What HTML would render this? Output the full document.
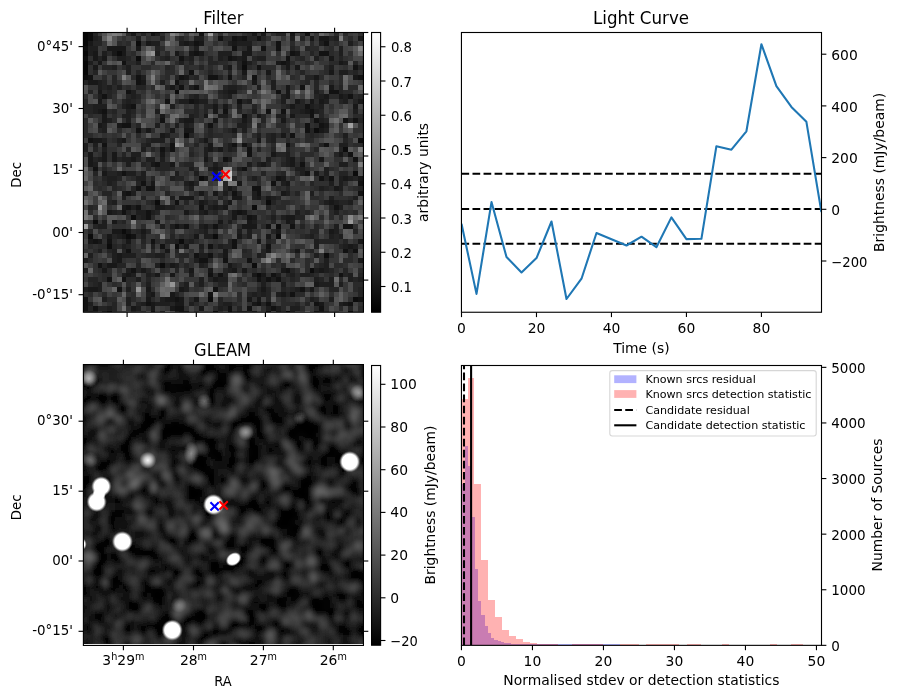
<!DOCTYPE html>
<html lang="en"><head><meta charset="utf-8"><title>Candidate plot</title>
<style>html,body{margin:0;padding:0;background:#fff}svg{display:block}</style></head>
<body>
<svg width="898" height="699" viewBox="0 0 898 699" font-family='"DejaVu Sans", "Liberation Sans", sans-serif' fill="#000">
<defs>
<linearGradient id="cb" x1="0" y1="1" x2="0" y2="0"><stop offset="0" stop-color="#000"/><stop offset="1" stop-color="#fff"/></linearGradient>
<radialGradient id="blob"><stop offset="0" stop-color="#fff" stop-opacity="1"/><stop offset="0.7" stop-color="#fff" stop-opacity="1"/><stop offset="0.81" stop-color="#fff" stop-opacity="0.62"/><stop offset="0.91" stop-color="#fff" stop-opacity="0.2"/><stop offset="1" stop-color="#fff" stop-opacity="0"/></radialGradient>
<radialGradient id="soft"><stop offset="0" stop-color="#fff" stop-opacity="1"/><stop offset="0.4" stop-color="#fff" stop-opacity="0.7"/><stop offset="1" stop-color="#fff" stop-opacity="0"/></radialGradient>
<filter id="bl" x="-5%" y="-5%" width="110%" height="110%"><feGaussianBlur stdDeviation="1.9"/></filter>
<clipPath id="c1"><rect x="83.4" y="32.5" width="280.05" height="279.7"/></clipPath>
<clipPath id="c2"><rect x="83.4" y="364.55" width="280.05" height="279.4"/></clipPath>
<clipPath id="c3"><rect x="461.45" y="32.5" width="360.05" height="279.75"/></clipPath>
<clipPath id="c4"><rect x="461.45" y="365.5" width="360.05" height="279.85"/></clipPath>
</defs>
<rect width="898" height="699" fill="#fff"/>
<g clip-path="url(#c1)" shape-rendering="crispEdges">
<rect x="83.40" y="32.50" width="280.05" height="279.70" fill="#343434" stroke="none" stroke-width="1.111"/>
<path fill="#060606" d="M83 32h5v4h-5zM83 36h5v5h-5zM83 41h5v5h-5zM83 51h5v5h-5zM83 61h5v4h-5zM83 65h5v5h-5zM83 70h5v5h-5z"/>
<path fill="#0c0c0c" d="M88 32h5v4h-5zM88 36h5v5h-5zM136 41h5v5h-5zM83 46h5v5h-5zM117 51h5v5h-5zM83 56h5v5h-5zM136 56h5v5h-5zM242 65h5v5h-5zM83 75h5v5h-5zM175 90h4v4h-4zM363 118h4v5h-4zM314 128h5v5h-5zM184 133h5v5h-5zM358 138h5v5h-5zM343 147h5v5h-5zM353 171h5v5h-5zM199 176h5v5h-5zM155 200h5v5h-5zM266 200h5v5h-5zM252 205h5v5h-5zM131 215h5v5h-5zM93 220h5v4h-5zM276 224h5v5h-5zM122 229h4v5h-4zM88 234h5v5h-5zM126 234h5v5h-5zM213 234h5v5h-5zM276 234h5v5h-5zM179 239h5v5h-5zM107 244h5v5h-5zM175 244h4v5h-4zM324 253h5v5h-5zM160 263h5v5h-5zM252 263h5v5h-5zM310 268h4v5h-4zM257 273h4v4h-4zM208 297h5v5h-5zM353 297h5v5h-5zM286 311h4v5h-4z"/>
<path fill="#121212" d="M151 32h4v4h-4zM199 32h5v4h-5zM305 32h5v4h-5zM218 36h5v5h-5zM232 36h5v5h-5zM242 36h5v5h-5zM257 36h4v5h-4zM194 41h5v5h-5zM276 41h5v5h-5zM324 41h5v5h-5zM232 46h5v5h-5zM261 46h5v5h-5zM276 46h5v5h-5zM194 51h5v5h-5zM290 51h5v5h-5zM319 51h10v5h-10zM179 56h5v5h-5zM228 56h4v5h-4zM286 56h4v5h-4zM122 61h4v4h-4zM242 61h5v4h-5zM281 61h5v4h-5zM257 65h4v5h-4zM353 65h5v5h-5zM189 70h5v5h-5zM88 75h5v5h-5zM136 75h5v5h-5zM179 75h5v5h-5zM208 75h10v5h-10zM228 75h4v5h-4zM252 75h5v5h-5zM358 75h5v5h-5zM136 80h5v5h-5zM175 80h4v5h-4zM179 85h5v5h-5zM194 85h5v5h-5zM300 85h5v5h-5zM126 90h5v4h-5zM276 90h5v4h-5zM329 90h10v4h-10zM102 94h5v5h-5zM348 94h5v5h-5zM363 94h4v5h-4zM165 99h5v5h-5zM189 99h5v5h-5zM237 99h5v5h-5zM131 104h5v5h-5zM305 104h5v5h-5zM102 109h5v5h-5zM223 109h5v5h-5zM266 109h5v5h-5zM281 109h5v5h-5zM310 109h4v5h-4zM242 114h5v4h-5zM310 114h4v4h-4zM160 118h5v5h-5zM314 118h5v5h-5zM343 118h5v5h-5zM353 118h5v5h-5zM122 123h9v5h-9zM208 123h5v5h-5zM305 123h5v5h-5zM319 123h5v5h-5zM136 128h5v5h-5zM305 128h5v5h-5zM290 133h5v5h-5zM88 138h5v5h-5zM102 143h5v4h-5zM170 143h5v4h-5zM232 143h5v4h-5zM242 143h5v4h-5zM286 143h4v4h-4zM324 143h5v4h-5zM160 147h5v5h-5zM170 147h5v5h-5zM247 147h5v5h-5zM247 152h5v5h-5zM348 152h5v5h-5zM223 157h5v5h-5zM353 157h5v5h-5zM155 162h5v5h-5zM300 162h5v5h-5zM93 167h5v4h-5zM242 167h5v4h-5zM122 171h4v5h-4zM305 171h5v5h-5zM276 176h5v5h-5zM319 176h5v5h-5zM329 176h5v5h-5zM141 181h5v5h-5zM271 181h5v5h-5zM358 181h5v5h-5zM136 186h5v5h-5zM146 186h9v5h-9zM252 186h9v5h-9zM126 191h5v5h-5zM232 191h5v5h-5zM257 191h4v5h-4zM358 191h5v5h-5zM175 200h4v5h-4zM126 205h5v5h-5zM136 205h5v5h-5zM199 205h5v5h-5zM334 205h5v5h-5zM122 210h4v5h-4zM146 210h5v5h-5zM237 210h5v5h-5zM146 215h5v5h-5zM247 215h5v5h-5zM175 224h4v5h-4zM184 224h5v5h-5zM213 224h5v5h-5zM266 224h5v5h-5zM290 224h5v5h-5zM343 224h10v5h-10zM131 234h5v5h-5zM93 239h5v5h-5zM107 239h5v5h-5zM151 239h4v5h-4zM232 239h5v5h-5zM160 244h5v5h-5zM208 244h5v5h-5zM232 244h5v5h-5zM266 244h5v5h-5zM126 249h5v4h-5zM343 249h5v4h-5zM353 249h5v4h-5zM194 253h5v5h-5zM208 253h5v5h-5zM199 258h9v5h-9zM223 258h5v5h-5zM247 258h5v5h-5zM98 263h4v5h-4zM131 268h5v5h-5zM286 268h4v5h-4zM208 273h5v4h-5zM218 273h5v4h-5zM271 273h5v4h-5zM339 273h4v4h-4zM107 277h5v5h-5zM122 277h4v5h-4zM257 277h4v5h-4zM266 277h5v5h-5zM276 277h5v5h-5zM117 287h5v5h-5zM213 287h5v5h-5zM300 287h5v5h-5zM208 292h5v5h-5zM290 292h5v5h-5zM83 297h5v5h-5zM175 297h4v5h-4zM358 297h5v5h-5zM83 302h5v4h-5zM146 302h5v4h-5zM257 302h4v4h-4zM266 302h5v4h-5zM314 302h5v4h-5zM348 302h5v4h-5zM83 306h5v5h-5zM93 306h5v5h-5zM175 306h9v5h-9zM228 306h4v5h-4zM247 306h5v5h-5zM271 306h5v5h-5zM319 306h5v5h-5zM107 311h5v5h-5zM213 311h5v5h-5zM348 311h5v5h-5z"/>
<path fill="#181818" d="M131 32h5v4h-5zM252 32h5v4h-5zM261 32h5v4h-5zM290 32h5v4h-5zM237 36h5v5h-5zM310 36h4v5h-4zM319 36h10v5h-10zM358 36h9v5h-9zM88 41h5v5h-5zM146 41h5v5h-5zM184 41h5v5h-5zM199 41h5v5h-5zM232 41h5v5h-5zM363 41h4v5h-4zM107 46h19v5h-19zM136 46h5v5h-5zM247 46h5v5h-5zM93 51h5v5h-5zM112 51h5v5h-5zM122 51h4v5h-4zM175 51h4v5h-4zM189 51h5v5h-5zM199 51h5v5h-5zM242 51h10v5h-10zM295 51h5v5h-5zM93 56h5v5h-5zM102 56h5v5h-5zM232 56h5v5h-5zM242 56h5v5h-5zM329 56h5v5h-5zM98 61h4v4h-4zM276 61h5v4h-5zM286 61h4v4h-4zM339 61h4v4h-4zM93 65h5v5h-5zM228 65h4v5h-4zM286 65h4v5h-4zM295 65h5v5h-5zM242 70h5v5h-5zM266 70h5v5h-5zM329 70h5v5h-5zM184 75h5v5h-5zM314 75h5v5h-5zM353 75h5v5h-5zM88 80h10v5h-10zM141 80h5v5h-5zM252 80h5v5h-5zM170 85h5v5h-5zM286 85h4v5h-4zM329 85h5v5h-5zM98 90h4v4h-4zM228 90h9v4h-9zM286 90h4v4h-4zM286 94h4v5h-4zM324 94h5v5h-5zM339 94h4v5h-4zM98 99h4v5h-4zM194 99h5v5h-5zM295 99h5v5h-5zM310 99h4v5h-4zM319 99h5v5h-5zM358 99h5v5h-5zM126 104h5v5h-5zM213 104h5v5h-5zM223 104h5v5h-5zM290 104h5v5h-5zM353 104h5v5h-5zM98 109h4v5h-4zM213 109h5v5h-5zM305 109h5v5h-5zM102 114h5v4h-5zM160 114h5v4h-5zM204 114h4v4h-4zM257 114h4v4h-4zM290 114h5v4h-5zM102 118h5v5h-5zM184 118h10v5h-10zM213 118h5v5h-5zM242 118h5v5h-5zM281 118h5v5h-5zM98 123h4v5h-4zM117 123h5v5h-5zM324 123h5v5h-5zM146 128h5v5h-5zM170 128h5v5h-5zM184 128h10v5h-10zM232 128h5v5h-5zM319 128h5v5h-5zM160 133h5v5h-5zM281 133h5v5h-5zM93 138h9v5h-9zM122 138h4v5h-4zM204 138h4v5h-4zM257 138h4v5h-4zM208 143h5v4h-5zM208 147h5v5h-5zM218 147h5v5h-5zM88 152h5v5h-5zM102 152h5v5h-5zM112 152h5v5h-5zM160 152h5v5h-5zM271 152h5v5h-5zM339 152h4v5h-4zM88 157h5v5h-5zM102 157h5v5h-5zM112 157h5v5h-5zM131 157h5v5h-5zM204 157h4v5h-4zM290 157h5v5h-5zM319 157h5v5h-5zM88 162h5v5h-5zM151 162h4v5h-4zM170 162h5v5h-5zM261 162h5v5h-5zM290 162h5v5h-5zM213 167h5v4h-5zM102 171h5v5h-5zM314 171h5v5h-5zM204 176h4v5h-4zM281 176h5v5h-5zM343 176h5v5h-5zM358 176h5v5h-5zM151 181h4v5h-4zM189 181h5v5h-5zM237 181h5v5h-5zM286 181h4v5h-4zM228 186h4v5h-4zM334 186h5v5h-5zM122 191h4v5h-4zM199 191h5v5h-5zM213 191h5v5h-5zM281 191h5v5h-5zM179 196h15v4h-15zM232 196h10v4h-10zM257 196h4v4h-4zM266 196h5v4h-5zM199 200h5v5h-5zM228 200h4v5h-4zM329 200h5v5h-5zM122 205h4v5h-4zM155 205h10v5h-10zM213 205h5v5h-5zM223 205h5v5h-5zM107 210h5v5h-5zM184 210h5v5h-5zM204 210h4v5h-4zM232 210h5v5h-5zM242 210h5v5h-5zM232 215h5v5h-5zM252 215h5v5h-5zM286 215h9v5h-9zM112 220h5v4h-5zM155 220h5v4h-5zM218 220h5v4h-5zM247 220h5v4h-5zM286 220h4v4h-4zM204 224h4v5h-4zM242 224h15v5h-15zM112 229h10v5h-10zM126 229h5v5h-5zM141 229h5v5h-5zM276 229h5v5h-5zM329 229h5v5h-5zM107 234h5v5h-5zM122 234h4v5h-4zM194 234h5v5h-5zM237 234h5v5h-5zM266 234h5v5h-5zM88 239h5v5h-5zM98 239h4v5h-4zM126 239h5v5h-5zM257 239h4v5h-4zM358 239h5v5h-5zM184 244h5v5h-5zM348 244h5v5h-5zM165 249h5v4h-5zM223 249h5v4h-5zM266 249h5v4h-5zM295 249h5v4h-5zM117 253h5v5h-5zM223 253h5v5h-5zM117 258h5v5h-5zM358 258h5v5h-5zM107 263h10v5h-10zM170 263h5v5h-5zM228 263h4v5h-4zM102 268h5v5h-5zM141 268h5v5h-5zM189 268h5v5h-5zM208 268h5v5h-5zM232 268h5v5h-5zM242 268h5v5h-5zM281 268h5v5h-5zM319 268h5v5h-5zM126 273h5v4h-5zM155 273h5v4h-5zM170 273h5v4h-5zM252 273h5v4h-5zM261 273h5v4h-5zM213 277h5v5h-5zM314 282h5v5h-5zM88 287h10v5h-10zM146 287h5v5h-5zM179 287h5v5h-5zM261 287h5v5h-5zM310 287h4v5h-4zM151 292h4v5h-4zM170 292h5v5h-5zM281 292h5v5h-5zM146 297h5v5h-5zM165 297h10v5h-10zM179 297h5v5h-5zM194 297h5v5h-5zM247 297h5v5h-5zM257 297h4v5h-4zM151 302h4v4h-4zM175 302h9v4h-9zM252 302h5v4h-5zM319 302h5v4h-5zM343 302h5v4h-5zM131 306h5v5h-5zM151 306h4v5h-4zM170 306h5v5h-5zM199 306h5v5h-5zM151 311h4v5h-4zM228 311h4v5h-4zM266 311h5v5h-5z"/>
<path fill="#1e1e1e" d="M155 32h5v4h-5zM93 36h5v5h-5zM136 36h5v5h-5zM194 36h10v5h-10zM290 36h5v5h-5zM334 36h5v5h-5zM151 41h9v5h-9zM179 41h5v5h-5zM189 41h5v5h-5zM228 41h4v5h-4zM237 41h15v5h-15zM319 41h5v5h-5zM348 41h5v5h-5zM88 46h10v5h-10zM194 46h5v5h-5zM339 46h4v5h-4zM88 51h5v5h-5zM102 51h5v5h-5zM155 51h5v5h-5zM218 51h14v5h-14zM339 51h4v5h-4zM117 56h9v5h-9zM165 56h5v5h-5zM189 56h5v5h-5zM218 56h5v5h-5zM237 56h5v5h-5zM257 56h9v5h-9zM314 56h5v5h-5zM88 61h5v4h-5zM136 61h5v4h-5zM179 61h5v4h-5zM247 61h5v4h-5zM343 61h5v4h-5zM112 65h5v5h-5zM126 65h5v5h-5zM329 65h5v5h-5zM363 65h4v5h-4zM126 70h5v5h-5zM339 70h9v5h-9zM141 75h5v5h-5zM363 75h4v5h-4zM98 80h4v5h-4zM160 80h5v5h-5zM271 80h5v5h-5zM98 85h4v5h-4zM107 85h5v5h-5zM117 85h5v5h-5zM189 85h5v5h-5zM228 85h9v5h-9zM257 85h4v5h-4zM271 85h5v5h-5zM131 90h5v4h-5zM223 90h5v4h-5zM314 90h5v4h-5zM98 94h4v5h-4zM131 94h5v5h-5zM194 94h5v5h-5zM228 94h4v5h-4zM281 94h5v5h-5zM319 94h5v5h-5zM343 94h5v5h-5zM126 99h5v5h-5zM179 99h10v5h-10zM199 99h9v5h-9zM247 99h5v5h-5zM281 99h5v5h-5zM324 99h5v5h-5zM343 99h5v5h-5zM93 104h14v5h-14zM122 104h4v5h-4zM170 104h5v5h-5zM237 104h5v5h-5zM310 104h4v5h-4zM319 104h5v5h-5zM93 109h5v5h-5zM126 109h5v5h-5zM155 109h5v5h-5zM252 109h5v5h-5zM300 109h5v5h-5zM314 109h5v5h-5zM353 109h5v5h-5zM122 114h9v4h-9zM189 114h5v4h-5zM218 114h10v4h-10zM276 114h10v4h-10zM363 114h4v4h-4zM107 118h5v5h-5zM126 118h5v5h-5zM179 118h5v5h-5zM319 118h5v5h-5zM102 123h5v5h-5zM155 123h5v5h-5zM175 123h4v5h-4zM184 123h5v5h-5zM237 123h10v5h-10zM102 128h5v5h-5zM242 128h5v5h-5zM324 128h5v5h-5zM165 133h5v5h-5zM257 133h4v5h-4zM271 133h5v5h-5zM343 133h5v5h-5zM102 138h5v5h-5zM117 138h5v5h-5zM151 138h14v5h-14zM271 138h5v5h-5zM83 143h5v4h-5zM93 143h5v4h-5zM146 143h5v4h-5zM228 143h4v4h-4zM339 143h9v4h-9zM83 147h5v5h-5zM102 147h5v5h-5zM141 147h5v5h-5zM204 147h4v5h-4zM228 147h4v5h-4zM131 152h10v5h-10zM204 152h4v5h-4zM286 152h4v5h-4zM98 157h4v5h-4zM122 157h9v5h-9zM146 157h9v5h-9zM160 157h5v5h-5zM228 157h4v5h-4zM266 157h5v5h-5zM286 157h4v5h-4zM93 162h5v5h-5zM126 162h5v5h-5zM213 162h5v5h-5zM247 162h5v5h-5zM257 162h4v5h-4zM286 162h4v5h-4zM339 162h9v5h-9zM189 167h5v4h-5zM208 167h5v4h-5zM218 167h5v4h-5zM237 167h5v4h-5zM295 167h10v4h-10zM324 167h5v4h-5zM117 171h5v5h-5zM126 171h10v5h-10zM141 171h5v5h-5zM175 171h4v5h-4zM194 171h5v5h-5zM213 171h5v5h-5zM300 171h5v5h-5zM324 171h5v5h-5zM107 176h10v5h-10zM136 176h10v5h-10zM170 176h5v5h-5zM213 176h5v5h-5zM252 176h5v5h-5zM339 176h4v5h-4zM348 176h5v5h-5zM107 181h5v5h-5zM184 181h5v5h-5zM281 181h5v5h-5zM329 181h5v5h-5zM339 181h4v5h-4zM189 186h5v5h-5zM319 186h5v5h-5zM339 186h4v5h-4zM131 191h5v5h-5zM223 191h5v5h-5zM252 191h5v5h-5zM286 191h4v5h-4zM310 191h4v5h-4zM122 196h4v4h-4zM170 196h5v4h-5zM252 196h5v4h-5zM271 196h5v4h-5zM329 196h5v4h-5zM353 196h5v4h-5zM112 200h5v5h-5zM204 200h4v5h-4zM324 200h5v5h-5zM334 200h5v5h-5zM348 200h5v5h-5zM131 205h5v5h-5zM165 205h10v5h-10zM208 205h5v5h-5zM218 205h5v5h-5zM339 205h4v5h-4zM112 210h5v5h-5zM136 210h10v5h-10zM151 210h4v5h-4zM199 210h5v5h-5zM295 210h5v5h-5zM334 210h5v5h-5zM141 215h5v5h-5zM271 215h5v5h-5zM281 215h5v5h-5zM102 220h5v4h-5zM228 220h4v4h-4zM252 220h5v4h-5zM290 220h5v4h-5zM98 224h9v5h-9zM160 224h5v5h-5zM170 224h5v5h-5zM179 224h5v5h-5zM199 224h5v5h-5zM334 224h5v5h-5zM204 229h4v5h-4zM237 229h5v5h-5zM247 229h5v5h-5zM334 229h5v5h-5zM363 229h4v5h-4zM117 234h5v5h-5zM141 234h5v5h-5zM204 234h9v5h-9zM247 234h5v5h-5zM310 234h4v5h-4zM329 234h5v5h-5zM339 234h4v5h-4zM175 239h4v5h-4zM189 239h5v5h-5zM314 239h5v5h-5zM122 244h4v5h-4zM151 244h4v5h-4zM199 244h5v5h-5zM218 244h5v5h-5zM314 244h5v5h-5zM343 244h5v5h-5zM353 244h5v5h-5zM363 244h4v5h-4zM98 249h4v4h-4zM112 249h5v4h-5zM88 253h5v5h-5zM112 253h5v5h-5zM122 253h14v5h-14zM155 253h10v5h-10zM199 253h9v5h-9zM257 253h4v5h-4zM314 253h5v5h-5zM83 258h5v5h-5zM112 258h5v5h-5zM194 258h5v5h-5zM324 258h5v5h-5zM155 263h5v5h-5zM175 263h4v5h-4zM199 263h5v5h-5zM324 263h5v5h-5zM83 268h5v5h-5zM126 268h5v5h-5zM228 268h4v5h-4zM314 268h5v5h-5zM324 268h5v5h-5zM122 273h4v4h-4zM131 273h5v4h-5zM146 273h5v4h-5zM189 273h5v4h-5zM276 273h5v4h-5zM290 273h5v4h-5zM300 273h10v4h-10zM348 273h5v4h-5zM136 277h5v5h-5zM199 277h5v5h-5zM218 277h10v5h-10zM261 277h5v5h-5zM271 277h5v5h-5zM314 277h5v5h-5zM329 277h5v5h-5zM348 277h5v5h-5zM358 277h5v5h-5zM98 282h4v5h-4zM146 282h5v5h-5zM184 282h5v5h-5zM199 282h5v5h-5zM261 282h5v5h-5zM281 282h5v5h-5zM319 282h15v5h-15zM339 282h4v5h-4zM83 287h5v5h-5zM98 287h4v5h-4zM126 287h5v5h-5zM184 287h5v5h-5zM295 287h5v5h-5zM146 292h5v5h-5zM252 292h5v5h-5zM261 292h5v5h-5zM276 292h5v5h-5zM102 297h5v5h-5zM126 297h5v5h-5zM160 297h5v5h-5zM310 297h4v5h-4zM329 297h5v5h-5zM88 302h5v4h-5zM126 302h5v4h-5zM141 302h5v4h-5zM155 302h15v4h-15zM189 302h5v4h-5zM223 302h9v4h-9zM339 302h4v4h-4zM107 306h5v5h-5zM136 306h5v5h-5zM218 306h5v5h-5zM266 306h5v5h-5zM276 306h5v5h-5zM290 306h10v5h-10zM179 311h5v5h-5zM314 311h5v5h-5z"/>
<path fill="#242424" d="M93 32h5v4h-5zM141 32h5v4h-5zM276 32h10v4h-10zM98 36h4v5h-4zM160 36h5v5h-5zM179 36h5v5h-5zM247 36h10v5h-10zM261 36h5v5h-5zM300 36h5v5h-5zM329 36h5v5h-5zM93 41h9v5h-9zM155 46h5v5h-5zM290 46h5v5h-5zM305 46h5v5h-5zM310 51h4v5h-4zM98 56h4v5h-4zM126 56h5v5h-5zM160 56h5v5h-5zM184 56h5v5h-5zM208 56h5v5h-5zM223 56h5v5h-5zM252 56h5v5h-5zM300 56h5v5h-5zM339 56h4v5h-4zM189 61h5v4h-5zM208 61h10v4h-10zM237 61h5v4h-5zM353 61h5v4h-5zM102 65h10v5h-10zM165 65h5v5h-5zM199 65h5v5h-5zM223 65h5v5h-5zM237 65h5v5h-5zM358 65h5v5h-5zM93 70h5v5h-5zM136 70h5v5h-5zM208 70h5v5h-5zM228 70h4v5h-4zM300 70h5v5h-5zM353 70h5v5h-5zM112 75h5v5h-5zM175 75h4v5h-4zM194 75h5v5h-5zM218 75h5v5h-5zM242 75h5v5h-5zM305 75h9v5h-9zM83 80h5v5h-5zM102 80h5v5h-5zM112 80h5v5h-5zM305 80h5v5h-5zM314 80h5v5h-5zM102 85h5v5h-5zM136 85h10v5h-10zM165 85h5v5h-5zM223 85h5v5h-5zM237 85h5v5h-5zM314 85h5v5h-5zM339 85h4v5h-4zM88 90h5v4h-5zM107 90h5v4h-5zM218 90h5v4h-5zM339 90h4v4h-4zM107 94h5v5h-5zM126 94h5v5h-5zM136 94h5v5h-5zM189 94h5v5h-5zM223 94h5v5h-5zM314 94h5v5h-5zM358 94h5v5h-5zM83 99h5v5h-5zM122 99h4v5h-4zM131 99h5v5h-5zM242 99h5v5h-5zM300 99h5v5h-5zM339 99h4v5h-4zM353 99h5v5h-5zM363 99h4v5h-4zM83 104h10v5h-10zM194 104h5v5h-5zM204 104h9v5h-9zM252 104h5v5h-5zM286 104h4v5h-4zM295 104h10v5h-10zM314 104h5v5h-5zM83 109h10v5h-10zM112 109h5v5h-5zM131 109h5v5h-5zM194 109h5v5h-5zM204 109h4v5h-4zM237 109h5v5h-5zM290 109h10v5h-10zM319 109h5v5h-5zM363 109h4v5h-4zM194 114h5v4h-5zM247 114h5v4h-5zM261 114h5v4h-5zM319 114h5v4h-5zM247 118h5v5h-5zM261 118h5v5h-5zM324 118h5v5h-5zM348 118h5v5h-5zM358 118h5v5h-5zM136 123h5v5h-5zM189 123h5v5h-5zM257 123h4v5h-4zM98 128h4v5h-4zM208 128h5v5h-5zM228 128h4v5h-4zM310 128h4v5h-4zM189 133h5v5h-5zM208 133h5v5h-5zM266 133h5v5h-5zM310 133h4v5h-4zM146 138h5v5h-5zM170 138h5v5h-5zM199 138h5v5h-5zM266 138h5v5h-5zM343 138h5v5h-5zM117 143h5v4h-5zM141 143h5v4h-5zM194 143h5v4h-5zM247 143h5v4h-5zM319 143h5v4h-5zM93 147h5v5h-5zM126 147h5v5h-5zM151 147h4v5h-4zM165 147h5v5h-5zM213 147h5v5h-5zM232 147h5v5h-5zM257 147h4v5h-4zM271 147h5v5h-5zM286 147h4v5h-4zM314 147h5v5h-5zM339 147h4v5h-4zM122 152h4v5h-4zM189 152h5v5h-5zM276 152h10v5h-10zM334 152h5v5h-5zM93 157h5v5h-5zM117 157h5v5h-5zM136 157h5v5h-5zM300 157h5v5h-5zM141 162h5v5h-5zM160 162h10v5h-10zM184 162h10v5h-10zM266 162h5v5h-5zM281 162h5v5h-5zM102 167h5v4h-5zM155 167h15v4h-15zM93 171h5v5h-5zM107 171h10v5h-10zM261 171h5v5h-5zM281 171h5v5h-5zM339 171h9v5h-9zM102 176h5v5h-5zM117 176h5v5h-5zM151 176h4v5h-4zM175 176h9v5h-9zM232 176h5v5h-5zM324 176h5v5h-5zM353 176h5v5h-5zM112 181h5v5h-5zM136 181h5v5h-5zM194 181h5v5h-5zM223 181h5v5h-5zM310 181h4v5h-4zM112 186h5v5h-5zM131 186h5v5h-5zM223 186h5v5h-5zM232 186h5v5h-5zM286 186h4v5h-4zM324 186h5v5h-5zM358 186h5v5h-5zM102 191h10v5h-10zM165 191h5v5h-5zM237 191h5v5h-5zM295 191h5v5h-5zM363 191h4v5h-4zM141 196h5v4h-5zM218 196h5v4h-5zM276 196h5v4h-5zM107 200h5v5h-5zM151 200h4v5h-4zM184 200h5v5h-5zM213 200h5v5h-5zM223 200h5v5h-5zM271 200h5v5h-5zM339 200h9v5h-9zM88 205h5v5h-5zM266 205h5v5h-5zM329 205h5v5h-5zM117 210h5v5h-5zM126 210h5v5h-5zM155 210h5v5h-5zM213 210h5v5h-5zM305 210h5v5h-5zM136 215h5v5h-5zM295 215h10v5h-10zM122 220h4v4h-4zM271 220h5v4h-5zM93 224h5v5h-5zM208 224h5v5h-5zM218 224h5v5h-5zM300 224h5v5h-5zM314 224h5v5h-5zM88 229h5v5h-5zM136 229h5v5h-5zM146 229h5v5h-5zM199 229h5v5h-5zM271 229h5v5h-5zM310 229h9v5h-9zM353 229h5v5h-5zM112 234h5v5h-5zM170 234h5v5h-5zM305 234h5v5h-5zM334 234h5v5h-5zM141 239h5v5h-5zM165 239h10v5h-10zM184 239h5v5h-5zM228 239h4v5h-4zM266 239h5v5h-5zM319 239h20v5h-20zM343 239h5v5h-5zM112 244h5v5h-5zM126 244h5v5h-5zM223 244h9v5h-9zM339 244h4v5h-4zM107 249h5v4h-5zM122 249h4v4h-4zM175 249h4v4h-4zM199 249h5v4h-5zM242 249h5v4h-5zM261 249h5v4h-5zM310 249h4v4h-4zM348 249h5v4h-5zM146 253h9v5h-9zM179 253h10v5h-10zM218 253h5v5h-5zM261 253h5v5h-5zM102 263h5v5h-5zM117 263h9v5h-9zM136 263h5v5h-5zM165 263h5v5h-5zM184 263h5v5h-5zM204 263h4v5h-4zM232 263h5v5h-5zM281 263h5v5h-5zM319 263h5v5h-5zM136 268h5v5h-5zM146 268h5v5h-5zM175 268h4v5h-4zM223 268h5v5h-5zM290 268h5v5h-5zM329 268h5v5h-5zM343 268h5v5h-5zM151 273h4v4h-4zM223 273h5v4h-5zM286 273h4v4h-4zM310 273h4v4h-4zM343 273h5v4h-5zM358 273h5v4h-5zM88 277h10v5h-10zM146 277h5v5h-5zM208 277h5v5h-5zM290 277h5v5h-5zM319 277h5v5h-5zM353 277h5v5h-5zM93 282h5v5h-5zM218 282h10v5h-10zM257 287h4v5h-4zM266 287h5v5h-5zM281 287h5v5h-5zM290 287h5v5h-5zM329 287h10v5h-10zM358 287h5v5h-5zM175 292h4v5h-4zM247 292h5v5h-5zM257 292h4v5h-4zM266 292h5v5h-5zM286 292h4v5h-4zM358 292h5v5h-5zM218 297h5v5h-5zM266 297h5v5h-5zM314 297h5v5h-5zM112 302h5v4h-5zM136 302h5v4h-5zM170 302h5v4h-5zM218 302h5v4h-5zM261 302h5v4h-5zM295 302h5v4h-5zM305 302h5v4h-5zM88 306h5v5h-5zM98 306h9v5h-9zM112 306h5v5h-5zM223 306h5v5h-5zM237 306h5v5h-5zM348 306h5v5h-5zM102 311h5v5h-5zM184 311h5v5h-5zM252 311h5v5h-5zM276 311h5v5h-5zM319 311h5v5h-5z"/>
<path fill="#2a2a2a" d="M126 32h5v4h-5zM247 32h5v4h-5zM334 32h5v4h-5zM343 32h5v4h-5zM223 36h9v5h-9zM348 36h5v5h-5zM117 41h5v5h-5zM126 41h5v5h-5zM290 41h5v5h-5zM310 41h4v5h-4zM334 41h5v5h-5zM160 46h5v5h-5zM242 46h5v5h-5zM310 46h9v5h-9zM329 46h5v5h-5zM363 46h4v5h-4zM107 51h5v5h-5zM131 51h5v5h-5zM165 51h5v5h-5zM179 51h5v5h-5zM329 51h5v5h-5zM199 56h5v5h-5zM295 56h5v5h-5zM126 61h10v4h-10zM151 61h4v4h-4zM175 61h4v4h-4zM218 61h10v4h-10zM252 61h5v4h-5zM290 61h5v4h-5zM305 61h5v4h-5zM329 61h10v4h-10zM122 65h4v5h-4zM141 65h10v5h-10zM170 65h5v5h-5zM184 65h5v5h-5zM208 65h5v5h-5zM247 65h5v5h-5zM261 65h15v5h-15zM281 65h5v5h-5zM324 65h5v5h-5zM165 70h10v5h-10zM286 70h4v5h-4zM324 70h5v5h-5zM348 70h5v5h-5zM363 70h4v5h-4zM102 75h5v5h-5zM131 75h5v5h-5zM165 75h5v5h-5zM189 75h5v5h-5zM266 75h5v5h-5zM290 75h5v5h-5zM319 75h5v5h-5zM339 75h4v5h-4zM179 80h5v5h-5zM300 80h5v5h-5zM329 80h5v5h-5zM339 80h4v5h-4zM112 85h5v5h-5zM126 85h5v5h-5zM151 85h4v5h-4zM175 85h4v5h-4zM242 85h5v5h-5zM348 85h10v5h-10zM102 90h5v4h-5zM112 90h5v4h-5zM319 90h5v4h-5zM343 90h10v4h-10zM165 94h5v5h-5zM204 94h4v5h-4zM218 94h5v5h-5zM329 94h10v5h-10zM353 94h5v5h-5zM136 99h5v5h-5zM175 99h4v5h-4zM213 99h5v5h-5zM314 99h5v5h-5zM228 104h4v5h-4zM281 104h5v5h-5zM107 109h5v5h-5zM184 109h10v5h-10zM88 114h5v4h-5zM112 114h5v4h-5zM131 114h5v4h-5zM295 114h15v4h-15zM353 114h10v4h-10zM83 118h5v5h-5zM112 118h5v5h-5zM237 118h5v5h-5zM310 118h4v5h-4zM83 123h5v5h-5zM165 123h5v5h-5zM204 123h4v5h-4zM247 123h5v5h-5zM276 123h10v5h-10zM314 123h5v5h-5zM83 128h5v5h-5zM117 128h5v5h-5zM141 128h5v5h-5zM151 128h4v5h-4zM223 128h5v5h-5zM281 128h9v5h-9zM83 133h10v5h-10zM136 133h5v5h-5zM204 133h4v5h-4zM213 133h10v5h-10zM232 133h5v5h-5zM252 133h5v5h-5zM276 133h5v5h-5zM305 133h5v5h-5zM314 133h5v5h-5zM112 138h5v5h-5zM286 138h4v5h-4zM305 138h9v5h-9zM223 143h5v4h-5zM271 143h5v4h-5zM290 143h5v4h-5zM353 143h10v4h-10zM189 147h5v5h-5zM223 147h5v5h-5zM300 152h14v5h-14zM343 152h5v5h-5zM208 157h5v5h-5zM281 157h5v5h-5zM146 162h5v5h-5zM179 162h5v5h-5zM204 162h4v5h-4zM218 162h5v5h-5zM295 162h5v5h-5zM146 167h5v4h-5zM170 167h5v4h-5zM194 167h5v4h-5zM305 167h5v4h-5zM329 167h5v4h-5zM276 171h5v5h-5zM295 171h5v5h-5zM131 176h5v5h-5zM247 176h5v5h-5zM257 176h4v5h-4zM271 176h5v5h-5zM290 176h5v5h-5zM93 181h5v5h-5zM102 181h5v5h-5zM257 181h4v5h-4zM343 181h5v5h-5zM98 186h4v5h-4zM117 186h5v5h-5zM184 186h5v5h-5zM276 186h5v5h-5zM314 186h5v5h-5zM329 186h5v5h-5zM353 186h5v5h-5zM83 191h5v5h-5zM194 191h5v5h-5zM204 191h4v5h-4zM339 191h4v5h-4zM107 196h5v4h-5zM204 196h4v4h-4zM261 196h5v4h-5zM310 196h9v4h-9zM348 196h5v4h-5zM146 200h5v5h-5zM194 200h5v5h-5zM208 200h5v5h-5zM281 200h9v5h-9zM319 200h5v5h-5zM93 205h5v5h-5zM175 205h9v5h-9zM276 205h10v5h-10zM300 205h5v5h-5zM88 210h5v5h-5zM189 210h5v5h-5zM208 210h5v5h-5zM228 210h4v5h-4zM271 210h5v5h-5zM300 210h5v5h-5zM329 210h5v5h-5zM343 210h5v5h-5zM353 210h5v5h-5zM93 215h5v5h-5zM151 215h4v5h-4zM165 215h5v5h-5zM218 215h5v5h-5zM228 215h4v5h-4zM242 215h5v5h-5zM266 215h5v5h-5zM319 215h5v5h-5zM329 215h5v5h-5zM339 215h4v5h-4zM117 220h5v4h-5zM141 224h5v5h-5zM223 224h5v5h-5zM237 224h5v5h-5zM261 224h5v5h-5zM363 224h4v5h-4zM131 229h5v5h-5zM170 229h5v5h-5zM194 229h5v5h-5zM213 229h5v5h-5zM102 234h5v5h-5zM136 234h5v5h-5zM179 234h5v5h-5zM189 234h5v5h-5zM242 234h5v5h-5zM300 234h5v5h-5zM314 234h5v5h-5zM112 239h5v5h-5zM122 239h4v5h-4zM155 239h5v5h-5zM194 239h5v5h-5zM271 239h5v5h-5zM88 244h5v5h-5zM98 244h9v5h-9zM117 244h5v5h-5zM141 244h5v5h-5zM179 244h5v5h-5zM213 244h5v5h-5zM93 249h5v4h-5zM151 249h4v4h-4zM247 249h5v4h-5zM290 249h5v4h-5zM305 249h5v4h-5zM141 253h5v5h-5zM175 253h4v5h-4zM242 253h10v5h-10zM329 253h5v5h-5zM348 253h5v5h-5zM88 258h5v5h-5zM136 258h5v5h-5zM160 258h5v5h-5zM179 258h5v5h-5zM208 258h5v5h-5zM276 258h5v5h-5zM290 258h5v5h-5zM305 258h5v5h-5zM343 258h10v5h-10zM237 263h5v5h-5zM271 263h5v5h-5zM305 263h5v5h-5zM314 263h5v5h-5zM334 263h9v5h-9zM98 268h4v5h-4zM107 268h5v5h-5zM160 268h5v5h-5zM184 268h5v5h-5zM252 268h5v5h-5zM261 268h5v5h-5zM305 268h5v5h-5zM358 268h5v5h-5zM102 273h10v4h-10zM213 273h5v4h-5zM295 273h5v4h-5zM314 273h5v4h-5zM329 273h5v4h-5zM102 277h5v5h-5zM126 277h10v5h-10zM237 277h5v5h-5zM252 277h5v5h-5zM281 277h5v5h-5zM295 277h5v5h-5zM339 277h4v5h-4zM88 282h5v5h-5zM112 282h5v5h-5zM126 282h5v5h-5zM179 282h5v5h-5zM194 282h5v5h-5zM242 282h5v5h-5zM353 282h10v5h-10zM286 287h4v5h-4zM305 287h5v5h-5zM353 287h5v5h-5zM88 292h5v5h-5zM102 292h5v5h-5zM131 292h5v5h-5zM237 292h5v5h-5zM295 292h10v5h-10zM107 297h10v5h-10zM131 297h5v5h-5zM151 297h4v5h-4zM189 297h5v5h-5zM237 297h5v5h-5zM281 297h5v5h-5zM194 302h5v4h-5zM204 302h4v4h-4zM232 302h5v4h-5zM281 302h14v4h-14zM363 302h4v4h-4zM213 306h5v5h-5zM281 306h5v5h-5zM300 306h5v5h-5zM314 306h5v5h-5zM339 306h4v5h-4zM358 306h5v5h-5zM83 311h10v5h-10zM237 311h10v5h-10zM290 311h5v5h-5z"/>
<path fill="#303030" d="M160 32h5v4h-5zM218 32h5v4h-5zM242 32h5v4h-5zM271 32h5v4h-5zM300 32h5v4h-5zM358 32h5v4h-5zM122 36h4v5h-4zM146 36h5v5h-5zM175 36h4v5h-4zM184 36h5v5h-5zM266 36h5v5h-5zM122 41h4v5h-4zM141 41h5v5h-5zM213 41h5v5h-5zM223 41h5v5h-5zM252 41h5v5h-5zM261 41h5v5h-5zM329 41h5v5h-5zM353 41h5v5h-5zM189 46h5v5h-5zM237 46h5v5h-5zM295 46h5v5h-5zM324 46h5v5h-5zM126 51h5v5h-5zM204 51h4v5h-4zM257 51h9v5h-9zM276 51h5v5h-5zM286 51h4v5h-4zM314 51h5v5h-5zM334 51h5v5h-5zM348 51h5v5h-5zM88 56h5v5h-5zM112 56h5v5h-5zM131 56h5v5h-5zM155 56h5v5h-5zM170 56h5v5h-5zM319 56h5v5h-5zM334 56h5v5h-5zM343 56h5v5h-5zM93 61h5v4h-5zM184 61h5v4h-5zM310 61h4v4h-4zM88 65h5v5h-5zM189 65h10v5h-10zM252 65h5v5h-5zM343 65h5v5h-5zM88 70h5v5h-5zM184 70h5v5h-5zM204 70h4v5h-4zM213 70h5v5h-5zM257 70h4v5h-4zM295 70h5v5h-5zM319 70h5v5h-5zM358 70h5v5h-5zM160 75h5v5h-5zM237 75h5v5h-5zM295 75h5v5h-5zM117 80h5v5h-5zM184 80h5v5h-5zM232 80h5v5h-5zM122 85h4v5h-4zM290 85h5v5h-5zM334 85h5v5h-5zM141 90h5v4h-5zM237 90h5v4h-5zM252 90h5v4h-5zM83 94h5v5h-5zM93 94h5v5h-5zM112 94h5v5h-5zM155 94h5v5h-5zM199 94h5v5h-5zM102 99h5v5h-5zM112 99h5v5h-5zM276 99h5v5h-5zM117 104h5v5h-5zM218 104h5v5h-5zM329 104h5v5h-5zM141 109h5v5h-5zM199 109h5v5h-5zM247 109h5v5h-5zM93 114h9v4h-9zM199 114h5v4h-5zM228 114h4v4h-4zM98 118h4v5h-4zM122 118h4v5h-4zM199 118h5v5h-5zM223 118h5v5h-5zM232 118h5v5h-5zM286 118h4v5h-4zM295 118h5v5h-5zM131 123h5v5h-5zM213 123h5v5h-5zM261 123h5v5h-5zM295 123h5v5h-5zM310 123h4v5h-4zM339 123h4v5h-4zM358 123h5v5h-5zM165 128h5v5h-5zM204 128h4v5h-4zM213 128h5v5h-5zM257 128h4v5h-4zM353 128h10v5h-10zM102 133h5v5h-5zM112 133h5v5h-5zM126 133h5v5h-5zM170 133h9v5h-9zM223 133h9v5h-9zM286 133h4v5h-4zM319 133h5v5h-5zM339 133h4v5h-4zM107 138h5v5h-5zM141 138h5v5h-5zM194 138h5v5h-5zM208 138h5v5h-5zM223 138h5v5h-5zM295 138h5v5h-5zM348 138h5v5h-5zM165 143h5v4h-5zM184 143h5v4h-5zM204 143h4v4h-4zM348 143h5v4h-5zM107 147h10v5h-10zM155 147h5v5h-5zM290 147h5v5h-5zM310 147h4v5h-4zM83 152h5v5h-5zM98 152h4v5h-4zM107 152h5v5h-5zM165 152h5v5h-5zM194 152h5v5h-5zM223 152h9v5h-9zM290 152h5v5h-5zM107 157h5v5h-5zM252 157h9v5h-9zM271 157h5v5h-5zM295 157h5v5h-5zM334 157h9v5h-9zM102 162h5v5h-5zM208 162h5v5h-5zM223 162h5v5h-5zM252 162h5v5h-5zM353 162h5v5h-5zM107 167h5v4h-5zM290 167h5v4h-5zM334 167h5v4h-5zM353 167h5v4h-5zM136 171h5v5h-5zM160 171h5v5h-5zM184 171h5v5h-5zM237 171h5v5h-5zM319 171h5v5h-5zM363 171h4v5h-4zM93 176h5v5h-5zM126 176h5v5h-5zM194 176h5v5h-5zM218 176h5v5h-5zM314 176h5v5h-5zM363 176h4v5h-4zM98 181h4v5h-4zM146 181h5v5h-5zM300 181h5v5h-5zM314 181h15v5h-15zM93 186h5v5h-5zM102 186h5v5h-5zM122 186h4v5h-4zM141 186h5v5h-5zM160 186h5v5h-5zM281 186h5v5h-5zM310 186h4v5h-4zM348 186h5v5h-5zM218 191h5v5h-5zM228 191h4v5h-4zM290 191h5v5h-5zM319 191h5v5h-5zM155 196h5v4h-5zM223 196h5v4h-5zM319 196h5v4h-5zM334 196h14v4h-14zM136 200h5v5h-5zM170 200h5v5h-5zM237 200h5v5h-5zM261 200h5v5h-5zM276 200h5v5h-5zM290 200h5v5h-5zM107 205h5v5h-5zM141 205h5v5h-5zM151 205h4v5h-4zM204 205h4v5h-4zM237 205h5v5h-5zM271 205h5v5h-5zM131 210h5v5h-5zM194 210h5v5h-5zM247 210h5v5h-5zM257 210h9v5h-9zM310 210h4v5h-4zM339 210h4v5h-4zM348 210h5v5h-5zM126 215h5v5h-5zM170 215h5v5h-5zM223 215h5v5h-5zM261 215h5v5h-5zM276 215h5v5h-5zM88 220h5v4h-5zM199 220h5v4h-5zM223 220h5v4h-5zM232 220h5v4h-5zM257 220h9v4h-9zM281 220h5v4h-5zM300 220h5v4h-5zM112 224h14v5h-14zM189 224h5v5h-5zM319 224h5v5h-5zM353 224h5v5h-5zM98 229h4v5h-4zM189 229h5v5h-5zM252 229h9v5h-9zM286 229h4v5h-4zM295 229h10v5h-10zM324 229h5v5h-5zM155 234h5v5h-5zM184 234h5v5h-5zM218 234h5v5h-5zM257 234h4v5h-4zM363 234h4v5h-4zM102 239h5v5h-5zM131 239h5v5h-5zM213 239h5v5h-5zM237 239h5v5h-5zM339 239h4v5h-4zM353 239h5v5h-5zM93 244h5v5h-5zM131 244h5v5h-5zM165 244h5v5h-5zM261 244h5v5h-5zM295 244h10v5h-10zM83 249h5v4h-5zM131 249h10v4h-10zM160 249h5v4h-5zM189 249h5v4h-5zM208 249h5v4h-5zM107 253h5v5h-5zM136 253h5v5h-5zM165 253h5v5h-5zM213 253h5v5h-5zM295 253h5v5h-5zM319 253h5v5h-5zM122 258h4v5h-4zM189 258h5v5h-5zM310 258h4v5h-4zM319 258h5v5h-5zM93 263h5v5h-5zM179 263h5v5h-5zM189 263h5v5h-5zM261 263h5v5h-5zM276 263h5v5h-5zM343 263h5v5h-5zM93 268h5v5h-5zM117 268h5v5h-5zM165 268h5v5h-5zM237 268h5v5h-5zM247 268h5v5h-5zM295 268h5v5h-5zM334 268h5v5h-5zM98 273h4v4h-4zM242 273h5v4h-5zM266 273h5v4h-5zM324 273h5v4h-5zM98 277h4v5h-4zM247 277h5v5h-5zM286 277h4v5h-4zM117 282h5v5h-5zM141 282h5v5h-5zM213 282h5v5h-5zM237 282h5v5h-5zM257 282h4v5h-4zM266 282h5v5h-5zM290 282h5v5h-5zM151 287h4v5h-4zM194 287h5v5h-5zM218 287h5v5h-5zM83 292h5v5h-5zM126 292h5v5h-5zM179 292h5v5h-5zM329 292h5v5h-5zM252 297h5v5h-5zM286 297h4v5h-4zM305 297h5v5h-5zM348 297h5v5h-5zM363 297h4v5h-4zM107 302h5v4h-5zM237 302h5v4h-5zM247 302h5v4h-5zM271 302h5v4h-5zM324 302h5v4h-5zM358 302h5v4h-5zM126 306h5v5h-5zM146 306h5v5h-5zM184 306h5v5h-5zM261 306h5v5h-5zM324 306h5v5h-5zM93 311h5v5h-5zM160 311h5v5h-5zM175 311h4v5h-4z"/>
<path fill="#363636" d="M136 32h5v4h-5zM146 32h5v4h-5zM257 32h4v4h-4zM314 32h5v4h-5zM131 36h5v5h-5zM151 36h9v5h-9zM281 36h5v5h-5zM314 36h5v5h-5zM343 36h5v5h-5zM102 41h5v5h-5zM257 41h4v5h-4zM271 41h5v5h-5zM102 46h5v5h-5zM126 46h5v5h-5zM208 46h5v5h-5zM160 51h5v5h-5zM208 51h5v5h-5zM252 51h5v5h-5zM305 51h5v5h-5zM175 56h4v5h-4zM204 56h4v5h-4zM213 56h5v5h-5zM276 56h5v5h-5zM290 56h5v5h-5zM305 56h5v5h-5zM348 56h5v5h-5zM363 56h4v5h-4zM102 61h5v4h-5zM199 61h5v4h-5zM228 61h4v4h-4zM261 61h5v4h-5zM300 61h5v4h-5zM319 61h10v4h-10zM363 61h4v4h-4zM117 65h5v5h-5zM131 65h10v5h-10zM151 65h9v5h-9zM204 65h4v5h-4zM213 65h5v5h-5zM290 65h5v5h-5zM339 65h4v5h-4zM107 70h10v5h-10zM131 70h5v5h-5zM141 70h5v5h-5zM199 70h5v5h-5zM218 70h5v5h-5zM237 70h5v5h-5zM271 70h5v5h-5zM305 70h5v5h-5zM334 70h5v5h-5zM204 75h4v5h-4zM223 75h5v5h-5zM271 75h5v5h-5zM165 80h5v5h-5zM266 80h5v5h-5zM295 80h5v5h-5zM334 80h5v5h-5zM88 85h10v5h-10zM131 85h5v5h-5zM146 85h5v5h-5zM184 85h5v5h-5zM199 85h5v5h-5zM281 85h5v5h-5zM136 90h5v4h-5zM151 90h9v4h-9zM242 90h5v4h-5zM141 94h5v5h-5zM184 94h5v5h-5zM252 94h5v5h-5zM223 99h5v5h-5zM305 99h5v5h-5zM348 99h5v5h-5zM141 104h5v5h-5zM155 104h5v5h-5zM184 104h5v5h-5zM199 104h5v5h-5zM257 104h4v5h-4zM266 104h15v5h-15zM117 109h9v5h-9zM242 109h5v5h-5zM329 109h5v5h-5zM107 114h5v4h-5zM117 114h5v4h-5zM141 114h5v4h-5zM165 114h5v4h-5zM324 114h5v4h-5zM155 118h5v5h-5zM194 118h5v5h-5zM276 118h5v5h-5zM223 123h5v5h-5zM300 123h5v5h-5zM363 123h4v5h-4zM131 128h5v5h-5zM218 128h5v5h-5zM237 128h5v5h-5zM339 128h4v5h-4zM93 133h5v5h-5zM107 133h5v5h-5zM117 133h5v5h-5zM194 133h5v5h-5zM242 133h5v5h-5zM261 133h5v5h-5zM334 133h5v5h-5zM353 133h5v5h-5zM126 138h5v5h-5zM136 138h5v5h-5zM184 138h5v5h-5zM228 138h4v5h-4zM247 138h10v5h-10zM290 138h5v5h-5zM107 143h10v4h-10zM160 143h5v4h-5zM189 143h5v4h-5zM98 147h4v5h-4zM146 147h5v5h-5zM194 147h5v5h-5zM266 147h5v5h-5zM295 147h10v5h-10zM93 152h5v5h-5zM117 152h5v5h-5zM155 152h5v5h-5zM232 152h5v5h-5zM314 152h5v5h-5zM141 157h5v5h-5zM165 157h5v5h-5zM189 157h5v5h-5zM218 157h5v5h-5zM276 157h5v5h-5zM314 157h5v5h-5zM348 157h5v5h-5zM112 162h5v5h-5zM122 162h4v5h-4zM276 162h5v5h-5zM305 162h5v5h-5zM334 162h5v5h-5zM348 162h5v5h-5zM88 167h5v4h-5zM98 167h4v4h-4zM175 167h14v4h-14zM232 167h5v4h-5zM247 167h5v4h-5zM310 167h4v4h-4zM179 171h5v5h-5zM208 171h5v5h-5zM247 171h5v5h-5zM334 171h5v5h-5zM348 171h5v5h-5zM98 176h4v5h-4zM146 176h5v5h-5zM184 176h5v5h-5zM237 176h5v5h-5zM266 176h5v5h-5zM286 176h4v5h-4zM122 181h4v5h-4zM175 181h4v5h-4zM208 181h5v5h-5zM295 181h5v5h-5zM165 186h5v5h-5zM271 186h5v5h-5zM290 186h20v5h-20zM363 186h4v5h-4zM112 191h5v5h-5zM141 191h14v5h-14zM170 191h5v5h-5zM189 191h5v5h-5zM266 191h5v5h-5zM334 191h5v5h-5zM194 196h5v4h-5zM208 196h5v4h-5zM242 196h5v4h-5zM290 196h10v4h-10zM363 196h4v4h-4zM122 200h14v5h-14zM242 200h5v5h-5zM295 200h5v5h-5zM146 205h5v5h-5zM184 205h10v5h-10zM295 205h5v5h-5zM310 205h9v5h-9zM348 205h5v5h-5zM218 210h5v5h-5zM252 210h5v5h-5zM286 210h4v5h-4zM102 215h5v5h-5zM175 215h4v5h-4zM199 215h5v5h-5zM237 215h5v5h-5zM83 220h5v4h-5zM98 220h4v4h-4zM165 220h5v4h-5zM175 220h4v4h-4zM213 220h5v4h-5zM266 220h5v4h-5zM363 220h4v4h-4zM126 224h5v5h-5zM165 224h5v5h-5zM228 224h4v5h-4zM295 224h5v5h-5zM305 224h5v5h-5zM329 224h5v5h-5zM83 229h5v5h-5zM102 229h10v5h-10zM184 229h5v5h-5zM208 229h5v5h-5zM223 229h5v5h-5zM290 229h5v5h-5zM305 229h5v5h-5zM339 229h4v5h-4zM146 234h9v5h-9zM175 234h4v5h-4zM271 234h5v5h-5zM295 234h5v5h-5zM324 234h5v5h-5zM117 239h5v5h-5zM146 239h5v5h-5zM160 239h5v5h-5zM199 239h5v5h-5zM208 239h5v5h-5zM218 239h5v5h-5zM242 244h5v5h-5zM290 244h5v5h-5zM334 244h5v5h-5zM88 249h5v4h-5zM102 249h5v4h-5zM213 249h5v4h-5zM228 249h4v4h-4zM334 249h9v4h-9zM93 253h5v5h-5zM189 253h5v5h-5zM310 253h4v5h-4zM334 253h5v5h-5zM353 253h5v5h-5zM93 258h5v5h-5zM102 258h5v5h-5zM126 258h10v5h-10zM165 258h5v5h-5zM237 258h10v5h-10zM252 258h9v5h-9zM329 258h10v5h-10zM353 258h5v5h-5zM151 268h4v5h-4zM257 268h4v5h-4zM276 268h5v5h-5zM93 273h5v4h-5zM117 273h5v4h-5zM141 273h5v4h-5zM281 273h5v4h-5zM334 273h5v4h-5zM83 277h5v5h-5zM141 277h5v5h-5zM151 277h4v5h-4zM184 277h15v5h-15zM324 277h5v5h-5zM107 282h5v5h-5zM131 282h5v5h-5zM204 282h4v5h-4zM286 282h4v5h-4zM343 282h5v5h-5zM131 287h5v5h-5zM189 287h5v5h-5zM199 287h5v5h-5zM223 287h5v5h-5zM247 287h10v5h-10zM314 287h5v5h-5zM343 287h5v5h-5zM98 292h4v5h-4zM112 292h5v5h-5zM310 292h4v5h-4zM353 292h5v5h-5zM88 297h5v5h-5zM136 297h5v5h-5zM155 297h5v5h-5zM223 297h9v5h-9zM276 297h5v5h-5zM290 297h5v5h-5zM199 302h5v4h-5zM300 302h5v4h-5zM329 302h5v4h-5zM165 306h5v5h-5zM194 306h5v5h-5zM232 306h5v5h-5zM112 311h5v5h-5zM131 311h5v5h-5zM232 311h5v5h-5zM247 311h5v5h-5zM281 311h5v5h-5zM324 311h5v5h-5zM358 311h5v5h-5z"/>
<path fill="#3c3c3c" d="M98 32h4v4h-4zM184 32h5v4h-5zM228 32h9v4h-9zM348 32h5v4h-5zM117 36h5v5h-5zM126 36h5v5h-5zM204 36h4v5h-4zM213 36h5v5h-5zM353 36h5v5h-5zM160 41h5v5h-5zM218 41h5v5h-5zM300 41h5v5h-5zM314 41h5v5h-5zM339 41h4v5h-4zM98 46h4v5h-4zM266 46h10v5h-10zM98 51h4v5h-4zM184 51h5v5h-5zM213 51h5v5h-5zM232 51h5v5h-5zM266 51h5v5h-5zM300 51h5v5h-5zM363 51h4v5h-4zM194 56h5v5h-5zM266 56h10v5h-10zM324 56h5v5h-5zM170 61h5v4h-5zM295 61h5v4h-5zM358 61h5v4h-5zM98 65h4v5h-4zM160 65h5v5h-5zM305 65h5v5h-5zM334 65h5v5h-5zM160 70h5v5h-5zM175 70h4v5h-4zM290 70h5v5h-5zM310 70h9v5h-9zM93 75h9v5h-9zM232 75h5v5h-5zM257 75h4v5h-4zM329 75h10v5h-10zM107 80h5v5h-5zM155 80h5v5h-5zM199 80h5v5h-5zM228 80h4v5h-4zM247 80h5v5h-5zM257 80h4v5h-4zM290 80h5v5h-5zM319 80h10v5h-10zM358 80h5v5h-5zM247 85h5v5h-5zM276 85h5v5h-5zM93 90h5v4h-5zM165 90h5v4h-5zM213 90h5v4h-5zM271 90h5v4h-5zM281 90h5v4h-5zM353 90h5v4h-5zM160 94h5v5h-5zM232 94h5v5h-5zM247 94h5v5h-5zM257 94h4v5h-4zM276 94h5v5h-5zM290 94h5v5h-5zM300 94h5v5h-5zM117 99h5v5h-5zM208 99h5v5h-5zM232 99h5v5h-5zM290 99h5v5h-5zM175 104h4v5h-4zM189 104h5v5h-5zM339 104h4v5h-4zM136 109h5v5h-5zM228 109h4v5h-4zM257 109h4v5h-4zM348 109h5v5h-5zM358 109h5v5h-5zM155 114h5v4h-5zM252 114h5v4h-5zM266 114h5v4h-5zM348 114h5v4h-5zM131 118h5v5h-5zM175 118h4v5h-4zM228 118h4v5h-4zM290 118h5v5h-5zM179 123h5v5h-5zM232 123h5v5h-5zM286 123h4v5h-4zM122 128h4v5h-4zM175 128h4v5h-4zM247 128h5v5h-5zM261 128h15v5h-15zM295 128h5v5h-5zM98 133h4v5h-4zM141 133h5v5h-5zM151 133h9v5h-9zM348 133h5v5h-5zM358 133h5v5h-5zM83 138h5v5h-5zM242 138h5v5h-5zM276 138h10v5h-10zM300 138h5v5h-5zM314 138h5v5h-5zM88 143h5v4h-5zM199 143h5v4h-5zM237 143h5v4h-5zM266 143h5v4h-5zM310 143h9v4h-9zM117 147h5v5h-5zM175 147h4v5h-4zM199 147h5v5h-5zM242 147h5v5h-5zM261 147h5v5h-5zM126 152h5v5h-5zM199 152h5v5h-5zM208 152h5v5h-5zM252 152h5v5h-5zM266 152h5v5h-5zM155 157h5v5h-5zM194 157h5v5h-5zM131 162h5v5h-5zM228 162h4v5h-4zM237 162h5v5h-5zM314 162h10v5h-10zM329 162h5v5h-5zM112 167h5v4h-5zM122 167h4v4h-4zM151 167h4v4h-4zM314 167h5v4h-5zM343 167h5v4h-5zM165 171h5v5h-5zM189 171h5v5h-5zM199 171h5v5h-5zM242 171h5v5h-5zM252 171h9v5h-9zM266 171h10v5h-10zM295 176h5v5h-5zM334 176h5v5h-5zM117 181h5v5h-5zM213 181h5v5h-5zM247 181h10v5h-10zM334 181h5v5h-5zM343 186h5v5h-5zM98 191h4v5h-4zM175 191h9v5h-9zM261 191h5v5h-5zM276 191h5v5h-5zM329 191h5v5h-5zM353 191h5v5h-5zM93 196h5v4h-5zM112 196h5v4h-5zM126 196h5v4h-5zM213 196h5v4h-5zM324 196h5v4h-5zM93 200h5v5h-5zM141 200h5v5h-5zM160 200h5v5h-5zM179 200h5v5h-5zM189 200h5v5h-5zM300 200h5v5h-5zM310 200h9v5h-9zM353 200h5v5h-5zM112 205h5v5h-5zM194 205h5v5h-5zM242 205h5v5h-5zM343 205h5v5h-5zM170 210h14v5h-14zM266 210h5v5h-5zM363 210h4v5h-4zM184 215h5v5h-5zM257 215h4v5h-4zM126 220h5v4h-5zM136 220h5v4h-5zM179 220h10v4h-10zM204 220h9v4h-9zM314 220h10v4h-10zM107 224h5v5h-5zM136 224h5v5h-5zM194 224h5v5h-5zM257 224h4v5h-4zM281 224h9v5h-9zM165 229h5v5h-5zM242 229h5v5h-5zM83 234h5v5h-5zM93 234h5v5h-5zM223 234h9v5h-9zM290 234h5v5h-5zM281 239h5v5h-5zM348 239h5v5h-5zM363 239h4v5h-4zM83 244h5v5h-5zM136 244h5v5h-5zM155 244h5v5h-5zM204 244h4v5h-4zM271 244h10v5h-10zM358 244h5v5h-5zM218 249h5v4h-5zM252 253h5v5h-5zM98 258h4v5h-4zM151 258h9v5h-9zM170 258h5v5h-5zM232 258h5v5h-5zM295 258h5v5h-5zM223 263h5v5h-5zM247 263h5v5h-5zM358 263h5v5h-5zM204 268h4v5h-4zM266 268h5v5h-5zM339 268h4v5h-4zM348 268h5v5h-5zM83 273h5v4h-5zM160 273h5v4h-5zM175 273h4v4h-4zM247 273h5v4h-5zM319 273h5v4h-5zM155 277h5v5h-5zM175 277h4v5h-4zM310 277h4v5h-4zM151 282h4v5h-4zM232 282h5v5h-5zM175 287h4v5h-4zM271 287h5v5h-5zM324 287h5v5h-5zM117 292h5v5h-5zM155 292h5v5h-5zM348 292h5v5h-5zM184 297h5v5h-5zM232 297h5v5h-5zM295 297h5v5h-5zM324 297h5v5h-5zM93 302h5v4h-5zM102 302h5v4h-5zM131 302h5v4h-5zM184 302h5v4h-5zM208 302h5v4h-5zM276 302h5v4h-5zM141 306h5v5h-5zM160 306h5v5h-5zM310 306h4v5h-4zM363 306h4v5h-4zM141 311h5v5h-5zM194 311h5v5h-5z"/>
<path fill="#424242" d="M237 32h5v4h-5zM295 32h5v4h-5zM353 32h5v4h-5zM189 36h5v5h-5zM305 36h5v5h-5zM204 41h9v5h-9zM281 41h5v5h-5zM358 41h5v5h-5zM175 46h9v5h-9zM223 46h9v5h-9zM319 46h5v5h-5zM334 46h5v5h-5zM343 46h5v5h-5zM136 51h5v5h-5zM343 51h5v5h-5zM107 56h5v5h-5zM141 56h5v5h-5zM281 56h5v5h-5zM146 61h5v4h-5zM204 61h4v4h-4zM232 61h5v4h-5zM257 61h4v4h-4zM175 65h4v5h-4zM348 65h5v5h-5zM102 70h5v5h-5zM117 70h5v5h-5zM223 70h5v5h-5zM261 70h5v5h-5zM281 70h5v5h-5zM107 75h5v5h-5zM117 75h5v5h-5zM131 80h5v5h-5zM194 80h5v5h-5zM310 80h4v5h-4zM353 80h5v5h-5zM295 85h5v5h-5zM310 85h4v5h-4zM122 94h4v5h-4zM151 94h4v5h-4zM175 94h4v5h-4zM141 99h5v5h-5zM160 99h5v5h-5zM218 99h5v5h-5zM271 99h5v5h-5zM329 99h10v5h-10zM136 104h5v5h-5zM232 104h5v5h-5zM242 104h10v5h-10zM324 104h5v5h-5zM334 104h5v5h-5zM348 104h5v5h-5zM208 109h5v5h-5zM218 109h5v5h-5zM276 109h5v5h-5zM324 109h5v5h-5zM83 114h5v4h-5zM286 114h4v4h-4zM93 118h5v5h-5zM208 118h5v5h-5zM300 118h5v5h-5zM88 123h5v5h-5zM160 123h5v5h-5zM170 123h5v5h-5zM329 123h5v5h-5zM126 128h5v5h-5zM160 128h5v5h-5zM276 128h5v5h-5zM199 133h5v5h-5zM295 133h5v5h-5zM324 133h5v5h-5zM165 138h5v5h-5zM218 138h5v5h-5zM339 138h4v5h-4zM98 143h4v4h-4zM329 143h5v4h-5zM252 147h5v5h-5zM151 152h4v5h-4zM175 152h4v5h-4zM218 152h5v5h-5zM295 152h5v5h-5zM175 157h4v5h-4zM184 157h5v5h-5zM242 157h10v5h-10zM324 157h10v5h-10zM242 162h5v5h-5zM126 167h10v4h-10zM141 167h5v4h-5zM257 167h4v4h-4zM276 167h5v4h-5zM348 167h5v4h-5zM155 171h5v5h-5zM204 171h4v5h-4zM122 176h4v5h-4zM165 176h5v5h-5zM208 176h5v5h-5zM83 181h5v5h-5zM165 181h5v5h-5zM179 181h5v5h-5zM261 181h5v5h-5zM276 181h5v5h-5zM290 181h5v5h-5zM305 181h5v5h-5zM348 181h5v5h-5zM107 186h5v5h-5zM126 186h5v5h-5zM155 186h5v5h-5zM155 191h5v5h-5zM300 191h5v5h-5zM314 191h5v5h-5zM324 191h5v5h-5zM146 196h9v4h-9zM286 196h4v4h-4zM117 200h5v5h-5zM252 200h9v5h-9zM363 200h4v5h-4zM232 205h5v5h-5zM247 205h5v5h-5zM286 205h4v5h-4zM305 205h5v5h-5zM324 205h5v5h-5zM358 205h5v5h-5zM93 210h5v5h-5zM281 210h5v5h-5zM290 210h5v5h-5zM319 210h5v5h-5zM155 215h5v5h-5zM213 215h5v5h-5zM334 215h5v5h-5zM141 220h5v4h-5zM170 220h5v4h-5zM189 220h5v4h-5zM276 220h5v4h-5zM305 220h5v4h-5zM334 220h9v4h-9zM358 220h5v4h-5zM88 224h5v5h-5zM155 224h5v5h-5zM310 224h4v5h-4zM266 229h5v5h-5zM165 234h5v5h-5zM199 234h5v5h-5zM286 234h4v5h-4zM319 234h5v5h-5zM353 234h10v5h-10zM204 239h4v5h-4zM252 239h5v5h-5zM290 239h5v5h-5zM237 244h5v5h-5zM247 244h10v5h-10zM329 244h5v5h-5zM141 249h5v4h-5zM184 249h5v4h-5zM252 249h5v4h-5zM271 249h5v4h-5zM286 249h4v4h-4zM314 249h5v4h-5zM324 249h5v4h-5zM98 253h4v5h-4zM218 258h5v5h-5zM228 258h4v5h-4zM300 258h5v5h-5zM88 263h5v5h-5zM131 263h5v5h-5zM141 263h5v5h-5zM194 263h5v5h-5zM208 263h5v5h-5zM242 263h5v5h-5zM266 263h5v5h-5zM300 263h5v5h-5zM353 263h5v5h-5zM122 268h4v5h-4zM199 268h5v5h-5zM218 268h5v5h-5zM271 268h5v5h-5zM88 273h5v4h-5zM204 273h4v4h-4zM170 277h5v5h-5zM204 277h4v5h-4zM242 277h5v5h-5zM305 277h5v5h-5zM155 282h5v5h-5zM208 282h5v5h-5zM247 282h10v5h-10zM271 282h10v5h-10zM300 282h5v5h-5zM122 287h4v5h-4zM232 287h10v5h-10zM276 287h5v5h-5zM93 292h5v5h-5zM107 292h5v5h-5zM363 292h4v5h-4zM141 297h5v5h-5zM199 297h9v5h-9zM261 297h5v5h-5zM319 297h5v5h-5zM213 302h5v4h-5zM310 302h4v4h-4zM353 302h5v4h-5zM155 306h5v5h-5zM208 306h5v5h-5zM252 306h5v5h-5zM286 306h4v5h-4zM305 306h5v5h-5zM334 306h5v5h-5zM136 311h5v5h-5zM218 311h5v5h-5z"/>
<path fill="#484848" d="M165 32h5v4h-5zM213 32h5v4h-5zM266 32h5v4h-5zM310 32h4v4h-4zM329 32h5v4h-5zM141 36h5v5h-5zM165 36h5v5h-5zM266 41h5v5h-5zM286 41h4v5h-4zM295 41h5v5h-5zM343 41h5v5h-5zM131 46h5v5h-5zM141 46h5v5h-5zM204 46h4v5h-4zM348 46h5v5h-5zM237 51h5v5h-5zM247 56h5v5h-5zM353 56h10v5h-10zM141 61h5v4h-5zM194 61h5v4h-5zM271 61h5v4h-5zM314 61h5v4h-5zM232 65h5v5h-5zM300 65h5v5h-5zM314 65h10v5h-10zM146 70h5v5h-5zM155 75h5v5h-5zM170 75h5v5h-5zM199 75h5v5h-5zM261 75h5v5h-5zM300 75h5v5h-5zM324 75h5v5h-5zM146 80h5v5h-5zM208 80h5v5h-5zM276 80h14v5h-14zM348 80h5v5h-5zM252 85h5v5h-5zM319 85h5v5h-5zM117 90h9v4h-9zM146 90h5v4h-5zM160 90h5v4h-5zM170 90h5v4h-5zM208 90h5v4h-5zM300 90h5v4h-5zM213 94h5v5h-5zM242 94h5v5h-5zM310 94h4v5h-4zM286 99h4v5h-4zM179 104h5v5h-5zM358 104h9v5h-9zM170 109h5v5h-5zM334 109h5v5h-5zM184 114h5v4h-5zM329 114h5v4h-5zM151 118h4v5h-4zM204 118h4v5h-4zM218 118h5v5h-5zM305 118h5v5h-5zM107 123h5v5h-5zM146 123h9v5h-9zM228 123h4v5h-4zM271 123h5v5h-5zM88 128h5v5h-5zM112 128h5v5h-5zM155 128h5v5h-5zM179 128h5v5h-5zM131 133h5v5h-5zM179 133h5v5h-5zM247 133h5v5h-5zM300 133h5v5h-5zM131 138h5v5h-5zM319 138h5v5h-5zM334 138h5v5h-5zM122 143h19v4h-19zM151 143h4v4h-4zM257 143h4v4h-4zM334 143h5v4h-5zM88 147h5v5h-5zM353 147h5v5h-5zM141 152h5v5h-5zM257 152h9v5h-9zM329 152h5v5h-5zM199 157h5v5h-5zM261 157h5v5h-5zM305 157h5v5h-5zM358 157h5v5h-5zM107 162h5v5h-5zM232 162h5v5h-5zM286 167h4v4h-4zM339 167h4v4h-4zM151 171h4v5h-4zM290 171h5v5h-5zM329 171h5v5h-5zM88 176h5v5h-5zM189 176h5v5h-5zM242 176h5v5h-5zM261 176h5v5h-5zM126 181h5v5h-5zM170 181h5v5h-5zM363 181h4v5h-4zM208 186h5v5h-5zM237 186h10v5h-10zM136 191h5v5h-5zM208 191h5v5h-5zM242 191h10v5h-10zM343 191h10v5h-10zM131 196h5v4h-5zM175 196h4v4h-4zM199 196h5v4h-5zM228 196h4v4h-4zM281 196h5v4h-5zM300 196h5v4h-5zM83 205h5v5h-5zM228 205h4v5h-4zM353 205h5v5h-5zM363 205h4v5h-4zM165 210h5v5h-5zM276 210h5v5h-5zM98 215h4v5h-4zM160 215h5v5h-5zM179 215h5v5h-5zM204 215h9v5h-9zM363 215h4v5h-4zM146 220h9v4h-9zM237 220h5v4h-5zM329 220h5v4h-5zM324 224h5v5h-5zM281 229h5v5h-5zM358 229h5v5h-5zM83 239h5v5h-5zM136 239h5v5h-5zM223 239h5v5h-5zM242 239h5v5h-5zM261 239h5v5h-5zM305 239h9v5h-9zM189 244h10v5h-10zM281 244h5v5h-5zM305 244h5v5h-5zM324 244h5v5h-5zM155 249h5v4h-5zM194 249h5v4h-5zM204 249h4v4h-4zM300 249h5v4h-5zM228 253h4v5h-4zM343 253h5v5h-5zM184 258h5v5h-5zM126 263h5v5h-5zM151 263h4v5h-4zM257 263h4v5h-4zM329 263h5v5h-5zM348 263h5v5h-5zM112 268h5v5h-5zM170 268h5v5h-5zM179 268h5v5h-5zM213 268h5v5h-5zM363 268h4v5h-4zM165 273h5v4h-5zM179 273h10v4h-10zM194 273h5v4h-5zM363 273h4v4h-4zM160 277h5v5h-5zM300 277h5v5h-5zM83 282h5v5h-5zM102 282h5v5h-5zM295 282h5v5h-5zM102 287h5v5h-5zM141 292h5v5h-5zM184 292h5v5h-5zM228 292h4v5h-4zM314 292h5v5h-5zM334 292h5v5h-5zM343 292h5v5h-5zM242 297h5v5h-5zM343 297h5v5h-5zM117 302h5v4h-5zM242 302h5v4h-5zM117 306h5v5h-5zM189 306h5v5h-5zM204 306h4v5h-4zM242 306h5v5h-5zM343 306h5v5h-5zM353 306h5v5h-5zM98 311h4v5h-4zM117 311h5v5h-5zM261 311h5v5h-5zM334 311h5v5h-5zM353 311h5v5h-5z"/>
<path fill="#4e4e4e" d="M276 36h5v5h-5zM286 36h4v5h-4zM131 41h5v5h-5zM175 41h4v5h-4zM165 46h10v5h-10zM199 46h5v5h-5zM213 46h5v5h-5zM281 46h5v5h-5zM170 51h5v5h-5zM151 56h4v5h-4zM310 56h4v5h-4zM112 61h5v4h-5zM160 61h5v4h-5zM266 61h5v4h-5zM218 65h5v5h-5zM276 65h5v5h-5zM122 70h4v5h-4zM194 70h5v5h-5zM252 70h5v5h-5zM281 75h5v5h-5zM348 75h5v5h-5zM126 80h5v5h-5zM218 80h10v5h-10zM237 80h5v5h-5zM363 80h4v5h-4zM218 85h5v5h-5zM266 85h5v5h-5zM83 90h5v4h-5zM290 90h5v4h-5zM310 90h4v4h-4zM324 90h5v4h-5zM358 90h5v4h-5zM88 94h5v5h-5zM146 94h5v5h-5zM179 94h5v5h-5zM237 94h5v5h-5zM295 94h5v5h-5zM88 99h5v5h-5zM107 99h5v5h-5zM155 99h5v5h-5zM257 99h4v5h-4zM112 104h5v5h-5zM151 104h4v5h-4zM343 104h5v5h-5zM136 114h5v4h-5zM213 114h5v4h-5zM314 114h5v4h-5zM334 114h5v4h-5zM141 118h10v5h-10zM165 118h5v5h-5zM266 118h5v5h-5zM112 123h5v5h-5zM194 123h5v5h-5zM218 123h5v5h-5zM93 128h5v5h-5zM194 128h5v5h-5zM290 128h5v5h-5zM343 128h5v5h-5zM329 133h5v5h-5zM261 138h5v5h-5zM353 138h5v5h-5zM155 143h5v4h-5zM122 147h4v5h-4zM136 147h5v5h-5zM179 147h5v5h-5zM305 147h5v5h-5zM329 147h5v5h-5zM170 152h5v5h-5zM184 152h5v5h-5zM213 152h5v5h-5zM319 152h5v5h-5zM83 157h5v5h-5zM179 157h5v5h-5zM310 157h4v5h-4zM83 162h5v5h-5zM117 162h5v5h-5zM136 162h5v5h-5zM175 162h4v5h-4zM271 162h5v5h-5zM261 167h5v4h-5zM271 167h5v4h-5zM319 167h5v4h-5zM363 167h4v4h-4zM88 171h5v5h-5zM98 171h4v5h-4zM146 171h5v5h-5zM218 171h5v5h-5zM232 171h5v5h-5zM310 171h4v5h-4zM155 176h5v5h-5zM242 181h5v5h-5zM353 181h5v5h-5zM199 186h9v5h-9zM247 186h5v5h-5zM88 191h5v5h-5zM160 191h5v5h-5zM271 191h5v5h-5zM117 196h5v4h-5zM358 196h5v4h-5zM218 200h5v5h-5zM232 200h5v5h-5zM247 200h5v5h-5zM257 205h4v5h-4zM160 210h5v5h-5zM223 210h5v5h-5zM358 210h5v5h-5zM117 215h5v5h-5zM324 215h5v5h-5zM343 215h5v5h-5zM160 220h5v4h-5zM194 220h5v4h-5zM242 220h5v4h-5zM271 224h5v5h-5zM339 224h4v5h-4zM93 229h5v5h-5zM175 229h4v5h-4zM232 229h5v5h-5zM261 229h5v5h-5zM319 229h5v5h-5zM98 234h4v5h-4zM261 234h5v5h-5zM276 249h5v4h-5zM329 249h5v4h-5zM102 253h5v5h-5zM305 253h5v5h-5zM107 258h5v5h-5zM146 258h5v5h-5zM175 258h4v5h-4zM146 263h5v5h-5zM218 263h5v5h-5zM286 263h9v5h-9zM310 263h4v5h-4zM363 263h4v5h-4zM155 268h5v5h-5zM194 268h5v5h-5zM300 268h5v5h-5zM353 268h5v5h-5zM112 273h5v4h-5zM136 273h5v4h-5zM237 273h5v4h-5zM112 277h5v5h-5zM179 277h5v5h-5zM232 277h5v5h-5zM343 277h5v5h-5zM175 282h4v5h-4zM348 282h5v5h-5zM107 287h5v5h-5zM141 287h5v5h-5zM155 287h5v5h-5zM242 287h5v5h-5zM319 287h5v5h-5zM339 287h4v5h-4zM348 287h5v5h-5zM189 292h10v5h-10zM242 292h5v5h-5zM271 292h5v5h-5zM305 292h5v5h-5zM324 292h5v5h-5zM122 297h4v5h-4zM300 297h5v5h-5zM98 302h4v4h-4zM334 302h5v4h-5zM257 306h4v5h-4zM329 306h5v5h-5zM122 311h9v5h-9zM199 311h9v5h-9zM300 311h5v5h-5z"/>
<path fill="#545454" d="M102 32h5v4h-5zM194 32h5v4h-5zM223 32h5v4h-5zM363 32h4v4h-4zM112 36h5v5h-5zM271 36h5v5h-5zM112 41h5v5h-5zM305 41h5v5h-5zM151 46h4v5h-4zM218 46h5v5h-5zM257 46h4v5h-4zM286 46h4v5h-4zM300 46h5v5h-5zM353 51h5v5h-5zM155 61h5v4h-5zM155 70h5v5h-5zM232 70h5v5h-5zM146 75h5v5h-5zM122 80h4v5h-4zM83 85h5v5h-5zM184 90h5v4h-5zM199 90h5v4h-5zM257 90h4v4h-4zM363 90h4v4h-4zM117 94h5v5h-5zM261 94h10v5h-10zM93 99h5v5h-5zM228 99h4v5h-4zM146 104h5v5h-5zM165 109h5v5h-5zM175 109h4v5h-4zM286 109h4v5h-4zM179 114h5v4h-5zM237 114h5v4h-5zM257 118h4v5h-4zM339 118h4v5h-4zM93 123h5v5h-5zM353 123h5v5h-5zM199 128h5v5h-5zM300 128h5v5h-5zM329 128h5v5h-5zM363 128h4v5h-4zM122 133h4v5h-4zM189 138h5v5h-5zM232 138h5v5h-5zM324 138h10v5h-10zM213 143h5v4h-5zM184 147h5v5h-5zM324 147h5v5h-5zM353 152h5v5h-5zM232 157h5v5h-5zM98 162h4v5h-4zM136 167h5v4h-5zM204 167h4v4h-4zM266 167h5v4h-5zM281 167h5v4h-5zM358 167h5v4h-5zM170 171h5v5h-5zM358 171h5v5h-5zM131 181h5v5h-5zM160 181h5v5h-5zM266 181h5v5h-5zM170 186h14v5h-14zM194 186h5v5h-5zM261 186h5v5h-5zM184 191h5v5h-5zM88 196h5v4h-5zM102 196h5v4h-5zM136 196h5v4h-5zM261 205h5v5h-5zM290 205h5v5h-5zM319 205h5v5h-5zM314 210h5v5h-5zM122 215h4v5h-4zM189 215h5v5h-5zM107 220h5v4h-5zM295 220h5v4h-5zM310 220h4v4h-4zM343 220h5v4h-5zM146 224h5v5h-5zM232 224h5v5h-5zM151 229h4v5h-4zM160 229h5v5h-5zM179 229h5v5h-5zM218 229h5v5h-5zM232 234h5v5h-5zM247 239h5v5h-5zM295 239h5v5h-5zM146 244h5v5h-5zM117 249h5v4h-5zM170 249h5v4h-5zM257 249h4v4h-4zM281 249h5v4h-5zM363 249h4v4h-4zM170 253h5v5h-5zM339 253h4v5h-4zM358 253h5v5h-5zM141 258h5v5h-5zM213 258h5v5h-5zM281 258h5v5h-5zM363 258h4v5h-4zM83 263h5v5h-5zM199 273h5v4h-5zM353 273h5v4h-5zM228 277h4v5h-4zM122 282h4v5h-4zM363 282h4v5h-4zM204 287h4v5h-4zM204 292h4v5h-4zM218 292h10v5h-10zM93 297h5v5h-5zM334 297h5v5h-5zM155 311h5v5h-5zM208 311h5v5h-5zM257 311h4v5h-4zM295 311h5v5h-5zM310 311h4v5h-4zM329 311h5v5h-5z"/>
<path fill="#5a5a5a" d="M122 32h4v4h-4zM179 32h5v4h-5zM204 32h4v4h-4zM324 32h5v4h-5zM339 32h4v4h-4zM208 36h5v5h-5zM170 41h5v5h-5zM184 46h5v5h-5zM252 46h5v5h-5zM353 46h5v5h-5zM141 51h5v5h-5zM107 61h5v4h-5zM117 61h5v4h-5zM348 61h5v4h-5zM179 65h5v5h-5zM310 65h4v5h-4zM98 70h4v5h-4zM247 70h5v5h-5zM126 75h5v5h-5zM213 80h5v5h-5zM242 80h5v5h-5zM160 85h5v5h-5zM261 85h5v5h-5zM179 90h5v4h-5zM189 90h10v4h-10zM208 94h5v5h-5zM107 104h5v5h-5zM146 109h9v5h-9zM179 109h5v5h-5zM261 109h5v5h-5zM339 109h9v5h-9zM151 114h4v4h-4zM271 114h5v4h-5zM88 118h5v5h-5zM117 118h5v5h-5zM266 123h5v5h-5zM334 123h5v5h-5zM343 123h5v5h-5zM107 128h5v5h-5zM252 128h5v5h-5zM348 128h5v5h-5zM146 133h5v5h-5zM179 138h5v5h-5zM218 143h5v4h-5zM252 143h5v4h-5zM295 143h5v4h-5zM131 147h5v5h-5zM237 147h5v5h-5zM319 147h5v5h-5zM348 147h5v5h-5zM179 152h5v5h-5zM237 152h5v5h-5zM324 152h5v5h-5zM213 157h5v5h-5zM237 157h5v5h-5zM343 157h5v5h-5zM194 162h5v5h-5zM252 167h5v4h-5zM286 171h4v5h-4zM160 176h5v5h-5zM305 176h5v5h-5zM88 181h5v5h-5zM83 186h5v5h-5zM213 186h5v5h-5zM93 191h5v5h-5zM247 196h5v4h-5zM88 200h5v5h-5zM305 200h5v5h-5zM102 205h5v5h-5zM102 210h5v5h-5zM324 210h5v5h-5zM107 215h10v5h-10zM353 220h5v4h-5zM151 224h4v5h-4zM358 224h5v5h-5zM348 229h5v5h-5zM343 234h5v5h-5zM276 239h5v5h-5zM286 239h4v5h-4zM300 239h5v5h-5zM257 244h4v5h-4zM310 244h4v5h-4zM319 244h5v5h-5zM146 249h5v4h-5zM232 249h10v4h-10zM358 249h5v4h-5zM237 253h5v5h-5zM281 253h5v5h-5zM290 253h5v5h-5zM271 258h5v5h-5zM314 258h5v5h-5zM339 258h4v5h-4zM295 263h5v5h-5zM136 282h5v5h-5zM189 282h5v5h-5zM334 282h5v5h-5zM232 292h5v5h-5zM98 297h4v5h-4zM117 297h5v5h-5zM213 297h5v5h-5zM122 302h4v4h-4zM189 311h5v5h-5zM223 311h5v5h-5zM339 311h4v5h-4zM363 311h4v5h-4z"/>
<path fill="#606060" d="M189 32h5v4h-5zM286 32h4v4h-4zM102 36h5v5h-5zM170 36h5v5h-5zM271 51h5v5h-5zM281 51h5v5h-5zM146 56h5v5h-5zM286 75h4v5h-4zM170 80h5v5h-5zM305 85h5v5h-5zM324 85h5v5h-5zM343 85h5v5h-5zM204 90h4v4h-4zM266 90h5v4h-5zM271 94h5v5h-5zM170 99h5v5h-5zM252 99h5v5h-5zM266 99h5v5h-5zM146 114h5v4h-5zM141 123h5v5h-5zM199 123h5v5h-5zM290 123h5v5h-5zM334 128h5v5h-5zM363 133h4v5h-4zM213 138h5v5h-5zM261 143h5v4h-5zM334 147h5v5h-5zM358 152h5v5h-5zM199 162h5v5h-5zM310 162h4v5h-4zM324 162h5v5h-5zM83 171h5v5h-5zM300 176h5v5h-5zM155 181h5v5h-5zM117 191h5v5h-5zM83 196h5v4h-5zM98 200h4v5h-4zM358 200h5v5h-5zM305 215h5v5h-5zM314 215h5v5h-5zM324 220h5v4h-5zM131 224h5v5h-5zM155 229h5v5h-5zM228 229h4v5h-4zM343 229h5v5h-5zM252 234h5v5h-5zM348 234h5v5h-5zM170 244h5v5h-5zM286 244h4v5h-4zM286 258h4v5h-4zM117 277h5v5h-5zM160 282h5v5h-5zM305 282h9v5h-9zM208 287h5v5h-5zM228 287h4v5h-4zM319 292h5v5h-5zM339 292h4v5h-4zM271 297h5v5h-5zM339 297h4v5h-4zM271 311h5v5h-5z"/>
<path fill="#666666" d="M146 46h5v5h-5zM165 61h5v4h-5zM151 70h4v5h-4zM179 70h5v5h-5zM247 75h5v5h-5zM276 75h5v5h-5zM189 80h5v5h-5zM261 80h5v5h-5zM343 80h5v5h-5zM358 85h5v5h-5zM170 94h5v5h-5zM305 94h5v5h-5zM146 99h5v5h-5zM165 104h5v5h-5zM339 114h4v4h-4zM136 118h5v5h-5zM329 118h5v5h-5zM363 138h4v5h-4zM305 143h5v4h-5zM276 147h5v5h-5zM242 152h5v5h-5zM170 157h5v5h-5zM363 162h4v5h-4zM117 167h5v4h-5zM83 176h5v5h-5zM88 186h5v5h-5zM266 186h5v5h-5zM305 191h5v5h-5zM165 196h5v4h-5zM305 196h5v4h-5zM165 200h5v5h-5zM117 205h5v5h-5zM88 215h5v5h-5zM194 215h5v5h-5zM353 215h5v5h-5zM83 253h5v5h-5zM232 253h5v5h-5zM266 253h5v5h-5zM276 253h5v5h-5zM300 253h5v5h-5zM88 268h5v5h-5zM228 273h4v4h-4zM228 282h4v5h-4zM112 287h5v5h-5zM165 287h10v5h-10zM363 287h4v5h-4zM122 292h4v5h-4zM136 292h5v5h-5zM160 292h5v5h-5zM146 311h5v5h-5z"/>
<path fill="#6c6c6c" d="M319 32h5v4h-5zM107 41h5v5h-5zM358 51h5v5h-5zM276 70h5v5h-5zM343 75h5v5h-5zM155 85h5v5h-5zM213 85h5v5h-5zM261 99h5v5h-5zM261 104h5v5h-5zM160 109h5v5h-5zM232 109h5v5h-5zM271 109h5v5h-5zM170 114h5v4h-5zM208 114h5v4h-5zM232 114h5v4h-5zM343 114h5v4h-5zM170 118h5v5h-5zM252 118h5v5h-5zM281 143h5v4h-5zM83 167h5v4h-5zM199 167h5v4h-5zM199 181h5v5h-5zM102 200h5v5h-5zM281 234h5v5h-5zM261 258h5v5h-5zM213 263h5v5h-5zM334 277h5v5h-5zM363 277h4v5h-4zM160 287h5v5h-5zM165 292h5v5h-5zM199 292h5v5h-5zM170 311h5v5h-5zM343 311h5v5h-5z"/>
<path fill="#727272" d="M107 32h5v4h-5zM175 32h4v4h-4zM151 80h4v5h-4zM208 85h5v5h-5zM247 90h5v4h-5zM305 90h5v4h-5zM151 99h4v5h-4zM175 114h4v4h-4zM271 118h5v5h-5zM334 118h5v5h-5zM175 138h4v5h-4zM300 143h5v4h-5zM281 147h5v5h-5zM146 152h5v5h-5zM310 176h4v5h-4zM204 181h4v5h-4zM98 196h4v4h-4zM83 200h5v5h-5zM83 210h5v5h-5zM179 249h5v4h-5zM286 253h4v5h-4zM232 273h5v4h-5zM165 277h5v5h-5zM122 306h4v5h-4z"/>
<path fill="#787878" d="M117 32h5v4h-5zM295 36h5v5h-5zM165 41h5v5h-5zM204 80h4v5h-4zM363 85h4v5h-4zM261 90h5v4h-5zM252 123h5v5h-5zM237 133h5v5h-5zM276 143h5v4h-5zM363 157h4v5h-4zM232 181h5v5h-5zM160 196h5v4h-5zM98 210h4v5h-4zM83 215h5v5h-5zM310 215h4v5h-4zM358 215h5v5h-5zM363 253h4v5h-4zM165 282h5v5h-5z"/>
<path fill="#7e7e7e" d="M112 32h5v4h-5zM339 36h4v5h-4zM122 75h4v5h-4zM151 75h4v5h-4zM204 85h4v5h-4zM295 90h5v4h-5zM179 143h5v4h-5zM358 147h5v5h-5zM358 162h5v5h-5zM228 181h4v5h-4zM218 186h5v5h-5zM160 234h5v5h-5zM319 249h5v4h-5z"/>
<path fill="#848484" d="M170 32h5v4h-5zM107 36h5v5h-5zM358 46h5v5h-5zM146 51h5v5h-5zM131 220h5v4h-5zM271 253h5v5h-5zM213 292h5v5h-5zM165 311h5v5h-5z"/>
<path fill="#8a8a8a" d="M160 104h5v5h-5zM348 215h5v5h-5zM266 258h5v5h-5zM305 311h5v5h-5z"/>
<path fill="#909090" d="M237 138h5v5h-5z"/>
<path fill="#969696" d="M151 51h4v5h-4zM175 143h4v4h-4zM223 167h9v4h-9zM98 205h4v5h-4zM170 282h5v5h-5zM136 287h5v5h-5z"/>
<path fill="#9c9c9c" d="M363 152h4v5h-4zM348 220h5v4h-5z"/>
<path fill="#a2a2a2" d="M208 32h5v4h-5zM348 123h5v5h-5zM363 143h4v4h-4zM363 147h4v5h-4zM218 181h5v5h-5zM83 224h5v5h-5z"/>
<path fill="#aeaeae" d="M223 171h5v5h-5zM223 176h5v5h-5z"/>
<path fill="#c6c6c6" d="M228 176h4v5h-4z"/>
<path fill="#cccccc" d="M228 171h4v5h-4z"/>
</g>
<rect x="83.40" y="32.50" width="280.05" height="279.70" fill="none" stroke="#000" stroke-width="1.111"/>
<line x1="127.10" y1="32.50" x2="127.10" y2="27.64" stroke="#000" stroke-width="1.111"/>
<line x1="127.10" y1="312.20" x2="127.10" y2="317.06" stroke="#000" stroke-width="1.111"/>
<line x1="196.30" y1="32.50" x2="196.30" y2="27.64" stroke="#000" stroke-width="1.111"/>
<line x1="196.30" y1="312.20" x2="196.30" y2="317.06" stroke="#000" stroke-width="1.111"/>
<line x1="265.40" y1="32.50" x2="265.40" y2="27.64" stroke="#000" stroke-width="1.111"/>
<line x1="265.40" y1="312.20" x2="265.40" y2="317.06" stroke="#000" stroke-width="1.111"/>
<line x1="334.60" y1="32.50" x2="334.60" y2="27.64" stroke="#000" stroke-width="1.111"/>
<line x1="334.60" y1="312.20" x2="334.60" y2="317.06" stroke="#000" stroke-width="1.111"/>
<line x1="83.40" y1="46.60" x2="78.54" y2="46.60" stroke="#000" stroke-width="1.111"/>
<text transform="translate(72.90 50.60) scale(0.965 1.000)" font-size="13.889" text-anchor="end">0°45'</text>
<line x1="83.40" y1="108.50" x2="78.54" y2="108.50" stroke="#000" stroke-width="1.111"/>
<text transform="translate(72.90 112.50) scale(0.965 1.000)" font-size="13.889" text-anchor="end">30'</text>
<line x1="83.40" y1="170.40" x2="78.54" y2="170.40" stroke="#000" stroke-width="1.111"/>
<text transform="translate(72.90 174.40) scale(0.965 1.000)" font-size="13.889" text-anchor="end">15'</text>
<line x1="83.40" y1="232.50" x2="78.54" y2="232.50" stroke="#000" stroke-width="1.111"/>
<text transform="translate(72.90 236.50) scale(0.965 1.000)" font-size="13.889" text-anchor="end">00'</text>
<line x1="83.40" y1="294.70" x2="78.54" y2="294.70" stroke="#000" stroke-width="1.111"/>
<text transform="translate(72.90 298.70) scale(0.965 1.000)" font-size="13.889" text-anchor="end">-0°15'</text>
<line x1="363.45" y1="32.50" x2="368.31" y2="32.50" stroke="#000" stroke-width="1.111"/>
<line x1="363.45" y1="94.10" x2="368.31" y2="94.10" stroke="#000" stroke-width="1.111"/>
<line x1="363.45" y1="156.00" x2="368.31" y2="156.00" stroke="#000" stroke-width="1.111"/>
<line x1="363.45" y1="218.00" x2="368.31" y2="218.00" stroke="#000" stroke-width="1.111"/>
<line x1="363.45" y1="280.10" x2="368.31" y2="280.10" stroke="#000" stroke-width="1.111"/>
<text transform="translate(223.40 24.00) scale(0.975 1.070)" font-size="16.667" text-anchor="middle">Filter</text>
<text transform="translate(21.00 174.80) rotate(-90) scale(0.960 1.000)" font-size="13.889" text-anchor="middle">Dec</text>
<path d="M212.24 172.34L220.56 180.66M212.24 180.66L220.56 172.34" stroke="#0000ff" stroke-width="2.08" fill="none"/>
<path d="M221.44 170.24L229.76 178.56M221.44 178.56L229.76 170.24" stroke="#ff0000" stroke-width="2.08" fill="none"/>
<rect x="371.55" y="32.50" width="9.05" height="279.70" fill="url(#cb)" stroke="#000" stroke-width="1.111"/>
<line x1="380.60" y1="286.50" x2="385.46" y2="286.50" stroke="#000" stroke-width="1.111"/>
<text transform="translate(390.92 292.10) scale(0.955 1.000)" font-size="13.889" text-anchor="start">0.1</text>
<line x1="380.60" y1="252.25" x2="385.46" y2="252.25" stroke="#000" stroke-width="1.111"/>
<text transform="translate(390.92 257.85) scale(0.955 1.000)" font-size="13.889" text-anchor="start">0.2</text>
<line x1="380.60" y1="218.00" x2="385.46" y2="218.00" stroke="#000" stroke-width="1.111"/>
<text transform="translate(390.92 223.60) scale(0.955 1.000)" font-size="13.889" text-anchor="start">0.3</text>
<line x1="380.60" y1="183.75" x2="385.46" y2="183.75" stroke="#000" stroke-width="1.111"/>
<text transform="translate(390.92 189.35) scale(0.955 1.000)" font-size="13.889" text-anchor="start">0.4</text>
<line x1="380.60" y1="149.50" x2="385.46" y2="149.50" stroke="#000" stroke-width="1.111"/>
<text transform="translate(390.92 155.10) scale(0.955 1.000)" font-size="13.889" text-anchor="start">0.5</text>
<line x1="380.60" y1="115.25" x2="385.46" y2="115.25" stroke="#000" stroke-width="1.111"/>
<text transform="translate(390.92 120.85) scale(0.955 1.000)" font-size="13.889" text-anchor="start">0.6</text>
<line x1="380.60" y1="81.00" x2="385.46" y2="81.00" stroke="#000" stroke-width="1.111"/>
<text transform="translate(390.92 86.60) scale(0.955 1.000)" font-size="13.889" text-anchor="start">0.7</text>
<line x1="380.60" y1="46.75" x2="385.46" y2="46.75" stroke="#000" stroke-width="1.111"/>
<text transform="translate(390.92 52.35) scale(0.955 1.000)" font-size="13.889" text-anchor="start">0.8</text>
<text transform="translate(427.50 172.40) rotate(-90)" font-size="13.889" text-anchor="middle">arbitrary units</text>
<g clip-path="url(#c2)">
<rect x="83.40" y="364.55" width="280.05" height="280.90" fill="#262626" stroke="none" stroke-width="1.111"/>
<g filter="url(#bl)">
<path fill="#000000" d="M67.4 348.6h4v4h-4zM103.4 348.6h4v4h-4zM147.4 348.6h12v4h-12zM175.4 348.6h12v4h-12zM251.4 348.6h4v4h-4zM271.4 348.6h4v4h-4zM299.4 348.6h16v4h-16zM339.4 348.6h4v4h-4zM355.4 348.6h12v4h-12zM67.4 352.6h4v4h-4zM95.4 352.6h8v4h-8zM179.4 352.6h4v4h-4zM211.4 352.6h8v4h-8zM299.4 352.6h16v4h-16zM363.4 352.6h8v4h-8zM91.4 356.6h16v4h-16zM135.4 356.6h4v4h-4zM199.4 356.6h20v4h-20zM299.4 356.6h24v4h-24zM363.4 356.6h8v4h-8zM95.4 360.6h12v4h-12zM167.4 360.6h4v4h-4zM203.4 360.6h8v4h-8zM227.4 360.6h8v4h-8zM247.4 360.6h4v4h-4zM303.4 360.6h20v4h-20zM363.4 360.6h8v4h-8zM163.4 364.6h8v4h-8zM203.4 364.6h12v4h-12zM227.4 364.6h8v4h-8zM243.4 364.6h8v4h-8zM307.4 364.6h8v4h-8zM363.4 364.6h8v4h-8zM163.4 368.6h8v4h-8zM179.4 368.6h4v4h-4zM203.4 368.6h16v4h-16zM227.4 368.6h8v4h-8zM243.4 368.6h4v4h-4zM307.4 368.6h8v4h-8zM363.4 368.6h12v4h-12zM71.4 372.6h8v4h-8zM199.4 372.6h4v4h-4zM243.4 372.6h4v4h-4zM363.4 372.6h16v4h-16zM71.4 376.6h8v4h-8zM183.4 376.6h4v4h-4zM215.4 376.6h8v4h-8zM247.4 376.6h4v4h-4zM311.4 376.6h8v4h-8zM351.4 376.6h4v4h-4zM363.4 376.6h8v4h-8zM75.4 380.6h12v4h-12zM91.4 380.6h8v4h-8zM163.4 380.6h4v4h-4zM215.4 380.6h12v4h-12zM283.4 380.6h4v4h-4zM311.4 380.6h8v4h-8zM327.4 380.6h4v4h-4zM367.4 380.6h4v4h-4zM79.4 384.6h12v4h-12zM163.4 384.6h8v4h-8zM175.4 384.6h16v4h-16zM199.4 384.6h4v4h-4zM211.4 384.6h16v4h-16zM283.4 384.6h8v4h-8zM311.4 384.6h8v4h-8zM363.4 384.6h24v4h-24zM163.4 388.6h4v4h-4zM171.4 388.6h4v4h-4zM183.4 388.6h8v4h-8zM211.4 388.6h4v4h-4zM363.4 388.6h24v4h-24zM71.4 392.6h4v4h-4zM87.4 392.6h4v4h-4zM99.4 392.6h8v4h-8zM111.4 392.6h8v4h-8zM323.4 392.6h4v4h-4zM363.4 392.6h4v4h-4zM371.4 392.6h16v4h-16zM67.4 396.6h12v4h-12zM83.4 396.6h8v4h-8zM95.4 396.6h12v4h-12zM111.4 396.6h8v4h-8zM207.4 396.6h8v4h-8zM259.4 396.6h4v4h-4zM295.4 396.6h4v4h-4zM323.4 396.6h8v4h-8zM375.4 396.6h12v4h-12zM67.4 400.6h8v4h-8zM83.4 400.6h4v4h-4zM99.4 400.6h4v4h-4zM115.4 400.6h4v4h-4zM207.4 400.6h8v4h-8zM223.4 400.6h4v4h-4zM275.4 400.6h4v4h-4zM295.4 400.6h4v4h-4zM375.4 400.6h4v4h-4zM123.4 404.6h4v4h-4zM175.4 404.6h4v4h-4zM267.4 404.6h4v4h-4zM279.4 404.6h4v4h-4zM319.4 404.6h8v4h-8zM331.4 404.6h8v4h-8zM375.4 404.6h4v4h-4zM119.4 408.6h8v4h-8zM147.4 408.6h4v4h-4zM159.4 408.6h4v4h-4zM247.4 408.6h4v4h-4zM267.4 408.6h4v4h-4zM319.4 408.6h8v4h-8zM331.4 408.6h8v4h-8zM371.4 408.6h8v4h-8zM75.4 412.6h8v4h-8zM143.4 412.6h8v4h-8zM159.4 412.6h4v4h-4zM247.4 412.6h8v4h-8zM271.4 412.6h4v4h-4zM299.4 412.6h4v4h-4zM331.4 412.6h8v4h-8zM367.4 412.6h12v4h-12zM75.4 416.6h12v4h-12zM143.4 416.6h20v4h-20zM239.4 416.6h20v4h-20zM271.4 416.6h8v4h-8zM295.4 416.6h12v4h-12zM75.4 420.6h8v4h-8zM107.4 420.6h4v4h-4zM143.4 420.6h12v4h-12zM163.4 420.6h4v4h-4zM171.4 420.6h8v4h-8zM231.4 420.6h32v4h-32zM275.4 420.6h8v4h-8zM295.4 420.6h16v4h-16zM383.4 420.6h4v4h-4zM67.4 424.6h4v4h-4zM75.4 424.6h8v4h-8zM139.4 424.6h12v4h-12zM163.4 424.6h28v4h-28zM215.4 424.6h4v4h-4zM231.4 424.6h8v4h-8zM255.4 424.6h8v4h-8zM295.4 424.6h24v4h-24zM67.4 428.6h4v4h-4zM91.4 428.6h4v4h-4zM139.4 428.6h8v4h-8zM159.4 428.6h36v4h-36zM255.4 428.6h8v4h-8zM287.4 428.6h32v4h-32zM371.4 428.6h8v4h-8zM131.4 432.6h4v4h-4zM159.4 432.6h24v4h-24zM191.4 432.6h8v4h-8zM255.4 432.6h8v4h-8zM287.4 432.6h12v4h-12zM303.4 432.6h12v4h-12zM371.4 432.6h16v4h-16zM71.4 436.6h16v4h-16zM127.4 436.6h4v4h-4zM143.4 436.6h4v4h-4zM159.4 436.6h8v4h-8zM191.4 436.6h12v4h-12zM207.4 436.6h8v4h-8zM247.4 436.6h4v4h-4zM259.4 436.6h4v4h-4zM291.4 436.6h4v4h-4zM307.4 436.6h8v4h-8zM383.4 436.6h4v4h-4zM71.4 440.6h16v4h-16zM123.4 440.6h8v4h-8zM159.4 440.6h4v4h-4zM195.4 440.6h4v4h-4zM203.4 440.6h12v4h-12zM227.4 440.6h4v4h-4zM247.4 440.6h8v4h-8zM275.4 440.6h4v4h-4zM295.4 440.6h8v4h-8zM315.4 440.6h4v4h-4zM355.4 440.6h4v4h-4zM71.4 444.6h12v4h-12zM119.4 444.6h12v4h-12zM207.4 444.6h8v4h-8zM227.4 444.6h8v4h-8zM247.4 444.6h12v4h-12zM275.4 444.6h4v4h-4zM295.4 444.6h8v4h-8zM311.4 444.6h8v4h-8zM331.4 444.6h4v4h-4zM107.4 448.6h4v4h-4zM119.4 448.6h12v4h-12zM211.4 448.6h8v4h-8zM231.4 448.6h4v4h-4zM251.4 448.6h8v4h-8zM267.4 448.6h4v4h-4zM299.4 448.6h4v4h-4zM327.4 448.6h8v4h-8zM123.4 452.6h8v4h-8zM199.4 452.6h4v4h-4zM207.4 452.6h16v4h-16zM231.4 452.6h4v4h-4zM251.4 452.6h8v4h-8zM323.4 452.6h20v4h-20zM127.4 456.6h4v4h-4zM195.4 456.6h12v4h-12zM215.4 456.6h8v4h-8zM227.4 456.6h8v4h-8zM247.4 456.6h12v4h-12zM307.4 456.6h4v4h-4zM319.4 456.6h8v4h-8zM335.4 456.6h8v4h-8zM363.4 456.6h4v4h-4zM99.4 460.6h12v4h-12zM171.4 460.6h8v4h-8zM191.4 460.6h16v4h-16zM215.4 460.6h4v4h-4zM227.4 460.6h8v4h-8zM247.4 460.6h8v4h-8zM307.4 460.6h4v4h-4zM319.4 460.6h8v4h-8zM335.4 460.6h8v4h-8zM359.4 460.6h16v4h-16zM79.4 464.6h4v4h-4zM99.4 464.6h8v4h-8zM191.4 464.6h16v4h-16zM227.4 464.6h8v4h-8zM323.4 464.6h4v4h-4zM79.4 468.6h4v4h-4zM99.4 468.6h4v4h-4zM199.4 468.6h12v4h-12zM339.4 468.6h8v4h-8zM207.4 472.6h8v4h-8zM379.4 472.6h8v4h-8zM75.4 476.6h16v4h-16zM175.4 476.6h4v4h-4zM207.4 476.6h8v4h-8zM223.4 476.6h4v4h-4zM303.4 476.6h8v4h-8zM379.4 476.6h8v4h-8zM71.4 480.6h20v4h-20zM99.4 480.6h12v4h-12zM175.4 480.6h4v4h-4zM207.4 480.6h8v4h-8zM223.4 480.6h4v4h-4zM243.4 480.6h4v4h-4zM299.4 480.6h12v4h-12zM351.4 480.6h4v4h-4zM79.4 484.6h8v4h-8zM103.4 484.6h4v4h-4zM187.4 484.6h8v4h-8zM283.4 484.6h4v4h-4zM299.4 484.6h12v4h-12zM347.4 484.6h4v4h-4zM355.4 484.6h4v4h-4zM79.4 488.6h8v4h-8zM99.4 488.6h8v4h-8zM139.4 488.6h8v4h-8zM187.4 488.6h16v4h-16zM283.4 488.6h24v4h-24zM355.4 488.6h4v4h-4zM79.4 492.6h4v4h-4zM99.4 492.6h8v4h-8zM143.4 492.6h4v4h-4zM187.4 492.6h16v4h-16zM291.4 492.6h20v4h-20zM355.4 492.6h4v4h-4zM99.4 496.6h8v4h-8zM115.4 496.6h4v4h-4zM127.4 496.6h4v4h-4zM155.4 496.6h4v4h-4zM187.4 496.6h12v4h-12zM211.4 496.6h4v4h-4zM251.4 496.6h4v4h-4zM299.4 496.6h8v4h-8zM99.4 500.6h8v4h-8zM115.4 500.6h4v4h-4zM155.4 500.6h4v4h-4zM167.4 500.6h4v4h-4zM207.4 500.6h28v4h-28zM247.4 500.6h12v4h-12zM267.4 500.6h4v4h-4zM67.4 504.6h12v4h-12zM167.4 504.6h4v4h-4zM207.4 504.6h4v4h-4zM239.4 504.6h4v4h-4zM247.4 504.6h12v4h-12zM307.4 504.6h4v4h-4zM67.4 508.6h12v4h-12zM123.4 508.6h8v4h-8zM147.4 508.6h4v4h-4zM167.4 508.6h4v4h-4zM239.4 508.6h8v4h-8zM251.4 508.6h12v4h-12zM279.4 508.6h16v4h-16zM327.4 508.6h4v4h-4zM75.4 512.5h4v4h-4zM95.4 512.5h4v4h-4zM111.4 512.5h12v4h-12zM147.4 512.5h4v4h-4zM239.4 512.5h4v4h-4zM279.4 512.5h20v4h-20zM327.4 512.5h4v4h-4zM343.4 512.5h8v4h-8zM107.4 516.5h8v4h-8zM279.4 516.5h16v4h-16zM327.4 516.5h4v4h-4zM339.4 516.5h8v4h-8zM75.4 520.5h4v4h-4zM111.4 520.5h4v4h-4zM123.4 520.5h4v4h-4zM275.4 520.5h16v4h-16zM339.4 520.5h4v4h-4zM67.4 524.5h12v4h-12zM111.4 524.5h4v4h-4zM159.4 524.5h4v4h-4zM275.4 524.5h24v4h-24zM67.4 528.5h8v4h-8zM111.4 528.5h4v4h-4zM159.4 528.5h4v4h-4zM191.4 528.5h4v4h-4zM291.4 528.5h8v4h-8zM67.4 532.5h4v4h-4zM135.4 532.5h8v4h-8zM187.4 532.5h8v4h-8zM215.4 532.5h4v4h-4zM291.4 532.5h4v4h-4zM103.4 536.5h8v4h-8zM167.4 536.5h8v4h-8zM187.4 536.5h12v4h-12zM231.4 536.5h4v4h-4zM259.4 536.5h12v4h-12zM379.4 536.5h8v4h-8zM103.4 540.5h8v4h-8zM167.4 540.5h8v4h-8zM187.4 540.5h4v4h-4zM227.4 540.5h4v4h-4zM259.4 540.5h16v4h-16zM383.4 540.5h4v4h-4zM95.4 544.5h12v4h-12zM127.4 544.5h8v4h-8zM223.4 544.5h12v4h-12zM263.4 544.5h4v4h-4zM271.4 544.5h4v4h-4zM383.4 544.5h4v4h-4zM95.4 548.5h8v4h-8zM127.4 548.5h28v4h-28zM211.4 548.5h4v4h-4zM239.4 548.5h8v4h-8zM271.4 548.5h4v4h-4zM315.4 548.5h8v4h-8zM99.4 552.5h8v4h-8zM111.4 552.5h4v4h-4zM139.4 552.5h16v4h-16zM239.4 552.5h4v4h-4zM315.4 552.5h8v4h-8zM335.4 552.5h4v4h-4zM371.4 552.5h8v4h-8zM99.4 556.5h8v4h-8zM111.4 556.5h8v4h-8zM155.4 556.5h4v4h-4zM199.4 556.5h8v4h-8zM239.4 556.5h4v4h-4zM95.4 560.5h8v4h-8zM115.4 560.5h4v4h-4zM211.4 560.5h8v4h-8zM235.4 560.5h8v4h-8zM259.4 560.5h8v4h-8zM283.4 560.5h8v4h-8zM323.4 560.5h4v4h-4zM343.4 560.5h8v4h-8zM67.4 564.5h4v4h-4zM95.4 564.5h8v4h-8zM163.4 564.5h4v4h-4zM211.4 564.5h8v4h-8zM223.4 564.5h16v4h-16zM283.4 564.5h8v4h-8zM319.4 564.5h12v4h-12zM375.4 564.5h8v4h-8zM67.4 568.5h4v4h-4zM91.4 568.5h12v4h-12zM147.4 568.5h8v4h-8zM171.4 568.5h8v4h-8zM195.4 568.5h4v4h-4zM211.4 568.5h8v4h-8zM227.4 568.5h8v4h-8zM283.4 568.5h4v4h-4zM327.4 568.5h4v4h-4zM351.4 568.5h8v4h-8zM67.4 572.5h8v4h-8zM95.4 572.5h8v4h-8zM115.4 572.5h4v4h-4zM147.4 572.5h4v4h-4zM171.4 572.5h8v4h-8zM267.4 572.5h8v4h-8zM283.4 572.5h4v4h-4zM351.4 572.5h12v4h-12zM67.4 576.5h12v4h-12zM111.4 576.5h8v4h-8zM199.4 576.5h4v4h-4zM267.4 576.5h4v4h-4zM351.4 576.5h16v4h-16zM67.4 580.5h8v4h-8zM111.4 580.5h12v4h-12zM167.4 580.5h4v4h-4zM199.4 580.5h4v4h-4zM255.4 580.5h8v4h-8zM363.4 580.5h8v4h-8zM79.4 584.5h4v4h-4zM95.4 584.5h4v4h-4zM111.4 584.5h4v4h-4zM123.4 584.5h4v4h-4zM147.4 584.5h4v4h-4zM191.4 584.5h8v4h-8zM247.4 584.5h12v4h-12zM291.4 584.5h4v4h-4zM367.4 584.5h4v4h-4zM79.4 588.5h8v4h-8zM111.4 588.5h4v4h-4zM127.4 588.5h4v4h-4zM143.4 588.5h20v4h-20zM287.4 588.5h8v4h-8zM363.4 588.5h8v4h-8zM67.4 592.5h16v4h-16zM143.4 592.5h4v4h-4zM151.4 592.5h12v4h-12zM287.4 592.5h12v4h-12zM335.4 592.5h12v4h-12zM363.4 592.5h8v4h-8zM67.4 596.5h12v4h-12zM151.4 596.5h12v4h-12zM275.4 596.5h8v4h-8zM291.4 596.5h4v4h-4zM311.4 596.5h8v4h-8zM339.4 596.5h4v4h-4zM355.4 596.5h4v4h-4zM75.4 600.5h4v4h-4zM127.4 600.5h8v4h-8zM155.4 600.5h8v4h-8zM275.4 600.5h8v4h-8zM311.4 600.5h20v4h-20zM355.4 600.5h4v4h-4zM75.4 604.5h8v4h-8zM127.4 604.5h12v4h-12zM259.4 604.5h8v4h-8zM279.4 604.5h8v4h-8zM311.4 604.5h12v4h-12zM71.4 608.5h12v4h-12zM131.4 608.5h8v4h-8zM199.4 608.5h4v4h-4zM243.4 608.5h8v4h-8zM259.4 608.5h8v4h-8zM311.4 608.5h24v4h-24zM71.4 612.5h12v4h-12zM99.4 612.5h4v4h-4zM163.4 612.5h4v4h-4zM195.4 612.5h12v4h-12zM247.4 612.5h8v4h-8zM327.4 612.5h8v4h-8zM343.4 612.5h4v4h-4zM71.4 616.5h8v4h-8zM95.4 616.5h8v4h-8zM163.4 616.5h8v4h-8zM183.4 616.5h24v4h-24zM247.4 616.5h8v4h-8zM67.4 620.5h8v4h-8zM155.4 620.5h4v4h-4zM163.4 620.5h12v4h-12zM183.4 620.5h8v4h-8zM231.4 620.5h8v4h-8zM251.4 620.5h4v4h-4zM271.4 620.5h8v4h-8zM127.4 624.5h4v4h-4zM143.4 624.5h32v4h-32zM183.4 624.5h4v4h-4zM231.4 624.5h20v4h-20zM259.4 624.5h4v4h-4zM275.4 624.5h4v4h-4zM343.4 624.5h4v4h-4zM359.4 624.5h8v4h-8zM379.4 624.5h8v4h-8zM87.4 628.5h4v4h-4zM127.4 628.5h4v4h-4zM139.4 628.5h8v4h-8zM155.4 628.5h16v4h-16zM183.4 628.5h4v4h-4zM215.4 628.5h4v4h-4zM227.4 628.5h4v4h-4zM255.4 628.5h8v4h-8zM279.4 628.5h12v4h-12zM339.4 628.5h12v4h-12zM359.4 628.5h8v4h-8zM379.4 628.5h8v4h-8zM159.4 632.5h4v4h-4zM183.4 632.5h4v4h-4zM203.4 632.5h16v4h-16zM343.4 632.5h4v4h-4zM359.4 632.5h12v4h-12zM383.4 632.5h4v4h-4zM103.4 636.5h4v4h-4zM199.4 636.5h8v4h-8zM367.4 636.5h8v4h-8zM383.4 636.5h4v4h-4zM103.4 640.5h8v4h-8zM179.4 640.5h4v4h-4zM199.4 640.5h4v4h-4zM239.4 640.5h12v4h-12zM123.4 644.5h4v4h-4zM179.4 644.5h8v4h-8zM219.4 644.5h4v4h-4zM247.4 644.5h8v4h-8zM339.4 644.5h8v4h-8zM67.4 648.5h8v4h-8zM119.4 648.5h12v4h-12zM135.4 648.5h8v4h-8zM179.4 648.5h4v4h-4zM247.4 648.5h8v4h-8zM271.4 648.5h8v4h-8zM343.4 648.5h8v4h-8zM355.4 648.5h4v4h-4zM67.4 652.5h4v4h-4zM119.4 652.5h8v4h-8zM135.4 652.5h8v4h-8zM179.4 652.5h4v4h-4zM271.4 652.5h12v4h-12zM327.4 652.5h4v4h-4zM343.4 652.5h8v4h-8zM355.4 652.5h4v4h-4zM67.4 656.5h4v4h-4zM127.4 656.5h8v4h-8zM175.4 656.5h8v4h-8zM231.4 656.5h8v4h-8zM271.4 656.5h16v4h-16zM311.4 656.5h4v4h-4zM327.4 656.5h4v4h-4zM127.4 660.5h4v4h-4zM155.4 660.5h4v4h-4zM171.4 660.5h12v4h-12zM219.4 660.5h32v4h-32zM275.4 660.5h16v4h-16zM311.4 660.5h4v4h-4zM363.4 660.5h8v4h-8zM155.4 664.5h8v4h-8zM175.4 664.5h8v4h-8zM203.4 664.5h4v4h-4zM219.4 664.5h28v4h-28zM307.4 664.5h4v4h-4zM363.4 664.5h8v4h-8z"/>
<path fill="#060606" d="M71.4 348.6h4v4h-4zM107.4 348.6h4v4h-4zM171.4 348.6h4v4h-4zM211.4 348.6h4v4h-4zM227.4 348.6h4v4h-4zM247.4 348.6h4v4h-4zM123.4 352.6h4v4h-4zM175.4 352.6h4v4h-4zM203.4 352.6h4v4h-4zM271.4 352.6h4v4h-4zM339.4 352.6h4v4h-4zM359.4 352.6h4v4h-4zM371.4 356.6h4v4h-4zM91.4 360.6h4v4h-4zM135.4 360.6h4v4h-4zM243.4 360.6h4v4h-4zM79.4 364.6h4v4h-4zM179.4 364.6h4v4h-4zM235.4 364.6h8v4h-8zM315.4 364.6h4v4h-4zM199.4 368.6h4v4h-4zM375.4 368.6h4v4h-4zM67.4 372.6h4v4h-4zM179.4 372.6h4v4h-4zM203.4 372.6h4v4h-4zM219.4 372.6h8v4h-8zM247.4 372.6h4v4h-4zM223.4 376.6h4v4h-4zM243.4 376.6h4v4h-4zM323.4 376.6h8v4h-8zM335.4 376.6h4v4h-4zM371.4 376.6h4v4h-4zM167.4 380.6h4v4h-4zM183.4 380.6h8v4h-8zM199.4 380.6h4v4h-4zM211.4 380.6h4v4h-4zM287.4 380.6h4v4h-4zM323.4 380.6h4v4h-4zM171.4 384.6h4v4h-4zM191.4 384.6h8v4h-8zM279.4 384.6h4v4h-4zM147.4 388.6h4v4h-4zM167.4 388.6h4v4h-4zM175.4 388.6h8v4h-8zM207.4 388.6h4v4h-4zM267.4 388.6h4v4h-4zM359.4 388.6h4v4h-4zM171.4 392.6h4v4h-4zM207.4 392.6h8v4h-8zM295.4 392.6h4v4h-4zM327.4 392.6h4v4h-4zM91.4 396.6h4v4h-4zM223.4 396.6h4v4h-4zM275.4 396.6h4v4h-4zM363.4 396.6h4v4h-4zM371.4 396.6h4v4h-4zM75.4 400.6h8v4h-8zM103.4 400.6h4v4h-4zM111.4 400.6h4v4h-4zM175.4 400.6h4v4h-4zM255.4 400.6h4v4h-4zM323.4 400.6h4v4h-4zM331.4 400.6h4v4h-4zM359.4 400.6h4v4h-4zM71.4 404.6h8v4h-8zM119.4 404.6h4v4h-4zM147.4 404.6h4v4h-4zM223.4 404.6h4v4h-4zM371.4 404.6h4v4h-4zM163.4 408.6h4v4h-4zM271.4 408.6h4v4h-4zM71.4 412.6h4v4h-4zM163.4 412.6h4v4h-4zM275.4 412.6h4v4h-4zM295.4 412.6h4v4h-4zM323.4 412.6h4v4h-4zM379.4 412.6h4v4h-4zM279.4 416.6h4v4h-4zM383.4 416.6h4v4h-4zM127.4 420.6h4v4h-4zM207.4 420.6h4v4h-4zM271.4 420.6h4v4h-4zM311.4 420.6h4v4h-4zM71.4 424.6h4v4h-4zM191.4 424.6h4v4h-4zM347.4 424.6h4v4h-4zM71.4 428.6h12v4h-12zM131.4 428.6h8v4h-8zM231.4 428.6h4v4h-4zM71.4 432.6h8v4h-8zM91.4 432.6h4v4h-4zM127.4 432.6h4v4h-4zM135.4 432.6h4v4h-4zM227.4 432.6h4v4h-4zM299.4 432.6h4v4h-4zM203.4 436.6h4v4h-4zM251.4 436.6h4v4h-4zM263.4 436.6h4v4h-4zM287.4 436.6h4v4h-4zM295.4 436.6h4v4h-4zM303.4 436.6h4v4h-4zM315.4 436.6h4v4h-4zM215.4 440.6h4v4h-4zM311.4 440.6h4v4h-4zM359.4 440.6h4v4h-4zM159.4 444.6h4v4h-4zM327.4 444.6h4v4h-4zM111.4 448.6h4v4h-4zM171.4 448.6h8v4h-8zM187.4 448.6h4v4h-4zM207.4 448.6h4v4h-4zM227.4 448.6h4v4h-4zM247.4 448.6h4v4h-4zM271.4 448.6h4v4h-4zM335.4 448.6h4v4h-4zM111.4 452.6h4v4h-4zM247.4 452.6h4v4h-4zM267.4 452.6h4v4h-4zM279.4 452.6h4v4h-4zM383.4 452.6h4v4h-4zM123.4 456.6h4v4h-4zM211.4 456.6h4v4h-4zM359.4 456.6h4v4h-4zM111.4 460.6h4v4h-4zM127.4 460.6h4v4h-4zM303.4 460.6h4v4h-4zM95.4 464.6h4v4h-4zM171.4 464.6h4v4h-4zM207.4 464.6h4v4h-4zM307.4 464.6h4v4h-4zM339.4 464.6h4v4h-4zM371.4 464.6h4v4h-4zM83.4 468.6h4v4h-4zM95.4 468.6h4v4h-4zM195.4 468.6h4v4h-4zM211.4 468.6h4v4h-4zM231.4 468.6h4v4h-4zM175.4 472.6h4v4h-4zM203.4 472.6h4v4h-4zM307.4 472.6h4v4h-4zM339.4 472.6h4v4h-4zM71.4 476.6h4v4h-4zM107.4 476.6h4v4h-4zM219.4 476.6h4v4h-4zM243.4 476.6h4v4h-4zM299.4 476.6h4v4h-4zM159.4 480.6h4v4h-4zM219.4 480.6h4v4h-4zM259.4 480.6h8v4h-8zM311.4 480.6h4v4h-4zM327.4 480.6h4v4h-4zM355.4 480.6h4v4h-4zM71.4 484.6h4v4h-4zM107.4 484.6h4v4h-4zM143.4 484.6h4v4h-4zM259.4 484.6h8v4h-8zM287.4 484.6h4v4h-4zM351.4 484.6h4v4h-4zM351.4 488.6h4v4h-4zM83.4 492.6h4v4h-4zM95.4 492.6h4v4h-4zM151.4 496.6h4v4h-4zM215.4 496.6h4v4h-4zM267.4 496.6h4v4h-4zM307.4 496.6h4v4h-4zM119.4 500.6h4v4h-4zM199.4 500.6h8v4h-8zM263.4 500.6h4v4h-4zM291.4 500.6h4v4h-4zM303.4 500.6h8v4h-8zM331.4 500.6h4v4h-4zM79.4 504.6h4v4h-4zM203.4 504.6h4v4h-4zM243.4 504.6h4v4h-4zM267.4 504.6h4v4h-4zM291.4 504.6h4v4h-4zM327.4 504.6h4v4h-4zM79.4 508.6h4v4h-4zM115.4 508.6h8v4h-8zM131.4 508.6h4v4h-4zM203.4 508.6h8v4h-8zM303.4 508.6h4v4h-4zM343.4 508.6h4v4h-4zM71.4 512.5h4v4h-4zM167.4 512.5h8v4h-8zM203.4 512.5h8v4h-8zM323.4 512.5h4v4h-4zM75.4 516.5h4v4h-4zM95.4 516.5h4v4h-4zM207.4 516.5h4v4h-4zM295.4 516.5h4v4h-4zM107.4 520.5h4v4h-4zM291.4 520.5h4v4h-4zM335.4 520.5h4v4h-4zM355.4 520.5h4v4h-4zM95.4 524.5h4v4h-4zM123.4 524.5h4v4h-4zM95.4 528.5h4v4h-4zM115.4 528.5h4v4h-4zM279.4 528.5h4v4h-4zM287.4 528.5h4v4h-4zM319.4 528.5h4v4h-4zM211.4 532.5h4v4h-4zM231.4 532.5h4v4h-4zM287.4 532.5h4v4h-4zM295.4 532.5h4v4h-4zM319.4 532.5h4v4h-4zM163.4 536.5h4v4h-4zM227.4 536.5h4v4h-4zM247.4 536.5h4v4h-4zM271.4 536.5h4v4h-4zM291.4 536.5h4v4h-4zM99.4 540.5h4v4h-4zM131.4 540.5h4v4h-4zM223.4 540.5h4v4h-4zM231.4 540.5h4v4h-4zM379.4 540.5h4v4h-4zM239.4 544.5h8v4h-8zM267.4 544.5h4v4h-4zM339.4 544.5h4v4h-4zM207.4 548.5h4v4h-4zM275.4 548.5h4v4h-4zM335.4 548.5h4v4h-4zM375.4 548.5h4v4h-4zM383.4 548.5h4v4h-4zM107.4 552.5h4v4h-4zM115.4 552.5h4v4h-4zM135.4 552.5h4v4h-4zM155.4 552.5h4v4h-4zM271.4 552.5h4v4h-4zM331.4 552.5h4v4h-4zM379.4 552.5h4v4h-4zM151.4 556.5h4v4h-4zM243.4 556.5h4v4h-4zM259.4 556.5h8v4h-8zM375.4 556.5h4v4h-4zM103.4 560.5h4v4h-4zM227.4 560.5h4v4h-4zM383.4 560.5h4v4h-4zM167.4 564.5h4v4h-4zM343.4 564.5h8v4h-8zM371.4 564.5h4v4h-4zM155.4 568.5h4v4h-4zM163.4 568.5h4v4h-4zM191.4 568.5h4v4h-4zM219.4 568.5h8v4h-8zM319.4 568.5h8v4h-8zM359.4 568.5h4v4h-4zM375.4 568.5h4v4h-4zM91.4 572.5h4v4h-4zM195.4 572.5h8v4h-8zM215.4 572.5h4v4h-4zM247.4 572.5h8v4h-8zM347.4 572.5h4v4h-4zM363.4 572.5h4v4h-4zM95.4 576.5h4v4h-4zM283.4 576.5h4v4h-4zM95.4 580.5h4v4h-4zM143.4 580.5h4v4h-4zM195.4 580.5h4v4h-4zM83.4 584.5h4v4h-4zM115.4 584.5h4v4h-4zM143.4 584.5h4v4h-4zM243.4 584.5h4v4h-4zM363.4 584.5h4v4h-4zM75.4 588.5h4v4h-4zM99.4 588.5h4v4h-4zM107.4 588.5h4v4h-4zM123.4 588.5h4v4h-4zM235.4 588.5h4v4h-4zM295.4 588.5h4v4h-4zM371.4 588.5h4v4h-4zM83.4 592.5h4v4h-4zM103.4 592.5h4v4h-4zM127.4 592.5h4v4h-4zM139.4 592.5h4v4h-4zM163.4 592.5h4v4h-4zM299.4 592.5h4v4h-4zM371.4 592.5h4v4h-4zM143.4 596.5h4v4h-4zM267.4 596.5h8v4h-8zM283.4 596.5h4v4h-4zM295.4 596.5h4v4h-4zM323.4 596.5h8v4h-8zM343.4 596.5h4v4h-4zM71.4 600.5h4v4h-4zM135.4 600.5h4v4h-4zM151.4 600.5h4v4h-4zM251.4 600.5h8v4h-8zM283.4 600.5h4v4h-4zM291.4 600.5h4v4h-4zM359.4 600.5h4v4h-4zM107.4 604.5h4v4h-4zM323.4 604.5h4v4h-4zM355.4 604.5h12v4h-12zM127.4 608.5h4v4h-4zM195.4 608.5h4v4h-4zM251.4 608.5h4v4h-4zM67.4 612.5h4v4h-4zM95.4 612.5h4v4h-4zM167.4 612.5h4v4h-4zM67.4 616.5h4v4h-4zM91.4 616.5h4v4h-4zM159.4 616.5h4v4h-4zM99.4 620.5h4v4h-4zM131.4 620.5h4v4h-4zM159.4 620.5h4v4h-4zM195.4 620.5h8v4h-8zM247.4 620.5h4v4h-4zM383.4 620.5h4v4h-4zM83.4 624.5h8v4h-8zM123.4 624.5h4v4h-4zM139.4 624.5h4v4h-4zM215.4 624.5h4v4h-4zM227.4 624.5h4v4h-4zM255.4 624.5h4v4h-4zM311.4 624.5h4v4h-4zM339.4 624.5h4v4h-4zM123.4 628.5h4v4h-4zM211.4 628.5h4v4h-4zM219.4 628.5h8v4h-8zM335.4 628.5h4v4h-4zM355.4 628.5h4v4h-4zM155.4 632.5h4v4h-4zM255.4 632.5h4v4h-4zM279.4 632.5h4v4h-4zM347.4 632.5h4v4h-4zM379.4 632.5h4v4h-4zM107.4 636.5h4v4h-4zM195.4 640.5h4v4h-4zM251.4 640.5h4v4h-4zM259.4 640.5h4v4h-4zM327.4 640.5h4v4h-4zM343.4 640.5h4v4h-4zM367.4 640.5h4v4h-4zM383.4 640.5h4v4h-4zM223.4 644.5h4v4h-4zM347.4 644.5h4v4h-4zM383.4 644.5h4v4h-4zM183.4 648.5h4v4h-4zM279.4 648.5h4v4h-4zM339.4 648.5h4v4h-4zM351.4 648.5h4v4h-4zM183.4 652.5h4v4h-4zM203.4 652.5h4v4h-4zM351.4 652.5h4v4h-4zM359.4 652.5h4v4h-4zM123.4 656.5h4v4h-4zM155.4 656.5h4v4h-4zM247.4 656.5h8v4h-8zM299.4 656.5h4v4h-4zM123.4 660.5h4v4h-4zM359.4 660.5h4v4h-4zM75.4 664.5h4v4h-4zM207.4 664.5h4v4h-4zM359.4 664.5h4v4h-4z"/>
<path fill="#0c0c0c" d="M99.4 348.6h4v4h-4zM323.4 348.6h8v4h-8zM91.4 352.6h4v4h-4zM103.4 352.6h4v4h-4zM127.4 352.6h4v4h-4zM151.4 352.6h8v4h-8zM207.4 352.6h4v4h-4zM247.4 352.6h4v4h-4zM315.4 352.6h4v4h-4zM131.4 356.6h4v4h-4zM323.4 356.6h4v4h-4zM223.4 360.6h4v4h-4zM235.4 360.6h4v4h-4zM323.4 360.6h4v4h-4zM83.4 364.6h4v4h-4zM99.4 364.6h8v4h-8zM147.4 364.6h4v4h-4zM159.4 368.6h4v4h-4zM219.4 368.6h4v4h-4zM239.4 368.6h4v4h-4zM247.4 368.6h4v4h-4zM267.4 368.6h4v4h-4zM343.4 368.6h8v4h-8zM163.4 372.6h4v4h-4zM183.4 372.6h4v4h-4zM215.4 372.6h4v4h-4zM311.4 372.6h4v4h-4zM79.4 376.6h4v4h-4zM95.4 376.6h4v4h-4zM187.4 376.6h4v4h-4zM251.4 376.6h4v4h-4zM331.4 376.6h4v4h-4zM87.4 380.6h4v4h-4zM159.4 380.6h4v4h-4zM171.4 380.6h12v4h-12zM319.4 380.6h4v4h-4zM351.4 380.6h4v4h-4zM383.4 380.6h4v4h-4zM75.4 384.6h4v4h-4zM243.4 384.6h4v4h-4zM259.4 384.6h4v4h-4zM87.4 388.6h4v4h-4zM151.4 388.6h4v4h-4zM243.4 388.6h4v4h-4zM271.4 388.6h4v4h-4zM279.4 388.6h4v4h-4zM315.4 388.6h4v4h-4zM67.4 392.6h4v4h-4zM91.4 392.6h8v4h-8zM151.4 392.6h4v4h-4zM175.4 392.6h8v4h-8zM267.4 392.6h4v4h-4zM319.4 392.6h4v4h-4zM331.4 392.6h4v4h-4zM359.4 392.6h4v4h-4zM367.4 392.6h4v4h-4zM79.4 396.6h4v4h-4zM107.4 396.6h4v4h-4zM227.4 396.6h4v4h-4zM299.4 396.6h4v4h-4zM359.4 396.6h4v4h-4zM139.4 400.6h8v4h-8zM195.4 400.6h4v4h-4zM203.4 400.6h4v4h-4zM227.4 400.6h4v4h-4zM259.4 400.6h4v4h-4zM279.4 400.6h4v4h-4zM363.4 400.6h4v4h-4zM255.4 404.6h4v4h-4zM271.4 404.6h4v4h-4zM71.4 408.6h4v4h-4zM135.4 408.6h4v4h-4zM251.4 408.6h4v4h-4zM263.4 408.6h4v4h-4zM67.4 412.6h4v4h-4zM255.4 412.6h4v4h-4zM267.4 412.6h4v4h-4zM283.4 412.6h4v4h-4zM319.4 412.6h4v4h-4zM327.4 412.6h4v4h-4zM339.4 412.6h4v4h-4zM71.4 416.6h4v4h-4zM127.4 416.6h4v4h-4zM259.4 416.6h4v4h-4zM267.4 416.6h4v4h-4zM379.4 416.6h4v4h-4zM111.4 420.6h4v4h-4zM131.4 420.6h4v4h-4zM139.4 420.6h4v4h-4zM167.4 420.6h4v4h-4zM179.4 420.6h8v4h-8zM215.4 420.6h8v4h-8zM251.4 424.6h4v4h-4zM291.4 424.6h4v4h-4zM95.4 428.6h4v4h-4zM79.4 432.6h4v4h-4zM87.4 432.6h4v4h-4zM139.4 432.6h4v4h-4zM183.4 432.6h8v4h-8zM199.4 432.6h4v4h-4zM315.4 432.6h4v4h-4zM87.4 436.6h4v4h-4zM123.4 436.6h4v4h-4zM131.4 436.6h4v4h-4zM167.4 436.6h4v4h-4zM227.4 436.6h4v4h-4zM255.4 436.6h4v4h-4zM359.4 436.6h4v4h-4zM67.4 440.6h4v4h-4zM143.4 440.6h4v4h-4zM263.4 440.6h4v4h-4zM83.4 444.6h4v4h-4zM107.4 444.6h4v4h-4zM171.4 444.6h4v4h-4zM179.4 444.6h8v4h-8zM267.4 444.6h8v4h-8zM167.4 448.6h4v4h-4zM179.4 448.6h8v4h-8zM235.4 448.6h4v4h-4zM279.4 448.6h4v4h-4zM315.4 448.6h4v4h-4zM171.4 452.6h4v4h-4zM187.4 452.6h4v4h-4zM195.4 452.6h4v4h-4zM203.4 452.6h4v4h-4zM271.4 452.6h4v4h-4zM283.4 452.6h4v4h-4zM107.4 456.6h8v4h-8zM131.4 456.6h4v4h-4zM171.4 456.6h4v4h-4zM191.4 456.6h4v4h-4zM207.4 456.6h4v4h-4zM235.4 456.6h4v4h-4zM327.4 456.6h8v4h-8zM383.4 456.6h4v4h-4zM219.4 460.6h4v4h-4zM235.4 460.6h4v4h-4zM279.4 460.6h4v4h-4zM311.4 460.6h4v4h-4zM327.4 460.6h8v4h-8zM343.4 460.6h4v4h-4zM75.4 464.6h4v4h-4zM83.4 464.6h4v4h-4zM107.4 464.6h4v4h-4zM215.4 464.6h12v4h-12zM319.4 464.6h4v4h-4zM327.4 464.6h4v4h-4zM343.4 464.6h4v4h-4zM75.4 468.6h4v4h-4zM103.4 468.6h4v4h-4zM75.4 472.6h4v4h-4zM83.4 472.6h8v4h-8zM155.4 472.6h4v4h-4zM171.4 472.6h4v4h-4zM103.4 476.6h4v4h-4zM155.4 476.6h4v4h-4zM239.4 476.6h4v4h-4zM311.4 476.6h4v4h-4zM75.4 484.6h4v4h-4zM99.4 484.6h4v4h-4zM159.4 484.6h4v4h-4zM195.4 484.6h4v4h-4zM211.4 484.6h4v4h-4zM343.4 484.6h4v4h-4zM367.4 484.6h4v4h-4zM107.4 488.6h4v4h-4zM215.4 488.6h4v4h-4zM259.4 488.6h4v4h-4zM279.4 488.6h4v4h-4zM307.4 488.6h4v4h-4zM347.4 488.6h4v4h-4zM367.4 488.6h4v4h-4zM127.4 492.6h8v4h-8zM147.4 492.6h4v4h-4zM351.4 492.6h4v4h-4zM83.4 496.6h4v4h-4zM111.4 496.6h4v4h-4zM199.4 496.6h4v4h-4zM207.4 496.6h4v4h-4zM263.4 496.6h4v4h-4zM291.4 496.6h8v4h-8zM331.4 496.6h12v4h-12zM111.4 500.6h4v4h-4zM151.4 500.6h4v4h-4zM195.4 500.6h4v4h-4zM235.4 500.6h4v4h-4zM323.4 500.6h8v4h-8zM335.4 500.6h8v4h-8zM235.4 504.6h4v4h-4zM259.4 504.6h4v4h-4zM303.4 504.6h4v4h-4zM331.4 504.6h8v4h-8zM111.4 508.6h4v4h-4zM171.4 508.6h4v4h-4zM191.4 508.6h4v4h-4zM295.4 508.6h4v4h-4zM347.4 508.6h4v4h-4zM91.4 512.5h4v4h-4zM107.4 512.5h4v4h-4zM179.4 512.5h4v4h-4zM259.4 512.5h4v4h-4zM91.4 516.5h4v4h-4zM115.4 516.5h8v4h-8zM275.4 516.5h4v4h-4zM315.4 516.5h4v4h-4zM323.4 516.5h4v4h-4zM71.4 520.5h4v4h-4zM127.4 520.5h4v4h-4zM159.4 520.5h4v4h-4zM231.4 520.5h4v4h-4zM299.4 520.5h4v4h-4zM115.4 524.5h4v4h-4zM299.4 524.5h4v4h-4zM75.4 528.5h4v4h-4zM283.4 528.5h4v4h-4zM71.4 532.5h4v4h-4zM91.4 532.5h8v4h-8zM131.4 532.5h4v4h-4zM143.4 532.5h4v4h-4zM163.4 532.5h4v4h-4zM195.4 532.5h4v4h-4zM283.4 532.5h4v4h-4zM367.4 532.5h4v4h-4zM215.4 536.5h4v4h-4zM251.4 536.5h4v4h-4zM295.4 536.5h4v4h-4zM367.4 536.5h4v4h-4zM79.4 540.5h4v4h-4zM95.4 540.5h4v4h-4zM175.4 540.5h4v4h-4zM183.4 540.5h4v4h-4zM191.4 540.5h4v4h-4zM247.4 540.5h4v4h-4zM79.4 544.5h4v4h-4zM91.4 544.5h4v4h-4zM107.4 544.5h4v4h-4zM135.4 544.5h4v4h-4zM183.4 544.5h4v4h-4zM207.4 544.5h4v4h-4zM235.4 544.5h4v4h-4zM247.4 544.5h4v4h-4zM179.4 548.5h4v4h-4zM247.4 548.5h4v4h-4zM371.4 548.5h4v4h-4zM379.4 548.5h4v4h-4zM131.4 552.5h4v4h-4zM199.4 552.5h4v4h-4zM243.4 552.5h4v4h-4zM383.4 552.5h4v4h-4zM107.4 556.5h4v4h-4zM159.4 556.5h4v4h-4zM187.4 556.5h4v4h-4zM319.4 556.5h8v4h-8zM335.4 556.5h4v4h-4zM359.4 556.5h8v4h-8zM187.4 560.5h4v4h-4zM207.4 560.5h4v4h-4zM223.4 560.5h4v4h-4zM243.4 560.5h4v4h-4zM319.4 560.5h4v4h-4zM379.4 560.5h4v4h-4zM207.4 564.5h4v4h-4zM219.4 564.5h4v4h-4zM239.4 564.5h4v4h-4zM115.4 568.5h8v4h-8zM159.4 568.5h4v4h-4zM199.4 568.5h4v4h-4zM207.4 568.5h4v4h-4zM247.4 568.5h4v4h-4zM119.4 572.5h4v4h-4zM151.4 572.5h4v4h-4zM191.4 572.5h4v4h-4zM211.4 572.5h4v4h-4zM263.4 572.5h4v4h-4zM279.4 572.5h4v4h-4zM327.4 572.5h4v4h-4zM79.4 576.5h4v4h-4zM171.4 576.5h4v4h-4zM195.4 576.5h4v4h-4zM255.4 576.5h8v4h-8zM271.4 576.5h4v4h-4zM347.4 576.5h4v4h-4zM139.4 580.5h4v4h-4zM163.4 580.5h4v4h-4zM359.4 580.5h4v4h-4zM67.4 584.5h4v4h-4zM91.4 584.5h4v4h-4zM119.4 584.5h4v4h-4zM151.4 584.5h12v4h-12zM187.4 584.5h4v4h-4zM215.4 584.5h4v4h-4zM319.4 584.5h4v4h-4zM95.4 588.5h4v4h-4zM103.4 588.5h4v4h-4zM115.4 588.5h4v4h-4zM163.4 588.5h4v4h-4zM231.4 588.5h4v4h-4zM239.4 588.5h4v4h-4zM247.4 588.5h4v4h-4zM87.4 592.5h4v4h-4zM147.4 592.5h4v4h-4zM267.4 592.5h4v4h-4zM283.4 592.5h4v4h-4zM303.4 592.5h8v4h-8zM323.4 592.5h4v4h-4zM347.4 592.5h4v4h-4zM87.4 596.5h4v4h-4zM119.4 596.5h12v4h-12zM171.4 596.5h4v4h-4zM215.4 596.5h8v4h-8zM251.4 596.5h8v4h-8zM287.4 596.5h4v4h-4zM319.4 596.5h4v4h-4zM335.4 596.5h4v4h-4zM171.4 600.5h4v4h-4zM259.4 600.5h8v4h-8zM307.4 600.5h4v4h-4zM71.4 604.5h4v4h-4zM83.4 604.5h4v4h-4zM159.4 604.5h4v4h-4zM255.4 604.5h4v4h-4zM275.4 604.5h4v4h-4zM327.4 604.5h8v4h-8zM367.4 604.5h4v4h-4zM107.4 608.5h4v4h-4zM359.4 608.5h4v4h-4zM91.4 612.5h4v4h-4zM191.4 612.5h4v4h-4zM315.4 612.5h4v4h-4zM79.4 616.5h4v4h-4zM87.4 616.5h4v4h-4zM75.4 620.5h4v4h-4zM127.4 620.5h4v4h-4zM147.4 620.5h4v4h-4zM179.4 620.5h4v4h-4zM191.4 620.5h4v4h-4zM179.4 624.5h4v4h-4zM251.4 624.5h4v4h-4zM263.4 624.5h4v4h-4zM271.4 624.5h4v4h-4zM335.4 624.5h4v4h-4zM83.4 628.5h4v4h-4zM171.4 628.5h4v4h-4zM179.4 628.5h4v4h-4zM311.4 628.5h4v4h-4zM367.4 628.5h4v4h-4zM375.4 628.5h4v4h-4zM103.4 632.5h4v4h-4zM179.4 632.5h4v4h-4zM199.4 632.5h4v4h-4zM223.4 632.5h4v4h-4zM339.4 632.5h4v4h-4zM255.4 636.5h4v4h-4zM363.4 636.5h4v4h-4zM67.4 640.5h4v4h-4zM83.4 640.5h4v4h-4zM183.4 640.5h4v4h-4zM219.4 640.5h8v4h-8zM235.4 640.5h4v4h-4zM255.4 640.5h4v4h-4zM67.4 644.5h4v4h-4zM127.4 644.5h4v4h-4zM147.4 644.5h4v4h-4zM163.4 644.5h4v4h-4zM175.4 644.5h4v4h-4zM275.4 644.5h4v4h-4zM75.4 648.5h4v4h-4zM143.4 648.5h8v4h-8zM163.4 648.5h8v4h-8zM219.4 648.5h8v4h-8zM359.4 648.5h4v4h-4zM71.4 652.5h12v4h-12zM127.4 652.5h4v4h-4zM247.4 652.5h8v4h-8zM367.4 652.5h4v4h-4zM71.4 656.5h8v4h-8zM119.4 656.5h4v4h-4zM159.4 656.5h4v4h-4zM207.4 656.5h4v4h-4zM223.4 656.5h4v4h-4zM287.4 656.5h4v4h-4zM67.4 660.5h4v4h-4zM75.4 660.5h4v4h-4zM119.4 660.5h4v4h-4zM207.4 660.5h4v4h-4zM271.4 660.5h4v4h-4zM303.4 664.5h4v4h-4z"/>
<path fill="#121212" d="M207.4 348.6h4v4h-4zM215.4 348.6h4v4h-4zM223.4 348.6h4v4h-4zM291.4 348.6h4v4h-4zM315.4 348.6h4v4h-4zM343.4 348.6h4v4h-4zM275.4 352.6h4v4h-4zM291.4 352.6h8v4h-8zM343.4 352.6h4v4h-4zM355.4 352.6h4v4h-4zM67.4 356.6h4v4h-4zM179.4 356.6h4v4h-4zM131.4 360.6h4v4h-4zM211.4 360.6h4v4h-4zM171.4 364.6h8v4h-8zM215.4 364.6h4v4h-4zM223.4 364.6h4v4h-4zM267.4 364.6h4v4h-4zM291.4 364.6h4v4h-4zM359.4 364.6h4v4h-4zM371.4 364.6h4v4h-4zM71.4 368.6h8v4h-8zM175.4 368.6h4v4h-4zM223.4 368.6h4v4h-4zM235.4 368.6h4v4h-4zM263.4 368.6h4v4h-4zM275.4 368.6h4v4h-4zM139.4 372.6h4v4h-4zM159.4 372.6h4v4h-4zM195.4 372.6h4v4h-4zM227.4 372.6h4v4h-4zM263.4 372.6h4v4h-4zM307.4 372.6h4v4h-4zM315.4 372.6h4v4h-4zM67.4 376.6h4v4h-4zM139.4 376.6h4v4h-4zM171.4 376.6h12v4h-12zM255.4 376.6h4v4h-4zM319.4 376.6h4v4h-4zM375.4 376.6h4v4h-4zM115.4 380.6h4v4h-4zM195.4 380.6h4v4h-4zM279.4 380.6h4v4h-4zM331.4 380.6h4v4h-4zM371.4 380.6h8v4h-8zM91.4 384.6h4v4h-4zM159.4 384.6h4v4h-4zM203.4 384.6h8v4h-8zM267.4 384.6h4v4h-4zM291.4 384.6h4v4h-4zM319.4 384.6h12v4h-12zM83.4 388.6h4v4h-4zM159.4 388.6h4v4h-4zM191.4 388.6h4v4h-4zM215.4 388.6h12v4h-12zM319.4 388.6h8v4h-8zM331.4 388.6h4v4h-4zM343.4 388.6h4v4h-4zM75.4 392.6h4v4h-4zM147.4 392.6h4v4h-4zM167.4 392.6h4v4h-4zM187.4 392.6h4v4h-4zM223.4 392.6h4v4h-4zM263.4 392.6h4v4h-4zM271.4 392.6h4v4h-4zM255.4 396.6h4v4h-4zM271.4 396.6h4v4h-4zM291.4 396.6h4v4h-4zM347.4 396.6h8v4h-8zM119.4 400.6h4v4h-4zM147.4 400.6h4v4h-4zM191.4 400.6h4v4h-4zM271.4 400.6h4v4h-4zM291.4 400.6h4v4h-4zM299.4 400.6h4v4h-4zM327.4 400.6h4v4h-4zM371.4 400.6h4v4h-4zM379.4 400.6h4v4h-4zM67.4 404.6h4v4h-4zM79.4 404.6h4v4h-4zM207.4 404.6h4v4h-4zM219.4 404.6h4v4h-4zM247.4 404.6h4v4h-4zM275.4 404.6h4v4h-4zM339.4 404.6h4v4h-4zM143.4 408.6h4v4h-4zM255.4 408.6h4v4h-4zM279.4 408.6h8v4h-8zM315.4 408.6h4v4h-4zM339.4 408.6h4v4h-4zM139.4 412.6h4v4h-4zM155.4 412.6h4v4h-4zM239.4 412.6h8v4h-8zM279.4 412.6h4v4h-4zM287.4 412.6h8v4h-8zM363.4 412.6h4v4h-4zM163.4 416.6h4v4h-4zM171.4 416.6h4v4h-4zM203.4 416.6h8v4h-8zM235.4 416.6h4v4h-4zM283.4 416.6h4v4h-4zM307.4 416.6h4v4h-4zM83.4 420.6h4v4h-4zM155.4 420.6h8v4h-8zM211.4 420.6h4v4h-4zM315.4 420.6h4v4h-4zM135.4 424.6h4v4h-4zM151.4 424.6h4v4h-4zM211.4 424.6h4v4h-4zM227.4 424.6h4v4h-4zM275.4 424.6h4v4h-4zM383.4 424.6h4v4h-4zM87.4 428.6h4v4h-4zM127.4 428.6h4v4h-4zM147.4 428.6h4v4h-4zM195.4 428.6h4v4h-4zM143.4 432.6h4v4h-4zM231.4 432.6h4v4h-4zM263.4 432.6h4v4h-4zM283.4 432.6h4v4h-4zM135.4 436.6h8v4h-8zM215.4 436.6h4v4h-4zM299.4 436.6h4v4h-4zM319.4 436.6h4v4h-4zM379.4 436.6h4v4h-4zM87.4 440.6h4v4h-4zM95.4 440.6h4v4h-4zM119.4 440.6h4v4h-4zM147.4 440.6h4v4h-4zM163.4 440.6h4v4h-4zM191.4 440.6h4v4h-4zM199.4 440.6h4v4h-4zM223.4 440.6h4v4h-4zM267.4 440.6h8v4h-8zM319.4 440.6h4v4h-4zM383.4 440.6h4v4h-4zM175.4 444.6h4v4h-4zM223.4 444.6h4v4h-4zM263.4 444.6h4v4h-4zM335.4 444.6h4v4h-4zM219.4 448.6h4v4h-4zM275.4 448.6h4v4h-4zM295.4 448.6h4v4h-4zM311.4 448.6h4v4h-4zM107.4 452.6h4v4h-4zM167.4 452.6h4v4h-4zM191.4 452.6h4v4h-4zM227.4 452.6h4v4h-4zM307.4 452.6h4v4h-4zM319.4 452.6h4v4h-4zM363.4 452.6h4v4h-4zM379.4 452.6h4v4h-4zM95.4 456.6h4v4h-4zM103.4 456.6h4v4h-4zM175.4 456.6h4v4h-4zM223.4 456.6h4v4h-4zM279.4 456.6h4v4h-4zM123.4 460.6h4v4h-4zM223.4 460.6h4v4h-4zM315.4 460.6h4v4h-4zM375.4 460.6h4v4h-4zM187.4 464.6h4v4h-4zM211.4 464.6h4v4h-4zM331.4 464.6h8v4h-8zM363.4 464.6h8v4h-8zM171.4 468.6h4v4h-4zM215.4 468.6h8v4h-8zM227.4 468.6h4v4h-4zM243.4 468.6h4v4h-4zM307.4 468.6h4v4h-4zM383.4 468.6h4v4h-4zM67.4 472.6h8v4h-8zM79.4 472.6h4v4h-4zM199.4 472.6h4v4h-4zM215.4 472.6h4v4h-4zM311.4 472.6h4v4h-4zM343.4 472.6h4v4h-4zM67.4 476.6h4v4h-4zM99.4 476.6h4v4h-4zM171.4 476.6h4v4h-4zM259.4 476.6h4v4h-4zM315.4 476.6h4v4h-4zM327.4 476.6h4v4h-4zM335.4 476.6h4v4h-4zM351.4 476.6h4v4h-4zM215.4 480.6h4v4h-4zM239.4 480.6h4v4h-4zM247.4 480.6h4v4h-4zM367.4 480.6h4v4h-4zM87.4 484.6h4v4h-4zM203.4 484.6h8v4h-8zM215.4 484.6h4v4h-4zM327.4 484.6h4v4h-4zM71.4 488.6h8v4h-8zM263.4 488.6h4v4h-4zM107.4 492.6h4v4h-4zM139.4 492.6h4v4h-4zM255.4 492.6h4v4h-4zM267.4 492.6h4v4h-4zM119.4 496.6h8v4h-8zM167.4 496.6h4v4h-4zM183.4 496.6h4v4h-4zM203.4 496.6h4v4h-4zM247.4 496.6h4v4h-4zM255.4 496.6h4v4h-4zM319.4 496.6h4v4h-4zM67.4 500.6h4v4h-4zM83.4 500.6h4v4h-4zM163.4 500.6h4v4h-4zM239.4 500.6h4v4h-4zM319.4 500.6h4v4h-4zM99.4 504.6h4v4h-4zM199.4 504.6h4v4h-4zM227.4 504.6h4v4h-4zM275.4 504.6h4v4h-4zM107.4 508.6h4v4h-4zM235.4 508.6h4v4h-4zM247.4 508.6h4v4h-4zM275.4 508.6h4v4h-4zM123.4 512.5h12v4h-12zM123.4 516.5h4v4h-4zM203.4 516.5h4v4h-4zM331.4 516.5h4v4h-4zM383.4 516.5h4v4h-4zM119.4 520.5h4v4h-4zM203.4 520.5h4v4h-4zM271.4 520.5h4v4h-4zM295.4 520.5h4v4h-4zM315.4 520.5h4v4h-4zM343.4 520.5h4v4h-4zM359.4 520.5h4v4h-4zM107.4 524.5h4v4h-4zM271.4 524.5h4v4h-4zM139.4 528.5h4v4h-4zM187.4 528.5h4v4h-4zM211.4 528.5h4v4h-4zM159.4 532.5h4v4h-4zM315.4 532.5h4v4h-4zM175.4 536.5h4v4h-4zM251.4 540.5h4v4h-4zM295.4 540.5h4v4h-4zM139.4 544.5h4v4h-4zM171.4 544.5h4v4h-4zM259.4 544.5h4v4h-4zM275.4 544.5h4v4h-4zM315.4 544.5h4v4h-4zM335.4 544.5h4v4h-4zM103.4 548.5h4v4h-4zM111.4 548.5h4v4h-4zM183.4 548.5h4v4h-4zM231.4 548.5h4v4h-4zM291.4 548.5h4v4h-4zM331.4 548.5h4v4h-4zM339.4 548.5h4v4h-4zM203.4 552.5h4v4h-4zM275.4 552.5h4v4h-4zM367.4 552.5h4v4h-4zM119.4 556.5h4v4h-4zM139.4 556.5h4v4h-4zM183.4 556.5h4v4h-4zM207.4 556.5h4v4h-4zM215.4 556.5h4v4h-4zM331.4 556.5h4v4h-4zM347.4 556.5h4v4h-4zM371.4 556.5h4v4h-4zM111.4 560.5h4v4h-4zM119.4 560.5h4v4h-4zM155.4 560.5h4v4h-4zM183.4 560.5h4v4h-4zM339.4 560.5h4v4h-4zM371.4 560.5h8v4h-8zM91.4 564.5h4v4h-4zM151.4 564.5h4v4h-4zM159.4 564.5h4v4h-4zM171.4 564.5h4v4h-4zM303.4 568.5h4v4h-4zM347.4 568.5h4v4h-4zM75.4 572.5h4v4h-4zM275.4 572.5h4v4h-4zM287.4 572.5h4v4h-4zM119.4 576.5h4v4h-4zM251.4 576.5h4v4h-4zM263.4 576.5h4v4h-4zM79.4 580.5h4v4h-4zM123.4 580.5h4v4h-4zM171.4 580.5h4v4h-4zM219.4 580.5h4v4h-4zM251.4 580.5h4v4h-4zM263.4 580.5h4v4h-4zM319.4 580.5h4v4h-4zM87.4 584.5h4v4h-4zM99.4 584.5h4v4h-4zM107.4 584.5h4v4h-4zM127.4 584.5h4v4h-4zM199.4 584.5h4v4h-4zM239.4 584.5h4v4h-4zM295.4 584.5h4v4h-4zM315.4 584.5h4v4h-4zM87.4 588.5h4v4h-4zM119.4 588.5h4v4h-4zM171.4 588.5h4v4h-4zM215.4 588.5h4v4h-4zM243.4 588.5h4v4h-4zM251.4 588.5h4v4h-4zM283.4 588.5h4v4h-4zM307.4 588.5h4v4h-4zM335.4 588.5h4v4h-4zM359.4 588.5h4v4h-4zM107.4 592.5h4v4h-4zM123.4 592.5h4v4h-4zM171.4 592.5h4v4h-4zM215.4 592.5h8v4h-8zM259.4 592.5h4v4h-4zM279.4 592.5h4v4h-4zM327.4 592.5h4v4h-4zM359.4 592.5h4v4h-4zM91.4 596.5h4v4h-4zM139.4 596.5h4v4h-4zM147.4 596.5h4v4h-4zM175.4 596.5h4v4h-4zM307.4 596.5h4v4h-4zM359.4 596.5h4v4h-4zM371.4 596.5h4v4h-4zM79.4 600.5h4v4h-4zM87.4 600.5h4v4h-4zM103.4 600.5h8v4h-8zM123.4 600.5h4v4h-4zM175.4 600.5h4v4h-4zM267.4 600.5h8v4h-8zM287.4 600.5h4v4h-4zM295.4 600.5h4v4h-4zM339.4 600.5h8v4h-8zM363.4 600.5h8v4h-8zM103.4 604.5h4v4h-4zM123.4 604.5h4v4h-4zM231.4 604.5h8v4h-8zM247.4 604.5h4v4h-4zM267.4 604.5h4v4h-4zM287.4 604.5h4v4h-4zM307.4 604.5h4v4h-4zM83.4 608.5h4v4h-4zM103.4 608.5h4v4h-4zM123.4 608.5h4v4h-4zM163.4 608.5h8v4h-8zM283.4 608.5h4v4h-4zM343.4 608.5h8v4h-8zM363.4 608.5h4v4h-4zM103.4 612.5h4v4h-4zM115.4 612.5h8v4h-8zM243.4 612.5h4v4h-4zM319.4 612.5h8v4h-8zM155.4 616.5h4v4h-4zM327.4 616.5h8v4h-8zM343.4 616.5h4v4h-4zM143.4 620.5h4v4h-4zM151.4 620.5h4v4h-4zM255.4 620.5h4v4h-4zM331.4 620.5h4v4h-4zM363.4 620.5h4v4h-4zM379.4 620.5h4v4h-4zM79.4 624.5h4v4h-4zM131.4 624.5h4v4h-4zM279.4 624.5h4v4h-4zM315.4 624.5h4v4h-4zM355.4 624.5h4v4h-4zM367.4 624.5h4v4h-4zM375.4 624.5h4v4h-4zM79.4 628.5h4v4h-4zM231.4 628.5h4v4h-4zM251.4 628.5h4v4h-4zM275.4 628.5h4v4h-4zM315.4 628.5h4v4h-4zM87.4 632.5h4v4h-4zM139.4 632.5h8v4h-8zM219.4 632.5h4v4h-4zM283.4 632.5h4v4h-4zM291.4 632.5h4v4h-4zM335.4 632.5h4v4h-4zM355.4 632.5h4v4h-4zM371.4 632.5h4v4h-4zM99.4 636.5h4v4h-4zM195.4 636.5h4v4h-4zM207.4 636.5h4v4h-4zM299.4 636.5h4v4h-4zM327.4 636.5h4v4h-4zM343.4 636.5h4v4h-4zM123.4 640.5h4v4h-4zM175.4 640.5h4v4h-4zM295.4 640.5h4v4h-4zM339.4 640.5h4v4h-4zM371.4 640.5h4v4h-4zM83.4 644.5h4v4h-4zM107.4 644.5h4v4h-4zM239.4 644.5h8v4h-8zM255.4 644.5h8v4h-8zM79.4 648.5h4v4h-4zM131.4 648.5h4v4h-4zM175.4 648.5h4v4h-4zM367.4 648.5h4v4h-4zM95.4 652.5h4v4h-4zM167.4 652.5h4v4h-4zM175.4 652.5h4v4h-4zM219.4 652.5h4v4h-4zM235.4 652.5h4v4h-4zM283.4 652.5h4v4h-4zM363.4 652.5h4v4h-4zM371.4 652.5h4v4h-4zM171.4 656.5h4v4h-4zM203.4 656.5h4v4h-4zM219.4 656.5h4v4h-4zM255.4 656.5h4v4h-4zM295.4 656.5h4v4h-4zM331.4 656.5h4v4h-4zM359.4 656.5h4v4h-4zM71.4 660.5h4v4h-4zM159.4 660.5h4v4h-4zM307.4 660.5h4v4h-4zM107.4 664.5h8v4h-8zM127.4 664.5h4v4h-4z"/>
<path fill="#181818" d="M95.4 348.6h4v4h-4zM135.4 348.6h4v4h-4zM231.4 348.6h4v4h-4zM275.4 348.6h4v4h-4zM295.4 348.6h4v4h-4zM335.4 348.6h4v4h-4zM351.4 348.6h4v4h-4zM107.4 352.6h4v4h-4zM171.4 352.6h4v4h-4zM191.4 352.6h4v4h-4zM219.4 352.6h4v4h-4zM231.4 352.6h4v4h-4zM323.4 352.6h4v4h-4zM371.4 352.6h4v4h-4zM167.4 356.6h4v4h-4zM219.4 356.6h4v4h-4zM247.4 356.6h4v4h-4zM271.4 356.6h8v4h-8zM67.4 360.6h4v4h-4zM79.4 360.6h12v4h-12zM107.4 360.6h4v4h-4zM139.4 360.6h4v4h-4zM215.4 360.6h8v4h-8zM239.4 360.6h4v4h-4zM75.4 364.6h4v4h-4zM95.4 364.6h4v4h-4zM107.4 364.6h4v4h-4zM151.4 364.6h4v4h-4zM287.4 364.6h4v4h-4zM303.4 364.6h4v4h-4zM319.4 364.6h4v4h-4zM359.4 368.6h4v4h-4zM175.4 372.6h4v4h-4zM347.4 372.6h4v4h-4zM359.4 372.6h4v4h-4zM379.4 372.6h4v4h-4zM99.4 376.6h4v4h-4zM135.4 376.6h4v4h-4zM143.4 376.6h4v4h-4zM199.4 376.6h4v4h-4zM259.4 376.6h8v4h-8zM307.4 376.6h4v4h-4zM339.4 376.6h4v4h-4zM347.4 376.6h4v4h-4zM71.4 380.6h4v4h-4zM227.4 380.6h4v4h-4zM255.4 380.6h8v4h-8zM307.4 380.6h4v4h-4zM363.4 380.6h4v4h-4zM143.4 384.6h4v4h-4zM263.4 384.6h4v4h-4zM75.4 388.6h8v4h-8zM143.4 388.6h4v4h-4zM195.4 388.6h4v4h-4zM275.4 388.6h4v4h-4zM295.4 388.6h4v4h-4zM311.4 388.6h4v4h-4zM327.4 388.6h4v4h-4zM107.4 392.6h4v4h-4zM183.4 392.6h4v4h-4zM259.4 392.6h4v4h-4zM335.4 392.6h4v4h-4zM139.4 396.6h8v4h-8zM171.4 396.6h4v4h-4zM179.4 396.6h4v4h-4zM191.4 396.6h8v4h-8zM203.4 396.6h4v4h-4zM231.4 396.6h4v4h-4zM319.4 396.6h4v4h-4zM331.4 396.6h4v4h-4zM355.4 396.6h4v4h-4zM367.4 396.6h4v4h-4zM87.4 400.6h4v4h-4zM171.4 400.6h4v4h-4zM219.4 400.6h4v4h-4zM231.4 400.6h4v4h-4zM335.4 400.6h4v4h-4zM355.4 400.6h4v4h-4zM103.4 404.6h4v4h-4zM115.4 404.6h4v4h-4zM151.4 404.6h4v4h-4zM211.4 404.6h4v4h-4zM251.4 404.6h4v4h-4zM259.4 404.6h8v4h-8zM283.4 404.6h4v4h-4zM295.4 404.6h4v4h-4zM315.4 404.6h4v4h-4zM379.4 404.6h4v4h-4zM67.4 408.6h4v4h-4zM75.4 408.6h4v4h-4zM115.4 408.6h4v4h-4zM139.4 408.6h4v4h-4zM243.4 408.6h4v4h-4zM275.4 408.6h4v4h-4zM295.4 408.6h4v4h-4zM327.4 408.6h4v4h-4zM367.4 408.6h4v4h-4zM83.4 412.6h4v4h-4zM123.4 412.6h4v4h-4zM179.4 412.6h8v4h-8zM67.4 416.6h4v4h-4zM131.4 416.6h4v4h-4zM175.4 416.6h8v4h-8zM327.4 416.6h4v4h-4zM203.4 420.6h4v4h-4zM227.4 420.6h4v4h-4zM283.4 420.6h4v4h-4zM347.4 420.6h4v4h-4zM127.4 424.6h8v4h-8zM207.4 424.6h4v4h-4zM219.4 424.6h4v4h-4zM279.4 424.6h4v4h-4zM319.4 424.6h4v4h-4zM343.4 424.6h4v4h-4zM227.4 428.6h4v4h-4zM275.4 428.6h4v4h-4zM319.4 428.6h4v4h-4zM379.4 428.6h8v4h-8zM203.4 432.6h4v4h-4zM319.4 432.6h4v4h-4zM331.4 432.6h4v4h-4zM367.4 432.6h4v4h-4zM67.4 436.6h4v4h-4zM91.4 436.6h4v4h-4zM147.4 436.6h4v4h-4zM175.4 436.6h8v4h-8zM219.4 436.6h8v4h-8zM91.4 440.6h4v4h-4zM115.4 440.6h4v4h-4zM231.4 440.6h4v4h-4zM255.4 440.6h8v4h-8zM291.4 440.6h4v4h-4zM351.4 440.6h4v4h-4zM67.4 444.6h4v4h-4zM103.4 444.6h4v4h-4zM163.4 444.6h8v4h-8zM187.4 444.6h4v4h-4zM215.4 444.6h4v4h-4zM235.4 444.6h4v4h-4zM259.4 444.6h4v4h-4zM279.4 444.6h4v4h-4zM351.4 444.6h4v4h-4zM83.4 448.6h4v4h-4zM103.4 448.6h4v4h-4zM115.4 448.6h4v4h-4zM159.4 448.6h8v4h-8zM223.4 448.6h4v4h-4zM243.4 448.6h4v4h-4zM259.4 448.6h8v4h-8zM339.4 448.6h8v4h-8zM383.4 448.6h4v4h-4zM83.4 452.6h4v4h-4zM95.4 452.6h4v4h-4zM115.4 452.6h4v4h-4zM175.4 452.6h4v4h-4zM259.4 452.6h4v4h-4zM275.4 452.6h4v4h-4zM311.4 452.6h4v4h-4zM343.4 452.6h4v4h-4zM351.4 452.6h4v4h-4zM359.4 452.6h4v4h-4zM91.4 456.6h4v4h-4zM115.4 456.6h4v4h-4zM243.4 456.6h4v4h-4zM259.4 456.6h4v4h-4zM311.4 456.6h8v4h-8zM343.4 456.6h4v4h-4zM379.4 456.6h4v4h-4zM179.4 460.6h4v4h-4zM243.4 460.6h4v4h-4zM255.4 460.6h4v4h-4zM275.4 460.6h4v4h-4zM247.4 464.6h4v4h-4zM279.4 464.6h8v4h-8zM311.4 464.6h4v4h-4zM375.4 464.6h4v4h-4zM143.4 468.6h4v4h-4zM191.4 468.6h4v4h-4zM223.4 468.6h4v4h-4zM283.4 468.6h8v4h-8zM311.4 468.6h4v4h-4zM107.4 472.6h4v4h-4zM151.4 472.6h4v4h-4zM219.4 472.6h4v4h-4zM231.4 472.6h4v4h-4zM243.4 472.6h4v4h-4zM255.4 472.6h4v4h-4zM303.4 472.6h4v4h-4zM215.4 476.6h4v4h-4zM291.4 476.6h4v4h-4zM331.4 476.6h4v4h-4zM355.4 476.6h4v4h-4zM67.4 480.6h4v4h-4zM187.4 480.6h4v4h-4zM295.4 480.6h4v4h-4zM331.4 480.6h4v4h-4zM183.4 484.6h4v4h-4zM199.4 484.6h4v4h-4zM279.4 484.6h4v4h-4zM291.4 484.6h8v4h-8zM135.4 488.6h4v4h-4zM203.4 488.6h4v4h-4zM371.4 488.6h4v4h-4zM75.4 492.6h4v4h-4zM155.4 492.6h4v4h-4zM203.4 492.6h4v4h-4zM215.4 492.6h4v4h-4zM251.4 492.6h4v4h-4zM271.4 492.6h8v4h-8zM359.4 492.6h4v4h-4zM367.4 492.6h4v4h-4zM107.4 496.6h4v4h-4zM131.4 496.6h4v4h-4zM147.4 496.6h4v4h-4zM163.4 496.6h4v4h-4zM219.4 496.6h4v4h-4zM231.4 496.6h4v4h-4zM383.4 496.6h4v4h-4zM87.4 500.6h4v4h-4zM95.4 500.6h4v4h-4zM107.4 500.6h4v4h-4zM159.4 500.6h4v4h-4zM187.4 500.6h8v4h-8zM243.4 500.6h4v4h-4zM383.4 500.6h4v4h-4zM95.4 504.6h4v4h-4zM103.4 504.6h4v4h-4zM115.4 504.6h8v4h-8zM127.4 504.6h4v4h-4zM147.4 504.6h4v4h-4zM171.4 504.6h4v4h-4zM195.4 504.6h4v4h-4zM211.4 504.6h4v4h-4zM223.4 504.6h4v4h-4zM231.4 504.6h4v4h-4zM263.4 504.6h4v4h-4zM271.4 504.6h4v4h-4zM279.4 504.6h4v4h-4zM95.4 508.6h4v4h-4zM151.4 508.6h4v4h-4zM179.4 508.6h4v4h-4zM307.4 508.6h4v4h-4zM323.4 508.6h4v4h-4zM331.4 508.6h4v4h-4zM339.4 508.6h4v4h-4zM79.4 512.5h4v4h-4zM99.4 512.5h4v4h-4zM151.4 512.5h4v4h-4zM235.4 512.5h4v4h-4zM243.4 512.5h4v4h-4zM263.4 512.5h4v4h-4zM79.4 516.5h4v4h-4zM87.4 516.5h4v4h-4zM159.4 516.5h4v4h-4zM235.4 516.5h8v4h-8zM299.4 516.5h4v4h-4zM355.4 516.5h4v4h-4zM79.4 520.5h4v4h-4zM87.4 520.5h12v4h-12zM115.4 520.5h4v4h-4zM131.4 520.5h4v4h-4zM187.4 520.5h4v4h-4zM235.4 520.5h8v4h-8zM327.4 520.5h4v4h-4zM371.4 520.5h4v4h-4zM79.4 524.5h4v4h-4zM99.4 524.5h4v4h-4zM119.4 524.5h4v4h-4zM199.4 524.5h4v4h-4zM91.4 528.5h4v4h-4zM99.4 528.5h4v4h-4zM123.4 528.5h4v4h-4zM135.4 528.5h4v4h-4zM163.4 528.5h4v4h-4zM215.4 528.5h4v4h-4zM315.4 528.5h4v4h-4zM347.4 528.5h4v4h-4zM75.4 532.5h4v4h-4zM83.4 532.5h8v4h-8zM107.4 532.5h4v4h-4zM123.4 532.5h8v4h-8zM147.4 532.5h4v4h-4zM227.4 532.5h4v4h-4zM251.4 532.5h4v4h-4zM279.4 532.5h4v4h-4zM323.4 532.5h4v4h-4zM91.4 536.5h4v4h-4zM131.4 536.5h4v4h-4zM139.4 536.5h4v4h-4zM183.4 536.5h4v4h-4zM235.4 536.5h4v4h-4zM255.4 536.5h4v4h-4zM283.4 536.5h8v4h-8zM319.4 536.5h8v4h-8zM335.4 536.5h4v4h-4zM75.4 540.5h4v4h-4zM135.4 540.5h4v4h-4zM275.4 540.5h4v4h-4zM299.4 540.5h8v4h-8zM335.4 540.5h4v4h-4zM75.4 544.5h4v4h-4zM151.4 544.5h4v4h-4zM175.4 544.5h4v4h-4zM211.4 544.5h4v4h-4zM251.4 544.5h4v4h-4zM375.4 544.5h4v4h-4zM91.4 548.5h4v4h-4zM175.4 548.5h4v4h-4zM215.4 548.5h4v4h-4zM227.4 548.5h4v4h-4zM267.4 548.5h4v4h-4zM95.4 552.5h4v4h-4zM179.4 552.5h12v4h-12zM207.4 552.5h8v4h-8zM267.4 552.5h4v4h-4zM363.4 552.5h4v4h-4zM135.4 556.5h4v4h-4zM147.4 556.5h4v4h-4zM367.4 556.5h4v4h-4zM379.4 556.5h4v4h-4zM75.4 560.5h4v4h-4zM159.4 560.5h8v4h-8zM219.4 560.5h4v4h-4zM279.4 560.5h4v4h-4zM147.4 564.5h4v4h-4zM155.4 564.5h4v4h-4zM195.4 564.5h4v4h-4zM259.4 564.5h4v4h-4zM383.4 564.5h4v4h-4zM143.4 568.5h4v4h-4zM167.4 568.5h4v4h-4zM179.4 568.5h4v4h-4zM251.4 568.5h4v4h-4zM279.4 568.5h4v4h-4zM363.4 568.5h4v4h-4zM371.4 568.5h4v4h-4zM79.4 572.5h4v4h-4zM111.4 572.5h4v4h-4zM155.4 572.5h4v4h-4zM179.4 572.5h4v4h-4zM203.4 572.5h4v4h-4zM219.4 572.5h4v4h-4zM255.4 572.5h4v4h-4zM303.4 572.5h4v4h-4zM331.4 572.5h4v4h-4zM107.4 576.5h4v4h-4zM175.4 576.5h4v4h-4zM215.4 576.5h4v4h-4zM279.4 576.5h4v4h-4zM287.4 576.5h4v4h-4zM335.4 576.5h4v4h-4zM147.4 580.5h4v4h-4zM139.4 584.5h4v4h-4zM167.4 584.5h4v4h-4zM227.4 584.5h4v4h-4zM259.4 584.5h4v4h-4zM287.4 584.5h4v4h-4zM371.4 584.5h4v4h-4zM67.4 588.5h4v4h-4zM91.4 588.5h4v4h-4zM139.4 588.5h4v4h-4zM255.4 588.5h4v4h-4zM299.4 588.5h4v4h-4zM339.4 588.5h4v4h-4zM99.4 592.5h4v4h-4zM115.4 592.5h4v4h-4zM175.4 592.5h4v4h-4zM235.4 592.5h4v4h-4zM255.4 592.5h4v4h-4zM263.4 592.5h4v4h-4zM331.4 592.5h4v4h-4zM355.4 592.5h4v4h-4zM79.4 596.5h4v4h-4zM103.4 596.5h4v4h-4zM163.4 596.5h4v4h-4zM299.4 596.5h4v4h-4zM351.4 596.5h4v4h-4zM363.4 596.5h8v4h-8zM91.4 600.5h4v4h-4zM119.4 600.5h4v4h-4zM163.4 600.5h4v4h-4zM203.4 600.5h4v4h-4zM247.4 600.5h4v4h-4zM331.4 600.5h4v4h-4zM371.4 600.5h4v4h-4zM87.4 604.5h4v4h-4zM111.4 604.5h4v4h-4zM139.4 604.5h4v4h-4zM155.4 604.5h4v4h-4zM243.4 604.5h4v4h-4zM251.4 604.5h4v4h-4zM291.4 604.5h4v4h-4zM67.4 608.5h4v4h-4zM99.4 608.5h4v4h-4zM159.4 608.5h4v4h-4zM191.4 608.5h4v4h-4zM203.4 608.5h4v4h-4zM255.4 608.5h4v4h-4zM279.4 608.5h4v4h-4zM355.4 608.5h4v4h-4zM375.4 608.5h8v4h-8zM87.4 612.5h4v4h-4zM159.4 612.5h4v4h-4zM187.4 612.5h4v4h-4zM347.4 612.5h4v4h-4zM111.4 616.5h8v4h-8zM255.4 616.5h4v4h-4zM87.4 620.5h4v4h-4zM95.4 620.5h4v4h-4zM103.4 620.5h4v4h-4zM123.4 620.5h4v4h-4zM135.4 620.5h8v4h-8zM203.4 620.5h4v4h-4zM239.4 620.5h4v4h-4zM267.4 620.5h4v4h-4zM303.4 620.5h4v4h-4zM343.4 620.5h4v4h-4zM103.4 624.5h8v4h-8zM135.4 624.5h4v4h-4zM307.4 624.5h4v4h-4zM331.4 624.5h4v4h-4zM91.4 628.5h4v4h-4zM103.4 628.5h4v4h-4zM131.4 628.5h8v4h-8zM203.4 628.5h8v4h-8zM263.4 628.5h4v4h-4zM291.4 628.5h4v4h-4zM351.4 628.5h4v4h-4zM75.4 632.5h4v4h-4zM127.4 632.5h4v4h-4zM163.4 632.5h4v4h-4zM275.4 632.5h4v4h-4zM287.4 632.5h4v4h-4zM375.4 632.5h4v4h-4zM87.4 636.5h4v4h-4zM159.4 636.5h4v4h-4zM179.4 636.5h8v4h-8zM235.4 636.5h4v4h-4zM251.4 636.5h4v4h-4zM259.4 636.5h4v4h-4zM279.4 636.5h4v4h-4zM375.4 636.5h4v4h-4zM79.4 640.5h4v4h-4zM87.4 640.5h4v4h-4zM127.4 640.5h4v4h-4zM279.4 640.5h4v4h-4zM291.4 640.5h4v4h-4zM299.4 640.5h4v4h-4zM347.4 640.5h4v4h-4zM79.4 644.5h4v4h-4zM87.4 644.5h4v4h-4zM103.4 644.5h4v4h-4zM143.4 644.5h4v4h-4zM151.4 644.5h4v4h-4zM167.4 644.5h4v4h-4zM279.4 644.5h4v4h-4zM291.4 644.5h4v4h-4zM351.4 644.5h8v4h-8zM91.4 648.5h4v4h-4zM115.4 648.5h4v4h-4zM171.4 648.5h4v4h-4zM371.4 648.5h4v4h-4zM383.4 648.5h4v4h-4zM131.4 652.5h4v4h-4zM159.4 652.5h8v4h-8zM223.4 652.5h4v4h-4zM267.4 652.5h4v4h-4zM339.4 652.5h4v4h-4zM79.4 656.5h4v4h-4zM99.4 656.5h4v4h-4zM135.4 656.5h4v4h-4zM183.4 656.5h4v4h-4zM227.4 656.5h4v4h-4zM355.4 656.5h4v4h-4zM363.4 656.5h8v4h-8zM131.4 660.5h4v4h-4zM203.4 660.5h4v4h-4zM299.4 660.5h4v4h-4zM371.4 660.5h4v4h-4zM67.4 664.5h4v4h-4zM79.4 664.5h4v4h-4zM115.4 664.5h8v4h-8zM247.4 664.5h4v4h-4zM263.4 664.5h4v4h-4zM287.4 664.5h4v4h-4zM299.4 664.5h4v4h-4zM311.4 664.5h4v4h-4z"/>
<path fill="#1e1e1e" d="M131.4 348.6h4v4h-4zM187.4 348.6h4v4h-4zM219.4 348.6h4v4h-4zM263.4 348.6h8v4h-8zM383.4 348.6h4v4h-4zM131.4 352.6h4v4h-4zM183.4 352.6h4v4h-4zM199.4 352.6h4v4h-4zM251.4 352.6h4v4h-4zM319.4 352.6h4v4h-4zM123.4 356.6h8v4h-8zM175.4 356.6h4v4h-4zM231.4 356.6h4v4h-4zM279.4 356.6h4v4h-4zM339.4 356.6h4v4h-4zM71.4 360.6h4v4h-4zM127.4 360.6h4v4h-4zM163.4 360.6h4v4h-4zM171.4 360.6h4v4h-4zM179.4 360.6h4v4h-4zM199.4 360.6h4v4h-4zM275.4 360.6h4v4h-4zM291.4 360.6h4v4h-4zM299.4 360.6h4v4h-4zM371.4 360.6h4v4h-4zM67.4 364.6h8v4h-8zM219.4 364.6h4v4h-4zM251.4 364.6h4v4h-4zM263.4 364.6h4v4h-4zM271.4 364.6h4v4h-4zM339.4 364.6h4v4h-4zM95.4 368.6h24v4h-24zM183.4 368.6h4v4h-4zM271.4 368.6h4v4h-4zM315.4 368.6h4v4h-4zM95.4 372.6h4v4h-4zM107.4 372.6h8v4h-8zM143.4 372.6h4v4h-4zM167.4 372.6h4v4h-4zM187.4 372.6h4v4h-4zM239.4 372.6h4v4h-4zM259.4 372.6h4v4h-4zM275.4 372.6h4v4h-4zM319.4 372.6h8v4h-8zM335.4 372.6h8v4h-8zM107.4 376.6h4v4h-4zM115.4 376.6h4v4h-4zM159.4 376.6h12v4h-12zM195.4 376.6h4v4h-4zM227.4 376.6h4v4h-4zM355.4 376.6h4v4h-4zM99.4 380.6h8v4h-8zM119.4 380.6h4v4h-4zM191.4 380.6h4v4h-4zM243.4 380.6h12v4h-12zM263.4 380.6h4v4h-4zM291.4 380.6h4v4h-4zM347.4 380.6h4v4h-4zM355.4 380.6h4v4h-4zM379.4 380.6h4v4h-4zM255.4 384.6h4v4h-4zM295.4 384.6h4v4h-4zM343.4 384.6h4v4h-4zM359.4 384.6h4v4h-4zM199.4 388.6h8v4h-8zM247.4 388.6h4v4h-4zM263.4 388.6h4v4h-4zM283.4 388.6h4v4h-4zM291.4 388.6h4v4h-4zM335.4 388.6h8v4h-8zM83.4 392.6h4v4h-4zM119.4 392.6h4v4h-4zM163.4 392.6h4v4h-4zM191.4 392.6h4v4h-4zM219.4 392.6h4v4h-4zM275.4 392.6h4v4h-4zM291.4 392.6h4v4h-4zM299.4 392.6h4v4h-4zM315.4 392.6h4v4h-4zM347.4 392.6h4v4h-4zM175.4 396.6h4v4h-4zM187.4 396.6h4v4h-4zM95.4 400.6h4v4h-4zM107.4 400.6h4v4h-4zM151.4 400.6h4v4h-4zM179.4 400.6h4v4h-4zM199.4 400.6h4v4h-4zM251.4 400.6h4v4h-4zM311.4 400.6h4v4h-4zM343.4 400.6h4v4h-4zM367.4 400.6h4v4h-4zM83.4 404.6h4v4h-4zM99.4 404.6h4v4h-4zM135.4 404.6h4v4h-4zM143.4 404.6h4v4h-4zM171.4 404.6h4v4h-4zM203.4 404.6h4v4h-4zM299.4 404.6h4v4h-4zM327.4 404.6h4v4h-4zM359.4 404.6h4v4h-4zM155.4 408.6h4v4h-4zM287.4 408.6h8v4h-8zM299.4 408.6h4v4h-4zM379.4 408.6h4v4h-4zM91.4 412.6h4v4h-4zM119.4 412.6h4v4h-4zM135.4 412.6h4v4h-4zM151.4 412.6h4v4h-4zM303.4 412.6h4v4h-4zM343.4 412.6h4v4h-4zM87.4 416.6h4v4h-4zM139.4 416.6h4v4h-4zM167.4 416.6h4v4h-4zM183.4 416.6h4v4h-4zM199.4 416.6h4v4h-4zM343.4 416.6h4v4h-4zM375.4 416.6h4v4h-4zM67.4 420.6h4v4h-4zM135.4 420.6h4v4h-4zM267.4 420.6h4v4h-4zM319.4 420.6h4v4h-4zM343.4 420.6h4v4h-4zM379.4 420.6h4v4h-4zM83.4 424.6h4v4h-4zM159.4 424.6h4v4h-4zM239.4 424.6h4v4h-4zM283.4 424.6h8v4h-8zM371.4 424.6h4v4h-4zM119.4 428.6h4v4h-4zM215.4 428.6h4v4h-4zM251.4 428.6h4v4h-4zM67.4 432.6h4v4h-4zM83.4 432.6h4v4h-4zM115.4 432.6h4v4h-4zM251.4 432.6h4v4h-4zM275.4 432.6h4v4h-4zM171.4 436.6h4v4h-4zM355.4 436.6h4v4h-4zM139.4 440.6h4v4h-4zM219.4 440.6h4v4h-4zM327.4 440.6h4v4h-4zM111.4 444.6h8v4h-8zM147.4 444.6h4v4h-4zM155.4 444.6h4v4h-4zM203.4 444.6h4v4h-4zM355.4 444.6h8v4h-8zM67.4 448.6h16v4h-16zM155.4 448.6h4v4h-4zM363.4 448.6h4v4h-4zM91.4 452.6h4v4h-4zM119.4 452.6h4v4h-4zM131.4 452.6h4v4h-4zM223.4 452.6h4v4h-4zM235.4 452.6h4v4h-4zM243.4 452.6h4v4h-4zM263.4 452.6h4v4h-4zM303.4 452.6h4v4h-4zM315.4 452.6h4v4h-4zM347.4 452.6h4v4h-4zM99.4 456.6h4v4h-4zM135.4 456.6h4v4h-4zM187.4 456.6h4v4h-4zM303.4 456.6h4v4h-4zM367.4 456.6h12v4h-12zM67.4 460.6h4v4h-4zM79.4 460.6h4v4h-4zM95.4 460.6h4v4h-4zM131.4 460.6h4v4h-4zM167.4 460.6h4v4h-4zM187.4 460.6h4v4h-4zM207.4 460.6h8v4h-8zM299.4 460.6h4v4h-4zM355.4 460.6h4v4h-4zM379.4 460.6h8v4h-8zM87.4 464.6h4v4h-4zM143.4 464.6h4v4h-4zM167.4 464.6h4v4h-4zM175.4 464.6h4v4h-4zM251.4 464.6h4v4h-4zM275.4 464.6h4v4h-4zM303.4 464.6h4v4h-4zM67.4 468.6h8v4h-8zM147.4 468.6h4v4h-4zM187.4 468.6h4v4h-4zM247.4 468.6h4v4h-4zM379.4 468.6h4v4h-4zM103.4 472.6h4v4h-4zM223.4 472.6h8v4h-8zM239.4 472.6h4v4h-4zM259.4 472.6h4v4h-4zM287.4 472.6h4v4h-4zM315.4 472.6h4v4h-4zM91.4 476.6h4v4h-4zM159.4 476.6h4v4h-4zM179.4 476.6h4v4h-4zM203.4 476.6h4v4h-4zM247.4 476.6h4v4h-4zM255.4 476.6h4v4h-4zM263.4 476.6h4v4h-4zM295.4 476.6h4v4h-4zM339.4 476.6h4v4h-4zM143.4 480.6h4v4h-4zM155.4 480.6h4v4h-4zM163.4 480.6h4v4h-4zM283.4 480.6h4v4h-4zM315.4 480.6h4v4h-4zM347.4 480.6h4v4h-4zM363.4 480.6h4v4h-4zM383.4 480.6h4v4h-4zM139.4 484.6h4v4h-4zM163.4 484.6h4v4h-4zM175.4 484.6h4v4h-4zM267.4 484.6h4v4h-4zM311.4 484.6h4v4h-4zM331.4 484.6h4v4h-4zM371.4 484.6h4v4h-4zM95.4 488.6h4v4h-4zM147.4 488.6h4v4h-4zM183.4 488.6h4v4h-4zM219.4 488.6h4v4h-4zM255.4 488.6h4v4h-4zM359.4 488.6h4v4h-4zM111.4 492.6h4v4h-4zM135.4 492.6h4v4h-4zM151.4 492.6h4v4h-4zM183.4 492.6h4v4h-4zM207.4 492.6h8v4h-8zM259.4 492.6h8v4h-8zM79.4 496.6h4v4h-4zM87.4 496.6h4v4h-4zM95.4 496.6h4v4h-4zM143.4 496.6h4v4h-4zM159.4 496.6h4v4h-4zM223.4 496.6h8v4h-8zM323.4 496.6h8v4h-8zM343.4 496.6h4v4h-4zM367.4 496.6h4v4h-4zM123.4 500.6h8v4h-8zM171.4 500.6h4v4h-4zM271.4 500.6h4v4h-4zM295.4 500.6h4v4h-4zM311.4 500.6h4v4h-4zM83.4 504.6h12v4h-12zM107.4 504.6h8v4h-8zM123.4 504.6h4v4h-4zM151.4 504.6h8v4h-8zM163.4 504.6h4v4h-4zM287.4 504.6h4v4h-4zM295.4 504.6h4v4h-4zM311.4 504.6h4v4h-4zM339.4 504.6h4v4h-4zM351.4 504.6h4v4h-4zM195.4 508.6h4v4h-4zM263.4 508.6h4v4h-4zM351.4 508.6h4v4h-4zM363.4 508.6h4v4h-4zM143.4 512.5h4v4h-4zM175.4 512.5h4v4h-4zM183.4 512.5h4v4h-4zM191.4 512.5h4v4h-4zM211.4 512.5h4v4h-4zM255.4 512.5h4v4h-4zM275.4 512.5h4v4h-4zM315.4 512.5h4v4h-4zM331.4 512.5h4v4h-4zM367.4 512.5h4v4h-4zM71.4 516.5h4v4h-4zM131.4 516.5h4v4h-4zM147.4 516.5h4v4h-4zM155.4 516.5h4v4h-4zM167.4 516.5h4v4h-4zM231.4 516.5h4v4h-4zM263.4 516.5h4v4h-4zM311.4 516.5h4v4h-4zM319.4 516.5h4v4h-4zM335.4 516.5h4v4h-4zM67.4 520.5h4v4h-4zM199.4 520.5h4v4h-4zM207.4 520.5h4v4h-4zM303.4 520.5h4v4h-4zM311.4 520.5h4v4h-4zM331.4 520.5h4v4h-4zM91.4 524.5h4v4h-4zM127.4 524.5h4v4h-4zM155.4 524.5h4v4h-4zM187.4 524.5h4v4h-4zM231.4 524.5h4v4h-4zM315.4 524.5h8v4h-8zM335.4 524.5h8v4h-8zM355.4 524.5h4v4h-4zM371.4 524.5h4v4h-4zM83.4 528.5h4v4h-4zM107.4 528.5h4v4h-4zM119.4 528.5h4v4h-4zM127.4 528.5h8v4h-8zM143.4 528.5h4v4h-4zM299.4 528.5h4v4h-4zM323.4 528.5h4v4h-4zM167.4 532.5h4v4h-4zM255.4 532.5h8v4h-8zM371.4 532.5h4v4h-4zM75.4 536.5h8v4h-8zM95.4 536.5h4v4h-4zM135.4 536.5h4v4h-4zM143.4 536.5h4v4h-4zM159.4 536.5h4v4h-4zM211.4 536.5h4v4h-4zM279.4 536.5h4v4h-4zM363.4 536.5h4v4h-4zM371.4 536.5h8v4h-8zM111.4 540.5h4v4h-4zM195.4 540.5h4v4h-4zM203.4 540.5h8v4h-8zM235.4 540.5h4v4h-4zM243.4 540.5h4v4h-4zM255.4 540.5h4v4h-4zM291.4 540.5h4v4h-4zM339.4 540.5h4v4h-4zM375.4 540.5h4v4h-4zM111.4 544.5h4v4h-4zM155.4 544.5h4v4h-4zM187.4 544.5h4v4h-4zM291.4 544.5h8v4h-8zM343.4 544.5h4v4h-4zM115.4 548.5h4v4h-4zM123.4 548.5h4v4h-4zM155.4 548.5h4v4h-4zM235.4 548.5h4v4h-4zM127.4 552.5h4v4h-4zM159.4 552.5h4v4h-4zM195.4 552.5h4v4h-4zM215.4 552.5h4v4h-4zM303.4 552.5h4v4h-4zM323.4 552.5h4v4h-4zM95.4 556.5h4v4h-4zM195.4 556.5h4v4h-4zM211.4 556.5h4v4h-4zM279.4 556.5h4v4h-4zM327.4 556.5h4v4h-4zM339.4 556.5h8v4h-8zM351.4 556.5h8v4h-8zM383.4 556.5h4v4h-4zM107.4 560.5h4v4h-4zM151.4 560.5h4v4h-4zM203.4 560.5h4v4h-4zM231.4 560.5h4v4h-4zM291.4 560.5h4v4h-4zM327.4 560.5h4v4h-4zM351.4 560.5h4v4h-4zM103.4 564.5h4v4h-4zM199.4 564.5h4v4h-4zM291.4 564.5h4v4h-4zM315.4 564.5h4v4h-4zM71.4 568.5h4v4h-4zM123.4 568.5h4v4h-4zM203.4 568.5h4v4h-4zM235.4 568.5h4v4h-4zM243.4 568.5h4v4h-4zM287.4 568.5h4v4h-4zM315.4 568.5h4v4h-4zM331.4 568.5h4v4h-4zM379.4 568.5h4v4h-4zM83.4 572.5h8v4h-8zM159.4 572.5h4v4h-4zM207.4 572.5h4v4h-4zM231.4 572.5h4v4h-4zM243.4 572.5h4v4h-4zM259.4 572.5h4v4h-4zM323.4 572.5h4v4h-4zM343.4 572.5h4v4h-4zM99.4 576.5h4v4h-4zM139.4 576.5h12v4h-12zM163.4 576.5h8v4h-8zM203.4 576.5h4v4h-4zM219.4 576.5h4v4h-4zM327.4 576.5h8v4h-8zM339.4 576.5h8v4h-8zM367.4 576.5h4v4h-4zM75.4 580.5h4v4h-4zM91.4 580.5h4v4h-4zM107.4 580.5h4v4h-4zM191.4 580.5h4v4h-4zM215.4 580.5h4v4h-4zM223.4 580.5h4v4h-4zM267.4 580.5h4v4h-4zM283.4 580.5h4v4h-4zM323.4 580.5h4v4h-4zM331.4 580.5h8v4h-8zM75.4 584.5h4v4h-4zM163.4 584.5h4v4h-4zM171.4 584.5h4v4h-4zM211.4 584.5h4v4h-4zM219.4 584.5h4v4h-4zM231.4 584.5h4v4h-4zM263.4 584.5h4v4h-4zM335.4 584.5h4v4h-4zM71.4 588.5h4v4h-4zM167.4 588.5h4v4h-4zM259.4 588.5h4v4h-4zM303.4 588.5h4v4h-4zM91.4 592.5h4v4h-4zM119.4 592.5h4v4h-4zM319.4 592.5h4v4h-4zM351.4 592.5h4v4h-4zM95.4 596.5h4v4h-4zM115.4 596.5h4v4h-4zM199.4 596.5h4v4h-4zM259.4 596.5h8v4h-8zM331.4 596.5h4v4h-4zM139.4 600.5h8v4h-8zM167.4 600.5h4v4h-4zM207.4 600.5h4v4h-4zM215.4 600.5h4v4h-4zM231.4 600.5h4v4h-4zM351.4 600.5h4v4h-4zM163.4 604.5h8v4h-8zM203.4 604.5h4v4h-4zM239.4 604.5h4v4h-4zM271.4 604.5h4v4h-4zM351.4 604.5h4v4h-4zM371.4 604.5h4v4h-4zM87.4 608.5h4v4h-4zM95.4 608.5h4v4h-4zM119.4 608.5h4v4h-4zM267.4 608.5h4v4h-4zM335.4 608.5h4v4h-4zM83.4 612.5h4v4h-4zM107.4 612.5h8v4h-8zM123.4 612.5h4v4h-4zM211.4 612.5h4v4h-4zM359.4 612.5h8v4h-8zM379.4 612.5h4v4h-4zM143.4 616.5h4v4h-4zM171.4 616.5h4v4h-4zM79.4 620.5h8v4h-8zM91.4 620.5h4v4h-4zM227.4 620.5h4v4h-4zM243.4 620.5h4v4h-4zM263.4 620.5h4v4h-4zM311.4 620.5h4v4h-4zM327.4 620.5h4v4h-4zM335.4 620.5h8v4h-8zM355.4 620.5h8v4h-8zM375.4 620.5h4v4h-4zM99.4 624.5h4v4h-4zM111.4 624.5h4v4h-4zM175.4 624.5h4v4h-4zM199.4 624.5h4v4h-4zM211.4 624.5h4v4h-4zM267.4 624.5h4v4h-4zM283.4 624.5h4v4h-4zM303.4 624.5h4v4h-4zM347.4 624.5h4v4h-4zM107.4 628.5h4v4h-4zM151.4 628.5h4v4h-4zM371.4 628.5h4v4h-4zM79.4 632.5h4v4h-4zM99.4 632.5h4v4h-4zM123.4 632.5h4v4h-4zM187.4 632.5h4v4h-4zM227.4 632.5h4v4h-4zM251.4 632.5h4v4h-4zM295.4 632.5h4v4h-4zM315.4 632.5h4v4h-4zM75.4 636.5h4v4h-4zM143.4 636.5h4v4h-4zM155.4 636.5h4v4h-4zM247.4 636.5h4v4h-4zM275.4 636.5h4v4h-4zM323.4 636.5h4v4h-4zM339.4 636.5h4v4h-4zM347.4 636.5h4v4h-4zM379.4 636.5h4v4h-4zM231.4 640.5h4v4h-4zM275.4 640.5h4v4h-4zM323.4 640.5h4v4h-4zM71.4 644.5h4v4h-4zM135.4 644.5h8v4h-8zM171.4 644.5h4v4h-4zM195.4 644.5h4v4h-4zM295.4 644.5h4v4h-4zM315.4 644.5h4v4h-4zM327.4 644.5h4v4h-4zM87.4 648.5h4v4h-4zM315.4 648.5h4v4h-4zM363.4 648.5h4v4h-4zM91.4 652.5h4v4h-4zM99.4 652.5h4v4h-4zM115.4 652.5h4v4h-4zM143.4 652.5h16v4h-16zM103.4 656.5h4v4h-4zM151.4 656.5h4v4h-4zM167.4 656.5h4v4h-4zM267.4 656.5h4v4h-4zM307.4 656.5h4v4h-4zM347.4 656.5h8v4h-8zM371.4 656.5h4v4h-4zM115.4 660.5h4v4h-4zM251.4 660.5h4v4h-4zM315.4 660.5h4v4h-4zM327.4 660.5h4v4h-4zM103.4 664.5h4v4h-4zM143.4 664.5h4v4h-4zM171.4 664.5h4v4h-4zM259.4 664.5h4v4h-4zM275.4 664.5h12v4h-12zM371.4 664.5h4v4h-4z"/>
<path fill="#242424" d="M111.4 348.6h4v4h-4zM119.4 348.6h12v4h-12zM139.4 348.6h4v4h-4zM159.4 348.6h4v4h-4zM331.4 348.6h4v4h-4zM347.4 348.6h4v4h-4zM119.4 352.6h4v4h-4zM135.4 352.6h4v4h-4zM187.4 352.6h4v4h-4zM195.4 352.6h4v4h-4zM227.4 352.6h4v4h-4zM327.4 352.6h4v4h-4zM335.4 352.6h4v4h-4zM375.4 352.6h4v4h-4zM87.4 356.6h4v4h-4zM139.4 356.6h4v4h-4zM171.4 356.6h4v4h-4zM195.4 356.6h4v4h-4zM227.4 356.6h4v4h-4zM235.4 356.6h4v4h-4zM243.4 356.6h4v4h-4zM295.4 356.6h4v4h-4zM75.4 360.6h4v4h-4zM123.4 360.6h4v4h-4zM151.4 360.6h4v4h-4zM175.4 360.6h4v4h-4zM251.4 360.6h4v4h-4zM259.4 360.6h4v4h-4zM327.4 360.6h4v4h-4zM359.4 360.6h4v4h-4zM111.4 364.6h4v4h-4zM123.4 364.6h8v4h-8zM143.4 364.6h4v4h-4zM275.4 364.6h4v4h-4zM343.4 364.6h4v4h-4zM67.4 368.6h4v4h-4zM79.4 368.6h4v4h-4zM119.4 368.6h4v4h-4zM147.4 368.6h4v4h-4zM171.4 368.6h4v4h-4zM259.4 368.6h4v4h-4zM291.4 368.6h4v4h-4zM339.4 368.6h4v4h-4zM379.4 368.6h4v4h-4zM79.4 372.6h4v4h-4zM99.4 372.6h4v4h-4zM115.4 372.6h4v4h-4zM135.4 372.6h4v4h-4zM191.4 372.6h4v4h-4zM207.4 372.6h8v4h-8zM267.4 372.6h4v4h-4zM295.4 372.6h4v4h-4zM327.4 372.6h4v4h-4zM343.4 372.6h4v4h-4zM351.4 372.6h4v4h-4zM91.4 376.6h4v4h-4zM111.4 376.6h4v4h-4zM155.4 376.6h4v4h-4zM191.4 376.6h4v4h-4zM211.4 376.6h4v4h-4zM107.4 380.6h8v4h-8zM143.4 380.6h4v4h-4zM203.4 380.6h4v4h-4zM335.4 380.6h8v4h-8zM147.4 384.6h4v4h-4zM271.4 384.6h8v4h-8zM331.4 384.6h4v4h-4zM71.4 388.6h4v4h-4zM91.4 388.6h4v4h-4zM139.4 388.6h4v4h-4zM259.4 388.6h4v4h-4zM143.4 392.6h4v4h-4zM215.4 392.6h4v4h-4zM227.4 392.6h4v4h-4zM279.4 392.6h4v4h-4zM343.4 392.6h4v4h-4zM119.4 396.6h4v4h-4zM147.4 396.6h8v4h-8zM199.4 396.6h4v4h-4zM215.4 396.6h8v4h-8zM343.4 396.6h4v4h-4zM215.4 400.6h4v4h-4zM339.4 400.6h4v4h-4zM347.4 400.6h8v4h-8zM139.4 404.6h4v4h-4zM163.4 404.6h4v4h-4zM179.4 404.6h4v4h-4zM191.4 404.6h8v4h-8zM215.4 404.6h4v4h-4zM227.4 404.6h4v4h-4zM311.4 404.6h4v4h-4zM343.4 404.6h4v4h-4zM363.4 404.6h8v4h-8zM79.4 408.6h4v4h-4zM151.4 408.6h4v4h-4zM175.4 408.6h4v4h-4zM223.4 408.6h4v4h-4zM259.4 408.6h4v4h-4zM343.4 408.6h4v4h-4zM363.4 408.6h4v4h-4zM87.4 412.6h4v4h-4zM171.4 412.6h8v4h-8zM207.4 412.6h4v4h-4zM259.4 412.6h8v4h-8zM383.4 412.6h4v4h-4zM123.4 416.6h4v4h-4zM219.4 416.6h4v4h-4zM231.4 416.6h4v4h-4zM291.4 416.6h4v4h-4zM331.4 416.6h12v4h-12zM363.4 416.6h4v4h-4zM71.4 420.6h4v4h-4zM103.4 420.6h4v4h-4zM91.4 424.6h4v4h-4zM103.4 424.6h4v4h-4zM123.4 424.6h4v4h-4zM359.4 424.6h4v4h-4zM83.4 428.6h4v4h-4zM115.4 428.6h4v4h-4zM203.4 428.6h4v4h-4zM283.4 428.6h4v4h-4zM331.4 428.6h4v4h-4zM95.4 432.6h4v4h-4zM107.4 432.6h8v4h-8zM223.4 432.6h4v4h-4zM247.4 432.6h4v4h-4zM279.4 432.6h4v4h-4zM95.4 436.6h4v4h-4zM231.4 436.6h4v4h-4zM275.4 436.6h4v4h-4zM363.4 436.6h12v4h-12zM107.4 440.6h8v4h-8zM131.4 440.6h4v4h-4zM155.4 440.6h4v4h-4zM167.4 440.6h8v4h-8zM303.4 440.6h4v4h-4zM323.4 440.6h4v4h-4zM331.4 440.6h4v4h-4zM363.4 440.6h4v4h-4zM95.4 444.6h4v4h-4zM347.4 444.6h4v4h-4zM363.4 444.6h4v4h-4zM143.4 448.6h4v4h-4zM191.4 448.6h4v4h-4zM239.4 448.6h4v4h-4zM283.4 448.6h4v4h-4zM303.4 448.6h4v4h-4zM323.4 448.6h4v4h-4zM347.4 448.6h4v4h-4zM359.4 448.6h4v4h-4zM87.4 452.6h4v4h-4zM299.4 452.6h4v4h-4zM67.4 456.6h4v4h-4zM119.4 456.6h4v4h-4zM167.4 456.6h4v4h-4zM239.4 456.6h4v4h-4zM275.4 456.6h4v4h-4zM283.4 456.6h4v4h-4zM83.4 460.6h4v4h-4zM115.4 460.6h8v4h-8zM135.4 460.6h4v4h-4zM239.4 460.6h4v4h-4zM259.4 460.6h8v4h-8zM67.4 464.6h4v4h-4zM91.4 464.6h4v4h-4zM127.4 464.6h4v4h-4zM183.4 464.6h4v4h-4zM243.4 464.6h4v4h-4zM315.4 464.6h4v4h-4zM355.4 464.6h4v4h-4zM379.4 464.6h4v4h-4zM87.4 468.6h8v4h-8zM107.4 468.6h4v4h-4zM119.4 468.6h4v4h-4zM319.4 468.6h8v4h-8zM335.4 468.6h4v4h-4zM91.4 472.6h4v4h-4zM99.4 472.6h4v4h-4zM187.4 472.6h4v4h-4zM235.4 472.6h4v4h-4zM291.4 472.6h4v4h-4zM335.4 472.6h4v4h-4zM111.4 476.6h4v4h-4zM251.4 476.6h4v4h-4zM319.4 476.6h8v4h-8zM347.4 476.6h4v4h-4zM363.4 476.6h4v4h-4zM91.4 480.6h8v4h-8zM123.4 480.6h4v4h-4zM179.4 480.6h8v4h-8zM203.4 480.6h4v4h-4zM287.4 480.6h8v4h-8zM323.4 480.6h4v4h-4zM371.4 480.6h4v4h-4zM67.4 484.6h4v4h-4zM219.4 484.6h4v4h-4zM243.4 484.6h4v4h-4zM383.4 484.6h4v4h-4zM67.4 488.6h4v4h-4zM179.4 488.6h4v4h-4zM211.4 488.6h4v4h-4zM267.4 488.6h4v4h-4zM275.4 488.6h4v4h-4zM343.4 488.6h4v4h-4zM383.4 488.6h4v4h-4zM115.4 492.6h4v4h-4zM219.4 492.6h4v4h-4zM279.4 492.6h4v4h-4zM287.4 492.6h4v4h-4zM171.4 496.6h4v4h-4zM235.4 496.6h4v4h-4zM271.4 496.6h4v4h-4zM79.4 500.6h4v4h-4zM91.4 500.6h4v4h-4zM147.4 500.6h4v4h-4zM183.4 500.6h4v4h-4zM259.4 500.6h4v4h-4zM275.4 500.6h4v4h-4zM343.4 500.6h4v4h-4zM351.4 500.6h4v4h-4zM159.4 504.6h4v4h-4zM191.4 504.6h4v4h-4zM323.4 504.6h4v4h-4zM347.4 504.6h4v4h-4zM355.4 504.6h4v4h-4zM91.4 508.6h4v4h-4zM143.4 508.6h4v4h-4zM175.4 508.6h4v4h-4zM199.4 508.6h4v4h-4zM267.4 508.6h4v4h-4zM299.4 508.6h4v4h-4zM335.4 508.6h4v4h-4zM359.4 508.6h4v4h-4zM299.4 512.5h8v4h-8zM319.4 512.5h4v4h-4zM339.4 512.5h4v4h-4zM351.4 512.5h4v4h-4zM371.4 512.5h4v4h-4zM383.4 512.5h4v4h-4zM171.4 516.5h4v4h-4zM211.4 516.5h4v4h-4zM303.4 516.5h4v4h-4zM359.4 516.5h4v4h-4zM367.4 516.5h8v4h-8zM155.4 520.5h4v4h-4zM263.4 520.5h8v4h-8zM323.4 520.5h4v4h-4zM383.4 520.5h4v4h-4zM163.4 524.5h4v4h-4zM203.4 524.5h4v4h-4zM211.4 524.5h4v4h-4zM235.4 524.5h4v4h-4zM311.4 524.5h4v4h-4zM359.4 524.5h4v4h-4zM383.4 524.5h4v4h-4zM79.4 528.5h4v4h-4zM155.4 528.5h4v4h-4zM231.4 528.5h4v4h-4zM275.4 528.5h4v4h-4zM311.4 528.5h4v4h-4zM371.4 528.5h8v4h-8zM103.4 532.5h4v4h-4zM111.4 532.5h4v4h-4zM235.4 532.5h4v4h-4zM247.4 532.5h4v4h-4zM267.4 532.5h8v4h-8zM343.4 532.5h8v4h-8zM375.4 532.5h8v4h-8zM99.4 536.5h4v4h-4zM147.4 536.5h4v4h-4zM219.4 536.5h8v4h-8zM243.4 536.5h4v4h-4zM275.4 536.5h4v4h-4zM315.4 536.5h4v4h-4zM339.4 536.5h4v4h-4zM91.4 540.5h4v4h-4zM127.4 540.5h4v4h-4zM139.4 540.5h4v4h-4zM151.4 540.5h4v4h-4zM307.4 540.5h4v4h-4zM343.4 540.5h8v4h-8zM123.4 544.5h4v4h-4zM179.4 544.5h4v4h-4zM203.4 544.5h4v4h-4zM299.4 544.5h4v4h-4zM319.4 544.5h4v4h-4zM371.4 544.5h4v4h-4zM379.4 544.5h4v4h-4zM223.4 548.5h4v4h-4zM287.4 548.5h4v4h-4zM295.4 548.5h4v4h-4zM303.4 548.5h4v4h-4zM311.4 548.5h4v4h-4zM323.4 548.5h8v4h-8zM363.4 548.5h4v4h-4zM163.4 552.5h4v4h-4zM191.4 552.5h4v4h-4zM259.4 552.5h8v4h-8zM327.4 552.5h4v4h-4zM351.4 552.5h4v4h-4zM131.4 556.5h4v4h-4zM143.4 556.5h4v4h-4zM163.4 556.5h4v4h-4zM191.4 556.5h4v4h-4zM227.4 556.5h4v4h-4zM235.4 556.5h4v4h-4zM267.4 556.5h4v4h-4zM123.4 560.5h4v4h-4zM167.4 560.5h4v4h-4zM199.4 560.5h4v4h-4zM255.4 560.5h4v4h-4zM355.4 560.5h8v4h-8zM71.4 564.5h4v4h-4zM107.4 564.5h28v4h-28zM175.4 564.5h4v4h-4zM183.4 564.5h12v4h-12zM243.4 564.5h4v4h-4zM263.4 564.5h4v4h-4zM279.4 564.5h4v4h-4zM339.4 564.5h4v4h-4zM351.4 564.5h4v4h-4zM127.4 568.5h8v4h-8zM239.4 568.5h4v4h-4zM255.4 568.5h4v4h-4zM263.4 568.5h12v4h-12zM299.4 568.5h4v4h-4zM103.4 572.5h4v4h-4zM123.4 572.5h4v4h-4zM131.4 572.5h8v4h-8zM143.4 572.5h4v4h-4zM235.4 572.5h8v4h-8zM299.4 572.5h4v4h-4zM335.4 572.5h8v4h-8zM371.4 572.5h8v4h-8zM91.4 576.5h4v4h-4zM247.4 576.5h4v4h-4zM303.4 576.5h4v4h-4zM83.4 580.5h4v4h-4zM203.4 580.5h4v4h-4zM247.4 580.5h4v4h-4zM287.4 580.5h4v4h-4zM315.4 580.5h4v4h-4zM347.4 580.5h4v4h-4zM71.4 584.5h4v4h-4zM203.4 584.5h4v4h-4zM283.4 584.5h4v4h-4zM311.4 584.5h4v4h-4zM323.4 584.5h4v4h-4zM175.4 588.5h4v4h-4zM187.4 588.5h4v4h-4zM211.4 588.5h4v4h-4zM323.4 588.5h12v4h-12zM95.4 592.5h4v4h-4zM111.4 592.5h4v4h-4zM135.4 592.5h4v4h-4zM231.4 592.5h4v4h-4zM251.4 592.5h4v4h-4zM271.4 592.5h4v4h-4zM83.4 596.5h4v4h-4zM107.4 596.5h4v4h-4zM135.4 596.5h4v4h-4zM187.4 596.5h4v4h-4zM203.4 596.5h4v4h-4zM223.4 596.5h4v4h-4zM347.4 596.5h4v4h-4zM83.4 600.5h4v4h-4zM95.4 600.5h4v4h-4zM147.4 600.5h4v4h-4zM199.4 600.5h4v4h-4zM219.4 600.5h4v4h-4zM235.4 600.5h4v4h-4zM335.4 600.5h4v4h-4zM115.4 604.5h4v4h-4zM151.4 604.5h4v4h-4zM171.4 604.5h4v4h-4zM303.4 604.5h4v4h-4zM335.4 604.5h4v4h-4zM343.4 604.5h8v4h-8zM91.4 608.5h4v4h-4zM111.4 608.5h4v4h-4zM139.4 608.5h4v4h-4zM155.4 608.5h4v4h-4zM299.4 608.5h4v4h-4zM339.4 608.5h4v4h-4zM351.4 608.5h4v4h-4zM367.4 608.5h8v4h-8zM135.4 612.5h4v4h-4zM155.4 612.5h4v4h-4zM207.4 612.5h4v4h-4zM215.4 612.5h4v4h-4zM339.4 612.5h4v4h-4zM375.4 612.5h4v4h-4zM83.4 616.5h4v4h-4zM103.4 616.5h4v4h-4zM207.4 616.5h8v4h-8zM267.4 616.5h12v4h-12zM347.4 616.5h4v4h-4zM363.4 616.5h4v4h-4zM379.4 616.5h4v4h-4zM107.4 620.5h8v4h-8zM211.4 620.5h8v4h-8zM259.4 620.5h4v4h-4zM279.4 620.5h4v4h-4zM307.4 620.5h4v4h-4zM347.4 620.5h4v4h-4zM75.4 624.5h4v4h-4zM195.4 624.5h4v4h-4zM351.4 624.5h4v4h-4zM371.4 624.5h4v4h-4zM75.4 628.5h4v4h-4zM147.4 628.5h4v4h-4zM175.4 628.5h4v4h-4zM199.4 628.5h4v4h-4zM295.4 628.5h4v4h-4zM83.4 632.5h4v4h-4zM91.4 632.5h4v4h-4zM107.4 632.5h4v4h-4zM259.4 632.5h4v4h-4zM311.4 632.5h4v4h-4zM323.4 632.5h4v4h-4zM351.4 632.5h4v4h-4zM83.4 636.5h4v4h-4zM91.4 636.5h8v4h-8zM147.4 636.5h4v4h-4zM187.4 636.5h8v4h-8zM231.4 636.5h4v4h-4zM239.4 636.5h4v4h-4zM295.4 636.5h4v4h-4zM91.4 640.5h4v4h-4zM99.4 640.5h4v4h-4zM143.4 640.5h4v4h-4zM227.4 640.5h4v4h-4zM263.4 640.5h4v4h-4zM331.4 640.5h4v4h-4zM363.4 640.5h4v4h-4zM379.4 640.5h4v4h-4zM111.4 644.5h4v4h-4zM199.4 644.5h4v4h-4zM271.4 644.5h4v4h-4zM299.4 644.5h4v4h-4zM331.4 644.5h8v4h-8zM95.4 648.5h4v4h-4zM111.4 648.5h4v4h-4zM151.4 648.5h4v4h-4zM187.4 648.5h4v4h-4zM199.4 648.5h8v4h-8zM267.4 648.5h4v4h-4zM171.4 652.5h4v4h-4zM187.4 652.5h16v4h-16zM231.4 652.5h4v4h-4zM311.4 652.5h4v4h-4zM323.4 652.5h4v4h-4zM331.4 652.5h4v4h-4zM139.4 656.5h4v4h-4zM191.4 656.5h4v4h-4zM211.4 656.5h4v4h-4zM291.4 656.5h4v4h-4zM303.4 656.5h4v4h-4zM79.4 660.5h4v4h-4zM183.4 660.5h4v4h-4zM215.4 660.5h4v4h-4zM255.4 660.5h4v4h-4zM303.4 660.5h4v4h-4zM331.4 660.5h4v4h-4zM71.4 664.5h4v4h-4zM83.4 664.5h4v4h-4zM123.4 664.5h4v4h-4zM183.4 664.5h8v4h-8zM215.4 664.5h4v4h-4zM271.4 664.5h4v4h-4zM347.4 664.5h12v4h-12z"/>
<path fill="#2a2a2a" d="M143.4 348.6h4v4h-4zM191.4 348.6h4v4h-4zM279.4 348.6h4v4h-4zM287.4 348.6h4v4h-4zM367.4 348.6h4v4h-4zM71.4 352.6h4v4h-4zM159.4 352.6h4v4h-4zM167.4 352.6h4v4h-4zM223.4 352.6h4v4h-4zM279.4 352.6h4v4h-4zM347.4 352.6h8v4h-8zM107.4 356.6h4v4h-4zM163.4 356.6h4v4h-4zM223.4 356.6h4v4h-4zM251.4 356.6h4v4h-4zM291.4 356.6h4v4h-4zM335.4 356.6h4v4h-4zM359.4 356.6h4v4h-4zM375.4 356.6h4v4h-4zM111.4 360.6h4v4h-4zM147.4 360.6h4v4h-4zM271.4 360.6h4v4h-4zM279.4 360.6h4v4h-4zM295.4 360.6h4v4h-4zM339.4 360.6h4v4h-4zM119.4 364.6h4v4h-4zM131.4 364.6h4v4h-4zM259.4 364.6h4v4h-4zM323.4 364.6h8v4h-8zM123.4 368.6h8v4h-8zM143.4 368.6h4v4h-4zM279.4 368.6h4v4h-4zM303.4 368.6h4v4h-4zM319.4 368.6h4v4h-4zM103.4 372.6h4v4h-4zM119.4 372.6h12v4h-12zM171.4 372.6h4v4h-4zM251.4 372.6h4v4h-4zM331.4 372.6h4v4h-4zM103.4 376.6h4v4h-4zM119.4 376.6h4v4h-4zM359.4 376.6h4v4h-4zM123.4 380.6h8v4h-8zM155.4 380.6h4v4h-4zM295.4 380.6h4v4h-4zM71.4 384.6h4v4h-4zM95.4 384.6h4v4h-4zM127.4 384.6h4v4h-4zM139.4 384.6h4v4h-4zM227.4 384.6h4v4h-4zM239.4 384.6h4v4h-4zM247.4 384.6h4v4h-4zM307.4 384.6h4v4h-4zM339.4 384.6h4v4h-4zM99.4 388.6h4v4h-4zM115.4 388.6h4v4h-4zM131.4 388.6h8v4h-8zM299.4 388.6h4v4h-4zM79.4 392.6h4v4h-4zM195.4 392.6h4v4h-4zM203.4 392.6h4v4h-4zM247.4 392.6h4v4h-4zM351.4 392.6h4v4h-4zM135.4 396.6h4v4h-4zM167.4 396.6h4v4h-4zM183.4 396.6h4v4h-4zM263.4 396.6h4v4h-4zM279.4 396.6h4v4h-4zM91.4 400.6h4v4h-4zM123.4 400.6h4v4h-4zM135.4 400.6h4v4h-4zM235.4 400.6h4v4h-4zM319.4 400.6h4v4h-4zM383.4 400.6h4v4h-4zM111.4 404.6h4v4h-4zM127.4 404.6h4v4h-4zM155.4 404.6h8v4h-8zM199.4 404.6h4v4h-4zM243.4 404.6h4v4h-4zM291.4 404.6h4v4h-4zM191.4 408.6h4v4h-4zM211.4 408.6h8v4h-8zM239.4 408.6h4v4h-4zM167.4 412.6h4v4h-4zM195.4 412.6h4v4h-4zM211.4 412.6h4v4h-4zM235.4 412.6h4v4h-4zM91.4 416.6h4v4h-4zM107.4 416.6h4v4h-4zM211.4 416.6h4v4h-4zM287.4 416.6h4v4h-4zM323.4 416.6h4v4h-4zM367.4 416.6h4v4h-4zM87.4 420.6h4v4h-4zM123.4 420.6h4v4h-4zM223.4 420.6h4v4h-4zM263.4 420.6h4v4h-4zM291.4 420.6h4v4h-4zM359.4 420.6h4v4h-4zM87.4 424.6h4v4h-4zM95.4 424.6h4v4h-4zM115.4 424.6h8v4h-8zM195.4 424.6h4v4h-4zM203.4 424.6h4v4h-4zM243.4 424.6h4v4h-4zM263.4 424.6h4v4h-4zM271.4 424.6h4v4h-4zM367.4 424.6h4v4h-4zM123.4 428.6h4v4h-4zM199.4 428.6h4v4h-4zM207.4 428.6h8v4h-8zM235.4 428.6h4v4h-4zM271.4 428.6h4v4h-4zM279.4 428.6h4v4h-4zM335.4 428.6h4v4h-4zM347.4 428.6h4v4h-4zM367.4 428.6h4v4h-4zM119.4 432.6h8v4h-8zM147.4 432.6h4v4h-4zM207.4 432.6h16v4h-16zM359.4 432.6h8v4h-8zM115.4 436.6h4v4h-4zM243.4 436.6h4v4h-4zM267.4 436.6h4v4h-4zM279.4 436.6h8v4h-8zM375.4 436.6h4v4h-4zM135.4 440.6h4v4h-4zM175.4 440.6h8v4h-8zM279.4 440.6h4v4h-4zM307.4 440.6h4v4h-4zM379.4 440.6h4v4h-4zM99.4 444.6h4v4h-4zM151.4 444.6h4v4h-4zM191.4 444.6h4v4h-4zM219.4 444.6h4v4h-4zM243.4 444.6h4v4h-4zM291.4 444.6h4v4h-4zM303.4 444.6h4v4h-4zM343.4 444.6h4v4h-4zM383.4 444.6h4v4h-4zM99.4 448.6h4v4h-4zM147.4 448.6h4v4h-4zM307.4 448.6h4v4h-4zM319.4 448.6h4v4h-4zM379.4 448.6h4v4h-4zM99.4 452.6h8v4h-8zM155.4 452.6h4v4h-4zM179.4 452.6h4v4h-4zM355.4 452.6h4v4h-4zM83.4 456.6h8v4h-8zM155.4 456.6h4v4h-4zM179.4 456.6h4v4h-4zM263.4 456.6h4v4h-4zM347.4 456.6h4v4h-4zM355.4 456.6h4v4h-4zM155.4 460.6h4v4h-4zM183.4 460.6h4v4h-4zM123.4 464.6h4v4h-4zM235.4 464.6h4v4h-4zM359.4 464.6h4v4h-4zM123.4 468.6h4v4h-4zM139.4 468.6h4v4h-4zM167.4 468.6h4v4h-4zM175.4 468.6h4v4h-4zM235.4 468.6h4v4h-4zM251.4 468.6h4v4h-4zM315.4 468.6h4v4h-4zM363.4 468.6h4v4h-4zM111.4 472.6h4v4h-4zM119.4 472.6h4v4h-4zM247.4 472.6h8v4h-8zM319.4 472.6h4v4h-4zM347.4 472.6h4v4h-4zM95.4 476.6h4v4h-4zM151.4 476.6h4v4h-4zM227.4 476.6h4v4h-4zM235.4 476.6h4v4h-4zM287.4 476.6h4v4h-4zM367.4 476.6h4v4h-4zM375.4 476.6h4v4h-4zM171.4 480.6h4v4h-4zM191.4 480.6h4v4h-4zM267.4 480.6h4v4h-4zM335.4 480.6h12v4h-12zM359.4 480.6h4v4h-4zM147.4 484.6h4v4h-4zM179.4 484.6h4v4h-4zM359.4 484.6h4v4h-4zM131.4 488.6h4v4h-4zM207.4 488.6h4v4h-4zM87.4 492.6h8v4h-8zM167.4 492.6h4v4h-4zM235.4 492.6h4v4h-4zM247.4 492.6h4v4h-4zM347.4 492.6h4v4h-4zM371.4 492.6h4v4h-4zM383.4 492.6h4v4h-4zM259.4 496.6h4v4h-4zM275.4 496.6h4v4h-4zM347.4 496.6h8v4h-8zM347.4 500.6h4v4h-4zM359.4 504.6h4v4h-4zM99.4 508.6h8v4h-8zM211.4 508.6h4v4h-4zM355.4 508.6h4v4h-4zM135.4 512.5h4v4h-4zM155.4 512.5h8v4h-8zM199.4 512.5h4v4h-4zM247.4 512.5h4v4h-4zM267.4 512.5h4v4h-4zM355.4 512.5h12v4h-12zM375.4 512.5h4v4h-4zM83.4 516.5h4v4h-4zM127.4 516.5h4v4h-4zM163.4 516.5h4v4h-4zM183.4 516.5h4v4h-4zM347.4 516.5h4v4h-4zM163.4 520.5h4v4h-4zM227.4 520.5h4v4h-4zM307.4 520.5h4v4h-4zM319.4 520.5h4v4h-4zM367.4 520.5h4v4h-4zM87.4 524.5h4v4h-4zM175.4 524.5h4v4h-4zM191.4 524.5h4v4h-4zM239.4 524.5h4v4h-4zM323.4 524.5h4v4h-4zM343.4 524.5h4v4h-4zM375.4 524.5h4v4h-4zM87.4 528.5h4v4h-4zM147.4 528.5h4v4h-4zM195.4 528.5h4v4h-4zM343.4 528.5h4v4h-4zM79.4 532.5h4v4h-4zM99.4 532.5h4v4h-4zM115.4 532.5h4v4h-4zM151.4 532.5h8v4h-8zM171.4 532.5h4v4h-4zM219.4 532.5h4v4h-4zM311.4 532.5h4v4h-4zM363.4 532.5h4v4h-4zM383.4 532.5h4v4h-4zM71.4 536.5h4v4h-4zM151.4 536.5h8v4h-8zM179.4 536.5h4v4h-4zM331.4 536.5h4v4h-4zM343.4 536.5h4v4h-4zM351.4 536.5h8v4h-8zM155.4 540.5h4v4h-4zM163.4 540.5h4v4h-4zM179.4 540.5h4v4h-4zM315.4 540.5h4v4h-4zM323.4 540.5h4v4h-4zM371.4 540.5h4v4h-4zM143.4 544.5h8v4h-8zM219.4 544.5h4v4h-4zM303.4 544.5h4v4h-4zM311.4 544.5h4v4h-4zM79.4 548.5h4v4h-4zM107.4 548.5h4v4h-4zM187.4 548.5h4v4h-4zM203.4 548.5h4v4h-4zM251.4 548.5h4v4h-4zM367.4 548.5h4v4h-4zM167.4 552.5h4v4h-4zM295.4 552.5h8v4h-8zM339.4 552.5h4v4h-4zM355.4 552.5h8v4h-8zM179.4 556.5h4v4h-4zM219.4 556.5h8v4h-8zM275.4 556.5h4v4h-4zM299.4 556.5h8v4h-8zM315.4 556.5h4v4h-4zM79.4 560.5h4v4h-4zM147.4 560.5h4v4h-4zM191.4 560.5h4v4h-4zM335.4 560.5h4v4h-4zM363.4 560.5h8v4h-8zM75.4 564.5h8v4h-8zM203.4 564.5h4v4h-4zM255.4 564.5h4v4h-4zM355.4 564.5h4v4h-4zM87.4 568.5h4v4h-4zM103.4 568.5h4v4h-4zM111.4 568.5h4v4h-4zM135.4 568.5h4v4h-4zM259.4 568.5h4v4h-4zM275.4 568.5h4v4h-4zM291.4 568.5h8v4h-8zM307.4 568.5h4v4h-4zM343.4 568.5h4v4h-4zM127.4 572.5h4v4h-4zM139.4 572.5h4v4h-4zM163.4 572.5h4v4h-4zM223.4 572.5h8v4h-8zM291.4 572.5h8v4h-8zM319.4 572.5h4v4h-4zM379.4 572.5h4v4h-4zM83.4 576.5h4v4h-4zM123.4 576.5h4v4h-4zM159.4 576.5h4v4h-4zM223.4 576.5h4v4h-4zM323.4 576.5h4v4h-4zM243.4 580.5h4v4h-4zM327.4 580.5h4v4h-4zM343.4 580.5h4v4h-4zM351.4 580.5h8v4h-8zM183.4 584.5h4v4h-4zM207.4 584.5h4v4h-4zM235.4 584.5h4v4h-4zM267.4 584.5h4v4h-4zM299.4 584.5h4v4h-4zM307.4 584.5h4v4h-4zM331.4 584.5h4v4h-4zM359.4 584.5h4v4h-4zM131.4 588.5h8v4h-8zM191.4 588.5h8v4h-8zM227.4 588.5h4v4h-4zM263.4 588.5h4v4h-4zM279.4 588.5h4v4h-4zM311.4 588.5h4v4h-4zM319.4 588.5h4v4h-4zM343.4 588.5h4v4h-4zM355.4 588.5h4v4h-4zM167.4 592.5h4v4h-4zM179.4 592.5h12v4h-12zM199.4 592.5h4v4h-4zM275.4 592.5h4v4h-4zM311.4 592.5h4v4h-4zM99.4 596.5h4v4h-4zM131.4 596.5h4v4h-4zM167.4 596.5h4v4h-4zM179.4 596.5h4v4h-4zM195.4 596.5h4v4h-4zM207.4 596.5h8v4h-8zM247.4 596.5h4v4h-4zM303.4 596.5h4v4h-4zM115.4 600.5h4v4h-4zM191.4 600.5h8v4h-8zM211.4 600.5h4v4h-4zM91.4 604.5h4v4h-4zM119.4 604.5h4v4h-4zM191.4 604.5h4v4h-4zM199.4 604.5h4v4h-4zM215.4 604.5h8v4h-8zM375.4 604.5h8v4h-8zM151.4 608.5h4v4h-4zM215.4 608.5h8v4h-8zM231.4 608.5h4v4h-4zM239.4 608.5h4v4h-4zM303.4 608.5h4v4h-4zM131.4 612.5h4v4h-4zM139.4 612.5h12v4h-12zM183.4 612.5h4v4h-4zM255.4 612.5h4v4h-4zM263.4 612.5h4v4h-4zM279.4 612.5h4v4h-4zM355.4 612.5h4v4h-4zM119.4 616.5h8v4h-8zM131.4 616.5h4v4h-4zM139.4 616.5h4v4h-4zM147.4 616.5h4v4h-4zM231.4 616.5h4v4h-4zM175.4 620.5h4v4h-4zM315.4 620.5h4v4h-4zM351.4 620.5h4v4h-4zM71.4 624.5h4v4h-4zM91.4 624.5h4v4h-4zM203.4 624.5h4v4h-4zM287.4 624.5h4v4h-4zM327.4 624.5h4v4h-4zM111.4 628.5h4v4h-4zM119.4 628.5h4v4h-4zM247.4 628.5h4v4h-4zM307.4 628.5h4v4h-4zM319.4 628.5h8v4h-8zM151.4 632.5h4v4h-4zM299.4 632.5h4v4h-4zM319.4 632.5h4v4h-4zM327.4 632.5h4v4h-4zM67.4 636.5h8v4h-8zM79.4 636.5h4v4h-4zM175.4 636.5h4v4h-4zM211.4 636.5h4v4h-4zM243.4 636.5h4v4h-4zM303.4 636.5h4v4h-4zM315.4 636.5h8v4h-8zM331.4 636.5h8v4h-8zM355.4 636.5h8v4h-8zM71.4 640.5h8v4h-8zM95.4 640.5h4v4h-4zM111.4 640.5h4v4h-4zM147.4 640.5h4v4h-4zM159.4 640.5h4v4h-4zM171.4 640.5h4v4h-4zM187.4 640.5h8v4h-8zM203.4 640.5h4v4h-4zM315.4 640.5h8v4h-8zM351.4 640.5h4v4h-4zM375.4 640.5h4v4h-4zM75.4 644.5h4v4h-4zM131.4 644.5h4v4h-4zM159.4 644.5h4v4h-4zM187.4 644.5h4v4h-4zM215.4 644.5h4v4h-4zM367.4 644.5h4v4h-4zM379.4 644.5h4v4h-4zM83.4 648.5h4v4h-4zM107.4 648.5h4v4h-4zM159.4 648.5h4v4h-4zM191.4 648.5h8v4h-8zM255.4 648.5h4v4h-4zM311.4 648.5h4v4h-4zM327.4 648.5h8v4h-8zM103.4 652.5h4v4h-4zM207.4 652.5h4v4h-4zM255.4 652.5h4v4h-4zM295.4 652.5h4v4h-4zM95.4 656.5h4v4h-4zM147.4 656.5h4v4h-4zM163.4 656.5h4v4h-4zM187.4 656.5h4v4h-4zM195.4 656.5h4v4h-4zM215.4 656.5h4v4h-4zM243.4 656.5h4v4h-4zM259.4 656.5h4v4h-4zM315.4 656.5h4v4h-4zM323.4 656.5h4v4h-4zM335.4 656.5h4v4h-4zM343.4 656.5h4v4h-4zM103.4 660.5h12v4h-12zM187.4 660.5h4v4h-4zM211.4 660.5h4v4h-4zM259.4 660.5h4v4h-4zM267.4 660.5h4v4h-4zM291.4 660.5h4v4h-4zM131.4 664.5h4v4h-4zM199.4 664.5h4v4h-4z"/>
<path fill="#303030" d="M115.4 348.6h4v4h-4zM163.4 348.6h8v4h-8zM195.4 348.6h4v4h-4zM203.4 348.6h4v4h-4zM255.4 348.6h8v4h-8zM319.4 348.6h4v4h-4zM235.4 352.6h4v4h-4zM267.4 352.6h4v4h-4zM287.4 352.6h4v4h-4zM331.4 352.6h4v4h-4zM119.4 356.6h4v4h-4zM191.4 356.6h4v4h-4zM255.4 356.6h8v4h-8zM327.4 356.6h4v4h-4zM343.4 356.6h4v4h-4zM143.4 360.6h4v4h-4zM255.4 360.6h4v4h-4zM263.4 360.6h4v4h-4zM287.4 360.6h4v4h-4zM335.4 360.6h4v4h-4zM375.4 360.6h4v4h-4zM87.4 364.6h4v4h-4zM115.4 364.6h4v4h-4zM159.4 364.6h4v4h-4zM347.4 364.6h4v4h-4zM375.4 364.6h4v4h-4zM139.4 368.6h4v4h-4zM287.4 368.6h4v4h-4zM295.4 368.6h4v4h-4zM351.4 368.6h4v4h-4zM131.4 372.6h4v4h-4zM231.4 372.6h4v4h-4zM255.4 372.6h4v4h-4zM279.4 372.6h4v4h-4zM291.4 372.6h4v4h-4zM123.4 376.6h12v4h-12zM267.4 376.6h4v4h-4zM275.4 376.6h12v4h-12zM295.4 376.6h4v4h-4zM379.4 376.6h4v4h-4zM139.4 380.6h4v4h-4zM207.4 380.6h4v4h-4zM343.4 380.6h4v4h-4zM131.4 384.6h4v4h-4zM95.4 388.6h4v4h-4zM103.4 388.6h4v4h-4zM155.4 388.6h4v4h-4zM239.4 388.6h4v4h-4zM287.4 388.6h4v4h-4zM127.4 392.6h8v4h-8zM139.4 392.6h4v4h-4zM159.4 392.6h4v4h-4zM231.4 392.6h4v4h-4zM255.4 392.6h4v4h-4zM283.4 392.6h4v4h-4zM339.4 392.6h4v4h-4zM355.4 392.6h4v4h-4zM131.4 396.6h4v4h-4zM235.4 396.6h4v4h-4zM251.4 396.6h4v4h-4zM267.4 396.6h4v4h-4zM335.4 396.6h4v4h-4zM167.4 404.6h4v4h-4zM303.4 404.6h4v4h-4zM355.4 404.6h4v4h-4zM95.4 408.6h12v4h-12zM127.4 408.6h8v4h-8zM167.4 408.6h4v4h-4zM179.4 408.6h4v4h-4zM195.4 408.6h4v4h-4zM219.4 408.6h4v4h-4zM303.4 408.6h4v4h-4zM347.4 408.6h4v4h-4zM131.4 412.6h4v4h-4zM191.4 412.6h4v4h-4zM199.4 412.6h8v4h-8zM315.4 412.6h4v4h-4zM359.4 412.6h4v4h-4zM111.4 416.6h4v4h-4zM215.4 416.6h4v4h-4zM263.4 416.6h4v4h-4zM311.4 416.6h4v4h-4zM359.4 416.6h4v4h-4zM187.4 420.6h8v4h-8zM199.4 420.6h4v4h-4zM99.4 424.6h4v4h-4zM247.4 424.6h4v4h-4zM351.4 424.6h4v4h-4zM375.4 424.6h8v4h-8zM219.4 428.6h4v4h-4zM263.4 428.6h4v4h-4zM327.4 428.6h4v4h-4zM243.4 432.6h4v4h-4zM267.4 432.6h8v4h-8zM327.4 432.6h4v4h-4zM335.4 432.6h4v4h-4zM107.4 436.6h8v4h-8zM187.4 436.6h4v4h-4zM271.4 436.6h4v4h-4zM99.4 440.6h4v4h-4zM335.4 440.6h4v4h-4zM131.4 444.6h4v4h-4zM143.4 444.6h4v4h-4zM319.4 444.6h4v4h-4zM339.4 444.6h4v4h-4zM95.4 448.6h4v4h-4zM131.4 448.6h4v4h-4zM203.4 448.6h4v4h-4zM351.4 448.6h4v4h-4zM67.4 452.6h4v4h-4zM163.4 452.6h4v4h-4zM183.4 452.6h4v4h-4zM295.4 452.6h4v4h-4zM375.4 452.6h4v4h-4zM267.4 456.6h8v4h-8zM351.4 456.6h4v4h-4zM75.4 460.6h4v4h-4zM87.4 460.6h4v4h-4zM151.4 460.6h4v4h-4zM283.4 460.6h4v4h-4zM347.4 460.6h4v4h-4zM71.4 464.6h4v4h-4zM139.4 464.6h4v4h-4zM147.4 464.6h4v4h-4zM263.4 464.6h4v4h-4zM299.4 464.6h4v4h-4zM383.4 464.6h4v4h-4zM155.4 468.6h4v4h-4zM255.4 468.6h4v4h-4zM303.4 468.6h4v4h-4zM327.4 468.6h4v4h-4zM355.4 468.6h4v4h-4zM367.4 468.6h12v4h-12zM95.4 472.6h4v4h-4zM147.4 472.6h4v4h-4zM159.4 472.6h4v4h-4zM179.4 472.6h4v4h-4zM263.4 472.6h4v4h-4zM283.4 472.6h4v4h-4zM351.4 472.6h8v4h-8zM363.4 472.6h4v4h-4zM375.4 472.6h4v4h-4zM183.4 476.6h4v4h-4zM343.4 476.6h4v4h-4zM359.4 476.6h4v4h-4zM111.4 480.6h4v4h-4zM147.4 480.6h4v4h-4zM227.4 480.6h4v4h-4zM255.4 480.6h4v4h-4zM319.4 480.6h4v4h-4zM379.4 480.6h4v4h-4zM171.4 484.6h4v4h-4zM223.4 484.6h4v4h-4zM239.4 484.6h4v4h-4zM335.4 484.6h8v4h-8zM363.4 484.6h4v4h-4zM87.4 488.6h4v4h-4zM159.4 488.6h4v4h-4zM167.4 488.6h12v4h-12zM271.4 488.6h4v4h-4zM363.4 488.6h4v4h-4zM71.4 492.6h4v4h-4zM179.4 492.6h4v4h-4zM283.4 492.6h4v4h-4zM343.4 492.6h4v4h-4zM363.4 492.6h4v4h-4zM91.4 496.6h4v4h-4zM139.4 496.6h4v4h-4zM175.4 496.6h8v4h-8zM239.4 496.6h4v4h-4zM311.4 496.6h4v4h-4zM355.4 496.6h4v4h-4zM363.4 496.6h4v4h-4zM371.4 496.6h4v4h-4zM143.4 500.6h4v4h-4zM287.4 500.6h4v4h-4zM315.4 500.6h4v4h-4zM355.4 500.6h4v4h-4zM367.4 500.6h4v4h-4zM283.4 504.6h4v4h-4zM343.4 504.6h4v4h-4zM363.4 504.6h4v4h-4zM383.4 504.6h4v4h-4zM87.4 508.6h4v4h-4zM135.4 508.6h4v4h-4zM155.4 508.6h4v4h-4zM163.4 508.6h4v4h-4zM183.4 508.6h4v4h-4zM271.4 508.6h4v4h-4zM367.4 508.6h4v4h-4zM375.4 508.6h4v4h-4zM87.4 512.5h4v4h-4zM103.4 512.5h4v4h-4zM195.4 512.5h4v4h-4zM379.4 512.5h4v4h-4zM99.4 516.5h8v4h-8zM151.4 516.5h4v4h-4zM179.4 516.5h4v4h-4zM187.4 516.5h4v4h-4zM227.4 516.5h4v4h-4zM243.4 516.5h4v4h-4zM259.4 516.5h4v4h-4zM267.4 516.5h4v4h-4zM307.4 516.5h4v4h-4zM363.4 516.5h4v4h-4zM83.4 520.5h4v4h-4zM99.4 520.5h8v4h-8zM135.4 520.5h4v4h-4zM183.4 520.5h4v4h-4zM243.4 520.5h4v4h-4zM363.4 520.5h4v4h-4zM83.4 524.5h4v4h-4zM103.4 524.5h4v4h-4zM131.4 524.5h4v4h-4zM139.4 524.5h4v4h-4zM195.4 524.5h4v4h-4zM207.4 524.5h4v4h-4zM267.4 524.5h4v4h-4zM331.4 524.5h4v4h-4zM347.4 524.5h4v4h-4zM379.4 524.5h4v4h-4zM103.4 528.5h4v4h-4zM175.4 528.5h4v4h-4zM235.4 528.5h4v4h-4zM255.4 528.5h4v4h-4zM271.4 528.5h4v4h-4zM331.4 528.5h4v4h-4zM351.4 528.5h8v4h-8zM119.4 532.5h4v4h-4zM263.4 532.5h4v4h-4zM275.4 532.5h4v4h-4zM335.4 532.5h8v4h-8zM83.4 536.5h8v4h-8zM111.4 536.5h4v4h-4zM127.4 536.5h4v4h-4zM239.4 536.5h4v4h-4zM299.4 536.5h8v4h-8zM347.4 536.5h4v4h-4zM359.4 536.5h4v4h-4zM147.4 540.5h4v4h-4zM199.4 540.5h4v4h-4zM239.4 540.5h4v4h-4zM279.4 540.5h4v4h-4zM351.4 540.5h4v4h-4zM367.4 540.5h4v4h-4zM83.4 544.5h4v4h-4zM255.4 544.5h4v4h-4zM323.4 544.5h4v4h-4zM119.4 548.5h4v4h-4zM171.4 548.5h4v4h-4zM299.4 548.5h4v4h-4zM175.4 552.5h4v4h-4zM247.4 552.5h4v4h-4zM279.4 552.5h4v4h-4zM291.4 552.5h4v4h-4zM311.4 552.5h4v4h-4zM123.4 556.5h8v4h-8zM247.4 556.5h4v4h-4zM255.4 556.5h4v4h-4zM271.4 556.5h4v4h-4zM291.4 556.5h4v4h-4zM71.4 560.5h4v4h-4zM91.4 560.5h4v4h-4zM171.4 560.5h4v4h-4zM195.4 560.5h4v4h-4zM247.4 560.5h4v4h-4zM135.4 564.5h4v4h-4zM303.4 564.5h4v4h-4zM331.4 564.5h4v4h-4zM367.4 564.5h4v4h-4zM83.4 568.5h4v4h-4zM139.4 568.5h4v4h-4zM367.4 568.5h4v4h-4zM107.4 572.5h4v4h-4zM187.4 572.5h4v4h-4zM367.4 572.5h4v4h-4zM103.4 576.5h4v4h-4zM151.4 576.5h4v4h-4zM235.4 576.5h4v4h-4zM319.4 576.5h4v4h-4zM379.4 576.5h4v4h-4zM99.4 580.5h4v4h-4zM127.4 580.5h4v4h-4zM159.4 580.5h4v4h-4zM183.4 580.5h8v4h-8zM227.4 580.5h4v4h-4zM239.4 580.5h4v4h-4zM339.4 580.5h4v4h-4zM131.4 584.5h8v4h-8zM279.4 584.5h4v4h-4zM339.4 584.5h4v4h-4zM179.4 588.5h8v4h-8zM199.4 588.5h4v4h-4zM267.4 588.5h4v4h-4zM131.4 592.5h4v4h-4zM211.4 592.5h4v4h-4zM247.4 592.5h4v4h-4zM315.4 592.5h4v4h-4zM183.4 596.5h4v4h-4zM191.4 596.5h4v4h-4zM231.4 596.5h4v4h-4zM375.4 596.5h4v4h-4zM99.4 600.5h4v4h-4zM111.4 600.5h4v4h-4zM187.4 600.5h4v4h-4zM223.4 600.5h8v4h-8zM375.4 600.5h4v4h-4zM99.4 604.5h4v4h-4zM195.4 604.5h4v4h-4zM207.4 604.5h4v4h-4zM227.4 604.5h4v4h-4zM295.4 604.5h8v4h-8zM339.4 604.5h4v4h-4zM115.4 608.5h4v4h-4zM275.4 608.5h4v4h-4zM287.4 608.5h4v4h-4zM151.4 612.5h4v4h-4zM267.4 612.5h4v4h-4zM283.4 612.5h4v4h-4zM299.4 612.5h4v4h-4zM311.4 612.5h4v4h-4zM335.4 612.5h4v4h-4zM107.4 616.5h4v4h-4zM135.4 616.5h4v4h-4zM151.4 616.5h4v4h-4zM179.4 616.5h4v4h-4zM263.4 616.5h4v4h-4zM359.4 616.5h4v4h-4zM207.4 620.5h4v4h-4zM299.4 620.5h4v4h-4zM367.4 620.5h4v4h-4zM67.4 624.5h4v4h-4zM119.4 624.5h4v4h-4zM187.4 624.5h4v4h-4zM99.4 628.5h4v4h-4zM115.4 628.5h4v4h-4zM235.4 628.5h4v4h-4zM243.4 628.5h4v4h-4zM331.4 628.5h4v4h-4zM119.4 632.5h4v4h-4zM131.4 632.5h4v4h-4zM167.4 632.5h4v4h-4zM231.4 632.5h4v4h-4zM307.4 632.5h4v4h-4zM331.4 632.5h4v4h-4zM119.4 636.5h4v4h-4zM127.4 636.5h4v4h-4zM151.4 636.5h4v4h-4zM215.4 636.5h16v4h-16zM291.4 636.5h4v4h-4zM351.4 636.5h4v4h-4zM139.4 640.5h4v4h-4zM151.4 640.5h8v4h-8zM215.4 640.5h4v4h-4zM303.4 640.5h4v4h-4zM335.4 640.5h4v4h-4zM355.4 640.5h4v4h-4zM91.4 644.5h4v4h-4zM119.4 644.5h4v4h-4zM191.4 644.5h4v4h-4zM235.4 644.5h4v4h-4zM287.4 644.5h4v4h-4zM311.4 644.5h4v4h-4zM319.4 644.5h8v4h-8zM359.4 644.5h4v4h-4zM371.4 644.5h4v4h-4zM99.4 648.5h8v4h-8zM319.4 648.5h4v4h-4zM335.4 648.5h4v4h-4zM83.4 652.5h4v4h-4zM227.4 652.5h4v4h-4zM287.4 652.5h8v4h-8zM299.4 652.5h4v4h-4zM307.4 652.5h4v4h-4zM315.4 652.5h4v4h-4zM115.4 656.5h4v4h-4zM143.4 656.5h4v4h-4zM199.4 656.5h4v4h-4zM239.4 656.5h4v4h-4zM339.4 656.5h4v4h-4zM143.4 660.5h4v4h-4zM191.4 660.5h12v4h-12zM263.4 660.5h4v4h-4zM295.4 660.5h4v4h-4zM335.4 660.5h4v4h-4zM347.4 660.5h4v4h-4zM291.4 664.5h8v4h-8z"/>
<path fill="#363636" d="M283.4 348.6h4v4h-4zM139.4 352.6h4v4h-4zM147.4 352.6h4v4h-4zM243.4 352.6h4v4h-4zM151.4 356.6h4v4h-4zM239.4 356.6h4v4h-4zM283.4 356.6h4v4h-4zM119.4 360.6h4v4h-4zM195.4 360.6h4v4h-4zM283.4 360.6h4v4h-4zM331.4 360.6h4v4h-4zM379.4 360.6h8v4h-8zM91.4 364.6h4v4h-4zM139.4 364.6h4v4h-4zM155.4 364.6h4v4h-4zM255.4 364.6h4v4h-4zM355.4 364.6h4v4h-4zM131.4 368.6h4v4h-4zM187.4 368.6h4v4h-4zM195.4 368.6h4v4h-4zM251.4 368.6h4v4h-4zM327.4 368.6h4v4h-4zM155.4 372.6h4v4h-4zM271.4 372.6h4v4h-4zM147.4 376.6h4v4h-4zM203.4 376.6h4v4h-4zM291.4 376.6h4v4h-4zM343.4 376.6h4v4h-4zM67.4 380.6h4v4h-4zM131.4 380.6h8v4h-8zM147.4 380.6h4v4h-4zM267.4 380.6h4v4h-4zM275.4 380.6h4v4h-4zM359.4 380.6h4v4h-4zM103.4 384.6h4v4h-4zM115.4 384.6h4v4h-4zM151.4 384.6h4v4h-4zM251.4 384.6h4v4h-4zM299.4 384.6h4v4h-4zM347.4 384.6h4v4h-4zM111.4 388.6h4v4h-4zM127.4 388.6h4v4h-4zM227.4 388.6h4v4h-4zM255.4 388.6h4v4h-4zM307.4 388.6h4v4h-4zM347.4 388.6h4v4h-4zM135.4 392.6h4v4h-4zM199.4 392.6h4v4h-4zM287.4 392.6h4v4h-4zM311.4 392.6h4v4h-4zM127.4 396.6h4v4h-4zM167.4 400.6h4v4h-4zM247.4 400.6h4v4h-4zM267.4 400.6h4v4h-4zM283.4 400.6h8v4h-8zM315.4 400.6h4v4h-4zM95.4 404.6h4v4h-4zM107.4 404.6h4v4h-4zM235.4 404.6h4v4h-4zM287.4 404.6h4v4h-4zM307.4 404.6h4v4h-4zM347.4 404.6h4v4h-4zM383.4 404.6h4v4h-4zM83.4 408.6h4v4h-4zM171.4 408.6h4v4h-4zM199.4 408.6h12v4h-12zM359.4 408.6h4v4h-4zM95.4 412.6h4v4h-4zM115.4 412.6h4v4h-4zM127.4 412.6h4v4h-4zM187.4 412.6h4v4h-4zM215.4 412.6h4v4h-4zM347.4 412.6h4v4h-4zM135.4 416.6h4v4h-4zM195.4 416.6h4v4h-4zM319.4 416.6h4v4h-4zM347.4 416.6h4v4h-4zM371.4 416.6h4v4h-4zM91.4 420.6h4v4h-4zM195.4 420.6h4v4h-4zM287.4 420.6h4v4h-4zM363.4 420.6h8v4h-8zM375.4 420.6h4v4h-4zM107.4 424.6h8v4h-8zM223.4 424.6h4v4h-4zM355.4 424.6h4v4h-4zM99.4 428.6h8v4h-8zM323.4 428.6h4v4h-4zM343.4 428.6h4v4h-4zM235.4 432.6h4v4h-4zM323.4 432.6h4v4h-4zM119.4 436.6h4v4h-4zM183.4 436.6h4v4h-4zM235.4 436.6h4v4h-4zM331.4 436.6h4v4h-4zM351.4 436.6h4v4h-4zM103.4 440.6h4v4h-4zM151.4 440.6h4v4h-4zM183.4 440.6h8v4h-8zM235.4 440.6h4v4h-4zM243.4 440.6h4v4h-4zM287.4 440.6h4v4h-4zM343.4 440.6h8v4h-8zM91.4 444.6h4v4h-4zM239.4 444.6h4v4h-4zM307.4 444.6h4v4h-4zM323.4 444.6h4v4h-4zM379.4 444.6h4v4h-4zM151.4 448.6h4v4h-4zM367.4 448.6h4v4h-4zM239.4 452.6h4v4h-4zM367.4 452.6h4v4h-4zM159.4 456.6h8v4h-8zM91.4 460.6h4v4h-4zM139.4 460.6h4v4h-4zM267.4 460.6h8v4h-8zM111.4 464.6h4v4h-4zM119.4 464.6h4v4h-4zM179.4 464.6h4v4h-4zM259.4 464.6h4v4h-4zM287.4 464.6h4v4h-4zM115.4 468.6h4v4h-4zM151.4 468.6h4v4h-4zM159.4 468.6h4v4h-4zM183.4 468.6h4v4h-4zM239.4 468.6h4v4h-4zM259.4 468.6h4v4h-4zM331.4 468.6h4v4h-4zM359.4 468.6h4v4h-4zM115.4 472.6h4v4h-4zM183.4 472.6h4v4h-4zM191.4 472.6h8v4h-8zM279.4 472.6h4v4h-4zM295.4 472.6h8v4h-8zM327.4 472.6h8v4h-8zM359.4 472.6h4v4h-4zM123.4 476.6h4v4h-4zM187.4 476.6h4v4h-4zM371.4 476.6h4v4h-4zM119.4 480.6h4v4h-4zM199.4 480.6h4v4h-4zM375.4 480.6h4v4h-4zM91.4 484.6h8v4h-8zM111.4 484.6h4v4h-4zM123.4 484.6h4v4h-4zM155.4 484.6h4v4h-4zM167.4 484.6h4v4h-4zM247.4 484.6h4v4h-4zM255.4 484.6h4v4h-4zM379.4 484.6h4v4h-4zM91.4 488.6h4v4h-4zM111.4 488.6h4v4h-4zM127.4 488.6h4v4h-4zM155.4 488.6h4v4h-4zM163.4 488.6h4v4h-4zM239.4 488.6h4v4h-4zM123.4 492.6h4v4h-4zM159.4 492.6h8v4h-8zM171.4 492.6h4v4h-4zM239.4 492.6h4v4h-4zM243.4 496.6h4v4h-4zM287.4 496.6h4v4h-4zM359.4 496.6h4v4h-4zM131.4 500.6h4v4h-4zM175.4 500.6h4v4h-4zM299.4 500.6h4v4h-4zM359.4 500.6h4v4h-4zM371.4 500.6h4v4h-4zM379.4 500.6h4v4h-4zM143.4 504.6h4v4h-4zM175.4 504.6h16v4h-16zM215.4 504.6h4v4h-4zM379.4 504.6h4v4h-4zM83.4 508.6h4v4h-4zM159.4 508.6h4v4h-4zM187.4 508.6h4v4h-4zM311.4 508.6h4v4h-4zM371.4 508.6h4v4h-4zM163.4 512.5h4v4h-4zM187.4 512.5h4v4h-4zM231.4 512.5h4v4h-4zM251.4 512.5h4v4h-4zM271.4 512.5h4v4h-4zM311.4 512.5h4v4h-4zM135.4 516.5h4v4h-4zM175.4 516.5h4v4h-4zM199.4 516.5h4v4h-4zM271.4 516.5h4v4h-4zM351.4 516.5h4v4h-4zM175.4 520.5h4v4h-4zM211.4 520.5h4v4h-4zM135.4 524.5h4v4h-4zM255.4 524.5h4v4h-4zM327.4 524.5h4v4h-4zM351.4 524.5h4v4h-4zM151.4 528.5h4v4h-4zM259.4 528.5h4v4h-4zM327.4 528.5h4v4h-4zM335.4 528.5h4v4h-4zM367.4 528.5h4v4h-4zM379.4 528.5h8v4h-8zM175.4 532.5h4v4h-4zM299.4 532.5h4v4h-4zM351.4 532.5h8v4h-8zM199.4 536.5h4v4h-4zM307.4 536.5h4v4h-4zM327.4 536.5h4v4h-4zM143.4 540.5h4v4h-4zM211.4 540.5h4v4h-4zM311.4 540.5h4v4h-4zM319.4 540.5h4v4h-4zM327.4 540.5h8v4h-8zM87.4 544.5h4v4h-4zM115.4 544.5h4v4h-4zM191.4 544.5h4v4h-4zM215.4 544.5h4v4h-4zM307.4 544.5h4v4h-4zM327.4 544.5h8v4h-8zM347.4 544.5h4v4h-4zM75.4 548.5h4v4h-4zM83.4 548.5h4v4h-4zM159.4 548.5h8v4h-8zM191.4 548.5h4v4h-4zM199.4 548.5h4v4h-4zM219.4 548.5h4v4h-4zM263.4 548.5h4v4h-4zM307.4 548.5h4v4h-4zM343.4 548.5h4v4h-4zM71.4 552.5h4v4h-4zM119.4 552.5h4v4h-4zM235.4 552.5h4v4h-4zM307.4 552.5h4v4h-4zM167.4 556.5h4v4h-4zM283.4 556.5h4v4h-4zM295.4 556.5h4v4h-4zM67.4 560.5h4v4h-4zM131.4 560.5h8v4h-8zM175.4 560.5h8v4h-8zM251.4 560.5h4v4h-4zM267.4 560.5h4v4h-4zM315.4 560.5h4v4h-4zM331.4 560.5h4v4h-4zM179.4 564.5h4v4h-4zM247.4 564.5h4v4h-4zM79.4 568.5h4v4h-4zM183.4 568.5h8v4h-8zM311.4 568.5h4v4h-4zM339.4 568.5h4v4h-4zM167.4 572.5h4v4h-4zM127.4 576.5h4v4h-4zM135.4 576.5h4v4h-4zM191.4 576.5h4v4h-4zM211.4 576.5h4v4h-4zM227.4 576.5h4v4h-4zM239.4 576.5h8v4h-8zM275.4 576.5h4v4h-4zM299.4 576.5h4v4h-4zM87.4 580.5h4v4h-4zM135.4 580.5h4v4h-4zM175.4 580.5h4v4h-4zM271.4 580.5h4v4h-4zM279.4 580.5h4v4h-4zM303.4 580.5h8v4h-8zM379.4 580.5h8v4h-8zM103.4 584.5h4v4h-4zM223.4 584.5h4v4h-4zM303.4 584.5h4v4h-4zM327.4 584.5h4v4h-4zM383.4 584.5h4v4h-4zM203.4 588.5h4v4h-4zM219.4 588.5h4v4h-4zM315.4 588.5h4v4h-4zM223.4 592.5h4v4h-4zM239.4 592.5h4v4h-4zM375.4 592.5h4v4h-4zM111.4 596.5h4v4h-4zM235.4 596.5h4v4h-4zM67.4 600.5h4v4h-4zM179.4 600.5h4v4h-4zM299.4 600.5h4v4h-4zM347.4 600.5h4v4h-4zM379.4 600.5h4v4h-4zM95.4 604.5h4v4h-4zM143.4 604.5h4v4h-4zM211.4 604.5h4v4h-4zM223.4 604.5h4v4h-4zM187.4 608.5h4v4h-4zM211.4 608.5h4v4h-4zM235.4 608.5h4v4h-4zM291.4 608.5h8v4h-8zM307.4 608.5h4v4h-4zM383.4 608.5h4v4h-4zM127.4 612.5h4v4h-4zM259.4 612.5h4v4h-4zM275.4 612.5h4v4h-4zM127.4 616.5h4v4h-4zM215.4 616.5h4v4h-4zM235.4 616.5h4v4h-4zM279.4 616.5h4v4h-4zM323.4 616.5h4v4h-4zM339.4 616.5h4v4h-4zM355.4 616.5h4v4h-4zM375.4 616.5h4v4h-4zM95.4 624.5h4v4h-4zM219.4 624.5h4v4h-4zM291.4 624.5h4v4h-4zM299.4 624.5h4v4h-4zM187.4 628.5h4v4h-4zM327.4 628.5h4v4h-4zM95.4 632.5h4v4h-4zM115.4 632.5h4v4h-4zM135.4 632.5h4v4h-4zM147.4 632.5h4v4h-4zM195.4 632.5h4v4h-4zM235.4 632.5h4v4h-4zM111.4 636.5h8v4h-8zM123.4 636.5h4v4h-4zM263.4 636.5h4v4h-4zM307.4 636.5h4v4h-4zM119.4 640.5h4v4h-4zM287.4 640.5h4v4h-4zM95.4 644.5h8v4h-8zM227.4 644.5h4v4h-4zM263.4 644.5h4v4h-4zM283.4 644.5h4v4h-4zM303.4 644.5h4v4h-4zM215.4 648.5h4v4h-4zM283.4 648.5h4v4h-4zM303.4 648.5h8v4h-8zM375.4 648.5h8v4h-8zM87.4 652.5h4v4h-4zM107.4 652.5h4v4h-4zM215.4 652.5h4v4h-4zM107.4 656.5h4v4h-4zM263.4 656.5h4v4h-4zM83.4 660.5h4v4h-4zM99.4 660.5h4v4h-4zM151.4 660.5h4v4h-4zM167.4 660.5h4v4h-4zM323.4 660.5h4v4h-4zM351.4 660.5h8v4h-8zM375.4 660.5h4v4h-4zM191.4 664.5h8v4h-8zM211.4 664.5h4v4h-4zM267.4 664.5h4v4h-4zM315.4 664.5h4v4h-4zM335.4 664.5h4v4h-4zM343.4 664.5h4v4h-4zM375.4 664.5h4v4h-4z"/>
<path fill="#3c3c3c" d="M91.4 348.6h4v4h-4zM235.4 348.6h4v4h-4zM371.4 348.6h8v4h-8zM111.4 352.6h4v4h-4zM163.4 352.6h4v4h-4zM71.4 356.6h4v4h-4zM155.4 356.6h8v4h-8zM267.4 356.6h4v4h-4zM331.4 356.6h4v4h-4zM347.4 356.6h4v4h-4zM115.4 360.6h4v4h-4zM191.4 360.6h4v4h-4zM267.4 360.6h4v4h-4zM135.4 364.6h4v4h-4zM191.4 364.6h4v4h-4zM199.4 364.6h4v4h-4zM279.4 364.6h8v4h-8zM331.4 364.6h8v4h-8zM351.4 364.6h4v4h-4zM379.4 364.6h4v4h-4zM83.4 368.6h4v4h-4zM151.4 368.6h8v4h-8zM191.4 368.6h4v4h-4zM255.4 368.6h4v4h-4zM323.4 368.6h4v4h-4zM331.4 368.6h8v4h-8zM355.4 368.6h4v4h-4zM147.4 372.6h4v4h-4zM355.4 372.6h4v4h-4zM287.4 376.6h4v4h-4zM99.4 384.6h4v4h-4zM119.4 384.6h8v4h-8zM135.4 384.6h4v4h-4zM155.4 384.6h4v4h-4zM303.4 384.6h4v4h-4zM335.4 384.6h4v4h-4zM67.4 388.6h4v4h-4zM251.4 388.6h4v4h-4zM303.4 388.6h4v4h-4zM155.4 392.6h4v4h-4zM243.4 392.6h4v4h-4zM251.4 392.6h4v4h-4zM303.4 392.6h4v4h-4zM123.4 396.6h4v4h-4zM247.4 396.6h4v4h-4zM283.4 396.6h8v4h-8zM311.4 396.6h8v4h-8zM303.4 400.6h4v4h-4zM131.4 404.6h4v4h-4zM231.4 404.6h4v4h-4zM239.4 404.6h4v4h-4zM351.4 404.6h4v4h-4zM91.4 408.6h4v4h-4zM227.4 408.6h4v4h-4zM235.4 408.6h4v4h-4zM219.4 412.6h8v4h-8zM223.4 416.6h4v4h-4zM315.4 416.6h4v4h-4zM115.4 420.6h4v4h-4zM323.4 420.6h12v4h-12zM155.4 424.6h4v4h-4zM331.4 424.6h8v4h-8zM151.4 428.6h8v4h-8zM223.4 428.6h4v4h-4zM103.4 432.6h4v4h-4zM155.4 432.6h4v4h-4zM355.4 432.6h4v4h-4zM155.4 436.6h4v4h-4zM343.4 436.6h4v4h-4zM339.4 440.6h4v4h-4zM87.4 444.6h4v4h-4zM87.4 448.6h4v4h-4zM139.4 448.6h4v4h-4zM355.4 448.6h4v4h-4zM375.4 448.6h4v4h-4zM75.4 452.6h8v4h-8zM135.4 452.6h12v4h-12zM159.4 452.6h4v4h-4zM287.4 452.6h4v4h-4zM75.4 456.6h4v4h-4zM139.4 456.6h4v4h-4zM299.4 456.6h4v4h-4zM159.4 460.6h8v4h-8zM295.4 460.6h4v4h-4zM351.4 460.6h4v4h-4zM115.4 464.6h4v4h-4zM151.4 464.6h4v4h-4zM239.4 464.6h4v4h-4zM255.4 464.6h4v4h-4zM271.4 464.6h4v4h-4zM351.4 464.6h4v4h-4zM127.4 468.6h4v4h-4zM263.4 468.6h4v4h-4zM279.4 468.6h4v4h-4zM351.4 468.6h4v4h-4zM123.4 472.6h4v4h-4zM323.4 472.6h4v4h-4zM367.4 472.6h4v4h-4zM147.4 476.6h4v4h-4zM279.4 476.6h4v4h-4zM139.4 480.6h4v4h-4zM195.4 480.6h4v4h-4zM251.4 480.6h4v4h-4zM279.4 480.6h4v4h-4zM375.4 484.6h4v4h-4zM235.4 488.6h4v4h-4zM243.4 488.6h12v4h-12zM375.4 488.6h8v4h-8zM119.4 492.6h4v4h-4zM175.4 492.6h4v4h-4zM223.4 492.6h4v4h-4zM311.4 492.6h4v4h-4zM339.4 492.6h4v4h-4zM135.4 496.6h4v4h-4zM315.4 496.6h4v4h-4zM71.4 500.6h4v4h-4zM139.4 500.6h4v4h-4zM279.4 500.6h4v4h-4zM363.4 500.6h4v4h-4zM131.4 504.6h4v4h-4zM219.4 504.6h4v4h-4zM299.4 504.6h4v4h-4zM367.4 504.6h4v4h-4zM375.4 504.6h4v4h-4zM139.4 508.6h4v4h-4zM227.4 508.6h8v4h-8zM379.4 508.6h4v4h-4zM83.4 512.5h4v4h-4zM215.4 512.5h4v4h-4zM227.4 512.5h4v4h-4zM307.4 512.5h4v4h-4zM375.4 516.5h8v4h-8zM179.4 520.5h4v4h-4zM191.4 520.5h4v4h-4zM259.4 520.5h4v4h-4zM351.4 520.5h4v4h-4zM143.4 524.5h4v4h-4zM179.4 524.5h4v4h-4zM227.4 524.5h4v4h-4zM259.4 524.5h4v4h-4zM303.4 524.5h8v4h-8zM363.4 524.5h8v4h-8zM167.4 528.5h8v4h-8zM251.4 528.5h4v4h-4zM183.4 532.5h4v4h-4zM223.4 532.5h4v4h-4zM331.4 532.5h4v4h-4zM359.4 532.5h4v4h-4zM67.4 536.5h4v4h-4zM311.4 536.5h4v4h-4zM83.4 540.5h4v4h-4zM159.4 540.5h4v4h-4zM219.4 540.5h4v4h-4zM363.4 540.5h4v4h-4zM159.4 544.5h4v4h-4zM167.4 544.5h4v4h-4zM195.4 544.5h8v4h-8zM363.4 544.5h8v4h-8zM67.4 548.5h8v4h-8zM87.4 548.5h4v4h-4zM167.4 548.5h4v4h-4zM195.4 548.5h4v4h-4zM259.4 548.5h4v4h-4zM279.4 548.5h4v4h-4zM351.4 548.5h4v4h-4zM359.4 548.5h4v4h-4zM67.4 552.5h4v4h-4zM123.4 552.5h4v4h-4zM171.4 552.5h4v4h-4zM227.4 552.5h8v4h-8zM347.4 552.5h4v4h-4zM75.4 556.5h4v4h-4zM231.4 556.5h4v4h-4zM251.4 556.5h4v4h-4zM287.4 556.5h4v4h-4zM127.4 560.5h4v4h-4zM139.4 560.5h4v4h-4zM303.4 560.5h4v4h-4zM83.4 564.5h4v4h-4zM143.4 564.5h4v4h-4zM251.4 564.5h4v4h-4zM299.4 564.5h4v4h-4zM307.4 564.5h8v4h-8zM335.4 564.5h4v4h-4zM359.4 564.5h4v4h-4zM75.4 568.5h4v4h-4zM107.4 568.5h4v4h-4zM335.4 568.5h4v4h-4zM183.4 572.5h4v4h-4zM307.4 572.5h4v4h-4zM315.4 572.5h4v4h-4zM87.4 576.5h4v4h-4zM131.4 576.5h4v4h-4zM155.4 576.5h4v4h-4zM179.4 576.5h4v4h-4zM307.4 576.5h4v4h-4zM371.4 576.5h4v4h-4zM151.4 580.5h4v4h-4zM211.4 580.5h4v4h-4zM291.4 580.5h4v4h-4zM299.4 580.5h4v4h-4zM371.4 580.5h4v4h-4zM175.4 584.5h8v4h-8zM271.4 584.5h4v4h-4zM343.4 584.5h4v4h-4zM207.4 588.5h4v4h-4zM347.4 588.5h4v4h-4zM191.4 592.5h8v4h-8zM203.4 592.5h4v4h-4zM227.4 596.5h4v4h-4zM383.4 596.5h4v4h-4zM303.4 600.5h4v4h-4zM383.4 600.5h4v4h-4zM67.4 604.5h4v4h-4zM175.4 604.5h4v4h-4zM187.4 604.5h4v4h-4zM383.4 604.5h4v4h-4zM147.4 608.5h4v4h-4zM171.4 608.5h4v4h-4zM207.4 608.5h4v4h-4zM223.4 608.5h4v4h-4zM271.4 608.5h4v4h-4zM271.4 612.5h4v4h-4zM295.4 612.5h4v4h-4zM351.4 612.5h4v4h-4zM367.4 612.5h4v4h-4zM227.4 616.5h4v4h-4zM243.4 616.5h4v4h-4zM259.4 616.5h4v4h-4zM299.4 616.5h4v4h-4zM383.4 616.5h4v4h-4zM119.4 620.5h4v4h-4zM291.4 620.5h4v4h-4zM191.4 624.5h4v4h-4zM223.4 624.5h4v4h-4zM295.4 624.5h4v4h-4zM95.4 628.5h4v4h-4zM239.4 628.5h4v4h-4zM71.4 632.5h4v4h-4zM175.4 632.5h4v4h-4zM247.4 632.5h4v4h-4zM263.4 632.5h4v4h-4zM139.4 636.5h4v4h-4zM163.4 636.5h4v4h-4zM283.4 636.5h8v4h-8zM311.4 636.5h4v4h-4zM163.4 640.5h4v4h-4zM283.4 640.5h4v4h-4zM115.4 644.5h4v4h-4zM155.4 644.5h4v4h-4zM203.4 644.5h4v4h-4zM307.4 644.5h4v4h-4zM363.4 644.5h4v4h-4zM227.4 648.5h4v4h-4zM235.4 648.5h12v4h-12zM291.4 648.5h12v4h-12zM111.4 652.5h4v4h-4zM303.4 652.5h4v4h-4zM335.4 652.5h4v4h-4zM375.4 652.5h4v4h-4zM83.4 656.5h4v4h-4zM339.4 664.5h4v4h-4z"/>
<path fill="#424242" d="M199.4 348.6h4v4h-4zM379.4 348.6h4v4h-4zM87.4 352.6h4v4h-4zM259.4 352.6h8v4h-8zM283.4 352.6h4v4h-4zM183.4 356.6h8v4h-8zM263.4 356.6h4v4h-4zM287.4 356.6h4v4h-4zM351.4 356.6h4v4h-4zM155.4 360.6h4v4h-4zM183.4 364.6h4v4h-4zM135.4 368.6h4v4h-4zM283.4 368.6h4v4h-4zM91.4 372.6h4v4h-4zM235.4 372.6h4v4h-4zM303.4 372.6h4v4h-4zM83.4 376.6h8v4h-8zM207.4 376.6h4v4h-4zM239.4 376.6h4v4h-4zM271.4 376.6h4v4h-4zM383.4 376.6h4v4h-4zM271.4 380.6h4v4h-4zM299.4 380.6h4v4h-4zM67.4 384.6h4v4h-4zM107.4 384.6h4v4h-4zM355.4 384.6h4v4h-4zM107.4 388.6h4v4h-4zM123.4 392.6h4v4h-4zM235.4 392.6h8v4h-8zM239.4 396.6h4v4h-4zM339.4 396.6h4v4h-4zM187.4 400.6h4v4h-4zM239.4 400.6h4v4h-4zM263.4 400.6h4v4h-4zM307.4 400.6h4v4h-4zM87.4 404.6h4v4h-4zM111.4 408.6h4v4h-4zM311.4 408.6h4v4h-4zM383.4 408.6h4v4h-4zM307.4 412.6h4v4h-4zM103.4 416.6h4v4h-4zM227.4 416.6h4v4h-4zM95.4 420.6h4v4h-4zM119.4 420.6h4v4h-4zM335.4 420.6h8v4h-8zM355.4 420.6h4v4h-4zM371.4 420.6h4v4h-4zM199.4 424.6h4v4h-4zM267.4 424.6h4v4h-4zM323.4 424.6h4v4h-4zM339.4 424.6h4v4h-4zM363.4 424.6h4v4h-4zM107.4 428.6h8v4h-8zM267.4 428.6h4v4h-4zM339.4 428.6h4v4h-4zM351.4 428.6h4v4h-4zM359.4 428.6h4v4h-4zM347.4 432.6h8v4h-8zM103.4 436.6h4v4h-4zM323.4 436.6h8v4h-8zM367.4 440.6h4v4h-4zM367.4 444.6h4v4h-4zM91.4 448.6h4v4h-4zM195.4 448.6h8v4h-8zM291.4 448.6h4v4h-4zM371.4 448.6h4v4h-4zM71.4 452.6h4v4h-4zM371.4 452.6h4v4h-4zM71.4 456.6h4v4h-4zM79.4 456.6h4v4h-4zM183.4 456.6h4v4h-4zM295.4 456.6h4v4h-4zM131.4 464.6h4v4h-4zM347.4 464.6h4v4h-4zM291.4 468.6h4v4h-4zM347.4 468.6h4v4h-4zM135.4 472.6h4v4h-4zM143.4 472.6h4v4h-4zM115.4 476.6h8v4h-8zM143.4 476.6h4v4h-4zM199.4 476.6h4v4h-4zM231.4 476.6h4v4h-4zM267.4 476.6h4v4h-4zM283.4 476.6h4v4h-4zM167.4 480.6h4v4h-4zM119.4 484.6h4v4h-4zM227.4 484.6h4v4h-4zM323.4 484.6h4v4h-4zM311.4 488.6h4v4h-4zM67.4 492.6h4v4h-4zM335.4 492.6h4v4h-4zM375.4 492.6h8v4h-8zM75.4 496.6h4v4h-4zM379.4 496.6h4v4h-4zM75.4 500.6h4v4h-4zM179.4 500.6h4v4h-4zM375.4 500.6h4v4h-4zM371.4 504.6h4v4h-4zM315.4 508.6h4v4h-4zM383.4 508.6h4v4h-4zM67.4 512.5h4v4h-4zM139.4 512.5h4v4h-4zM223.4 512.5h4v4h-4zM247.4 516.5h4v4h-4zM147.4 520.5h8v4h-8zM167.4 520.5h8v4h-8zM347.4 520.5h4v4h-4zM375.4 520.5h4v4h-4zM183.4 524.5h4v4h-4zM215.4 524.5h4v4h-4zM243.4 524.5h4v4h-4zM263.4 524.5h4v4h-4zM227.4 528.5h4v4h-4zM247.4 528.5h4v4h-4zM267.4 528.5h4v4h-4zM359.4 528.5h4v4h-4zM239.4 532.5h8v4h-8zM327.4 532.5h4v4h-4zM203.4 536.5h8v4h-8zM115.4 540.5h4v4h-4zM283.4 540.5h8v4h-8zM119.4 544.5h4v4h-4zM163.4 544.5h4v4h-4zM287.4 544.5h4v4h-4zM351.4 544.5h4v4h-4zM355.4 548.5h4v4h-4zM251.4 552.5h8v4h-8zM287.4 552.5h4v4h-4zM71.4 556.5h4v4h-4zM275.4 560.5h4v4h-4zM299.4 560.5h4v4h-4zM87.4 564.5h4v4h-4zM295.4 564.5h4v4h-4zM363.4 564.5h4v4h-4zM183.4 576.5h4v4h-4zM231.4 576.5h4v4h-4zM291.4 576.5h4v4h-4zM315.4 576.5h4v4h-4zM383.4 576.5h4v4h-4zM131.4 580.5h4v4h-4zM179.4 580.5h4v4h-4zM295.4 580.5h4v4h-4zM311.4 580.5h4v4h-4zM347.4 584.5h4v4h-4zM355.4 584.5h4v4h-4zM375.4 584.5h4v4h-4zM375.4 588.5h4v4h-4zM227.4 592.5h4v4h-4zM243.4 592.5h4v4h-4zM379.4 596.5h4v4h-4zM239.4 600.5h8v4h-8zM143.4 608.5h4v4h-4zM227.4 608.5h4v4h-4zM171.4 612.5h4v4h-4zM219.4 612.5h4v4h-4zM231.4 612.5h4v4h-4zM287.4 612.5h4v4h-4zM371.4 612.5h4v4h-4zM383.4 612.5h4v4h-4zM175.4 616.5h4v4h-4zM287.4 616.5h4v4h-4zM303.4 616.5h4v4h-4zM315.4 616.5h8v4h-8zM335.4 616.5h4v4h-4zM351.4 616.5h4v4h-4zM115.4 620.5h4v4h-4zM323.4 620.5h4v4h-4zM371.4 620.5h4v4h-4zM115.4 624.5h4v4h-4zM207.4 624.5h4v4h-4zM319.4 624.5h8v4h-8zM195.4 628.5h4v4h-4zM267.4 628.5h8v4h-8zM299.4 628.5h4v4h-4zM111.4 632.5h4v4h-4zM191.4 632.5h4v4h-4zM303.4 632.5h4v4h-4zM131.4 636.5h4v4h-4zM115.4 640.5h4v4h-4zM131.4 640.5h4v4h-4zM167.4 640.5h4v4h-4zM307.4 640.5h8v4h-8zM359.4 640.5h4v4h-4zM267.4 644.5h4v4h-4zM375.4 644.5h4v4h-4zM155.4 648.5h4v4h-4zM259.4 648.5h4v4h-4zM323.4 648.5h4v4h-4zM239.4 652.5h8v4h-8zM259.4 652.5h8v4h-8zM319.4 652.5h4v4h-4zM383.4 652.5h4v4h-4zM111.4 656.5h4v4h-4zM375.4 656.5h4v4h-4zM147.4 660.5h4v4h-4zM339.4 660.5h8v4h-8zM147.4 664.5h8v4h-8zM251.4 664.5h8v4h-8zM331.4 664.5h4v4h-4z"/>
<path fill="#484848" d="M75.4 348.6h4v4h-4zM143.4 352.6h4v4h-4zM255.4 352.6h4v4h-4zM111.4 356.6h4v4h-4zM355.4 356.6h4v4h-4zM379.4 356.6h4v4h-4zM159.4 360.6h4v4h-4zM343.4 360.6h4v4h-4zM355.4 360.6h4v4h-4zM187.4 364.6h4v4h-4zM295.4 364.6h4v4h-4zM383.4 364.6h4v4h-4zM91.4 368.6h4v4h-4zM151.4 376.6h4v4h-4zM239.4 380.6h4v4h-4zM231.4 388.6h4v4h-4zM307.4 392.6h4v4h-4zM303.4 396.6h4v4h-4zM127.4 400.6h8v4h-8zM155.4 400.6h4v4h-4zM183.4 400.6h4v4h-4zM87.4 408.6h4v4h-4zM187.4 408.6h4v4h-4zM99.4 412.6h8v4h-8zM311.4 412.6h4v4h-4zM95.4 416.6h4v4h-4zM119.4 416.6h4v4h-4zM187.4 416.6h4v4h-4zM355.4 416.6h4v4h-4zM99.4 420.6h4v4h-4zM351.4 420.6h4v4h-4zM247.4 428.6h4v4h-4zM355.4 428.6h4v4h-4zM99.4 436.6h4v4h-4zM239.4 436.6h4v4h-4zM335.4 436.6h8v4h-8zM347.4 436.6h4v4h-4zM135.4 444.6h8v4h-8zM195.4 444.6h8v4h-8zM135.4 448.6h4v4h-4zM287.4 448.6h4v4h-4zM71.4 460.6h4v4h-4zM143.4 460.6h4v4h-4zM135.4 464.6h4v4h-4zM155.4 464.6h4v4h-4zM163.4 464.6h4v4h-4zM267.4 464.6h4v4h-4zM111.4 468.6h4v4h-4zM135.4 468.6h4v4h-4zM163.4 468.6h4v4h-4zM139.4 472.6h4v4h-4zM127.4 476.6h4v4h-4zM127.4 480.6h4v4h-4zM151.4 480.6h4v4h-4zM235.4 480.6h4v4h-4zM271.4 484.6h8v4h-8zM315.4 484.6h4v4h-4zM223.4 488.6h4v4h-4zM227.4 492.6h8v4h-8zM331.4 492.6h4v4h-4zM279.4 496.6h4v4h-4zM375.4 496.6h4v4h-4zM315.4 504.6h4v4h-4zM223.4 508.6h4v4h-4zM335.4 512.5h4v4h-4zM67.4 516.5h4v4h-4zM143.4 516.5h4v4h-4zM191.4 516.5h4v4h-4zM143.4 520.5h4v4h-4zM195.4 520.5h4v4h-4zM255.4 520.5h4v4h-4zM379.4 520.5h4v4h-4zM147.4 524.5h8v4h-8zM171.4 524.5h4v4h-4zM251.4 524.5h4v4h-4zM179.4 528.5h4v4h-4zM239.4 528.5h4v4h-4zM339.4 528.5h4v4h-4zM363.4 528.5h4v4h-4zM179.4 532.5h4v4h-4zM87.4 540.5h4v4h-4zM215.4 540.5h4v4h-4zM359.4 540.5h4v4h-4zM279.4 544.5h4v4h-4zM255.4 548.5h4v4h-4zM283.4 548.5h4v4h-4zM347.4 548.5h4v4h-4zM75.4 552.5h4v4h-4zM91.4 552.5h4v4h-4zM219.4 552.5h8v4h-8zM283.4 552.5h4v4h-4zM343.4 552.5h4v4h-4zM67.4 556.5h4v4h-4zM79.4 556.5h4v4h-4zM175.4 556.5h4v4h-4zM83.4 560.5h4v4h-4zM143.4 560.5h4v4h-4zM139.4 564.5h4v4h-4zM267.4 564.5h4v4h-4zM383.4 568.5h4v4h-4zM187.4 576.5h4v4h-4zM207.4 576.5h4v4h-4zM295.4 576.5h4v4h-4zM375.4 576.5h4v4h-4zM235.4 580.5h4v4h-4zM275.4 584.5h4v4h-4zM379.4 584.5h4v4h-4zM271.4 588.5h4v4h-4zM351.4 588.5h4v4h-4zM207.4 592.5h4v4h-4zM183.4 600.5h4v4h-4zM147.4 604.5h4v4h-4zM179.4 612.5h4v4h-4zM223.4 612.5h8v4h-8zM239.4 612.5h4v4h-4zM291.4 612.5h4v4h-4zM303.4 612.5h4v4h-4zM223.4 616.5h4v4h-4zM239.4 616.5h4v4h-4zM291.4 616.5h4v4h-4zM311.4 616.5h4v4h-4zM367.4 616.5h4v4h-4zM219.4 620.5h8v4h-8zM287.4 620.5h4v4h-4zM295.4 620.5h4v4h-4zM319.4 620.5h4v4h-4zM71.4 628.5h4v4h-4zM303.4 628.5h4v4h-4zM171.4 632.5h4v4h-4zM239.4 632.5h8v4h-8zM171.4 636.5h4v4h-4zM135.4 640.5h4v4h-4zM207.4 640.5h4v4h-4zM271.4 640.5h4v4h-4zM263.4 648.5h4v4h-4zM287.4 648.5h4v4h-4zM211.4 652.5h4v4h-4zM91.4 656.5h4v4h-4zM135.4 660.5h8v4h-8zM319.4 660.5h4v4h-4zM87.4 664.5h8v4h-8zM327.4 664.5h4v4h-4z"/>
<path fill="#4e4e4e" d="M87.4 348.6h4v4h-4zM379.4 352.6h4v4h-4zM147.4 356.6h4v4h-4zM183.4 360.6h8v4h-8zM347.4 360.6h8v4h-8zM195.4 364.6h4v4h-4zM299.4 364.6h4v4h-4zM299.4 368.6h4v4h-4zM383.4 372.6h4v4h-4zM303.4 376.6h4v4h-4zM151.4 380.6h4v4h-4zM303.4 380.6h4v4h-4zM111.4 384.6h4v4h-4zM231.4 384.6h8v4h-8zM351.4 384.6h4v4h-4zM119.4 388.6h4v4h-4zM235.4 388.6h4v4h-4zM355.4 388.6h4v4h-4zM163.4 396.6h4v4h-4zM163.4 400.6h4v4h-4zM243.4 400.6h4v4h-4zM183.4 408.6h4v4h-4zM307.4 408.6h4v4h-4zM191.4 416.6h4v4h-4zM327.4 424.6h4v4h-4zM363.4 428.6h4v4h-4zM239.4 432.6h4v4h-4zM343.4 432.6h4v4h-4zM151.4 436.6h4v4h-4zM239.4 440.6h4v4h-4zM283.4 444.6h4v4h-4zM375.4 444.6h4v4h-4zM147.4 452.6h8v4h-8zM291.4 452.6h4v4h-4zM151.4 456.6h4v4h-4zM287.4 456.6h8v4h-8zM147.4 460.6h4v4h-4zM159.4 464.6h4v4h-4zM131.4 468.6h4v4h-4zM179.4 468.6h4v4h-4zM299.4 468.6h4v4h-4zM167.4 472.6h4v4h-4zM267.4 472.6h4v4h-4zM371.4 472.6h4v4h-4zM163.4 476.6h4v4h-4zM191.4 476.6h4v4h-4zM115.4 480.6h4v4h-4zM135.4 484.6h4v4h-4zM235.4 484.6h4v4h-4zM115.4 488.6h4v4h-4zM327.4 488.6h4v4h-4zM335.4 488.6h8v4h-8zM243.4 492.6h4v4h-4zM67.4 496.6h4v4h-4zM135.4 500.6h4v4h-4zM283.4 500.6h4v4h-4zM139.4 504.6h4v4h-4zM319.4 508.6h4v4h-4zM219.4 512.5h4v4h-4zM215.4 516.5h4v4h-4zM223.4 516.5h4v4h-4zM255.4 516.5h4v4h-4zM139.4 520.5h4v4h-4zM251.4 520.5h4v4h-4zM183.4 528.5h4v4h-4zM199.4 528.5h4v4h-4zM243.4 528.5h4v4h-4zM307.4 528.5h4v4h-4zM307.4 532.5h4v4h-4zM115.4 536.5h4v4h-4zM123.4 536.5h4v4h-4zM71.4 540.5h4v4h-4zM355.4 540.5h4v4h-4zM71.4 544.5h4v4h-4zM79.4 552.5h4v4h-4zM171.4 556.5h4v4h-4zM271.4 560.5h4v4h-4zM295.4 560.5h4v4h-4zM275.4 564.5h4v4h-4zM383.4 572.5h4v4h-4zM155.4 580.5h4v4h-4zM207.4 580.5h4v4h-4zM231.4 580.5h4v4h-4zM275.4 580.5h4v4h-4zM275.4 588.5h4v4h-4zM179.4 604.5h4v4h-4zM183.4 608.5h4v4h-4zM235.4 612.5h4v4h-4zM219.4 616.5h4v4h-4zM283.4 616.5h4v4h-4zM295.4 616.5h4v4h-4zM271.4 636.5h4v4h-4zM211.4 640.5h4v4h-4zM267.4 640.5h4v4h-4zM211.4 644.5h4v4h-4zM231.4 644.5h4v4h-4zM207.4 648.5h4v4h-4zM99.4 664.5h4v4h-4zM139.4 664.5h4v4h-4zM319.4 664.5h8v4h-8z"/>
<path fill="#545454" d="M243.4 348.6h4v4h-4zM115.4 352.6h4v4h-4zM239.4 352.6h4v4h-4zM75.4 356.6h4v4h-4zM115.4 356.6h4v4h-4zM143.4 356.6h4v4h-4zM83.4 372.6h4v4h-4zM151.4 372.6h4v4h-4zM283.4 372.6h4v4h-4zM231.4 376.6h4v4h-4zM123.4 388.6h4v4h-4zM243.4 396.6h4v4h-4zM307.4 396.6h4v4h-4zM91.4 404.6h4v4h-4zM187.4 404.6h4v4h-4zM107.4 408.6h4v4h-4zM355.4 408.6h4v4h-4zM111.4 412.6h4v4h-4zM227.4 412.6h8v4h-8zM355.4 412.6h4v4h-4zM243.4 428.6h4v4h-4zM99.4 432.6h4v4h-4zM339.4 432.6h4v4h-4zM283.4 440.6h4v4h-4zM375.4 440.6h4v4h-4zM287.4 444.6h4v4h-4zM287.4 460.6h8v4h-8zM295.4 464.6h4v4h-4zM275.4 468.6h4v4h-4zM131.4 472.6h4v4h-4zM275.4 472.6h4v4h-4zM131.4 476.6h4v4h-4zM139.4 476.6h4v4h-4zM167.4 476.6h4v4h-4zM275.4 476.6h4v4h-4zM115.4 484.6h4v4h-4zM127.4 484.6h4v4h-4zM319.4 484.6h4v4h-4zM123.4 488.6h4v4h-4zM231.4 488.6h4v4h-4zM331.4 488.6h4v4h-4zM327.4 492.6h4v4h-4zM71.4 496.6h4v4h-4zM283.4 496.6h4v4h-4zM319.4 504.6h4v4h-4zM215.4 508.6h4v4h-4zM251.4 516.5h4v4h-4zM247.4 520.5h4v4h-4zM167.4 524.5h4v4h-4zM207.4 528.5h4v4h-4zM263.4 528.5h4v4h-4zM199.4 532.5h4v4h-4zM359.4 544.5h4v4h-4zM311.4 556.5h4v4h-4zM87.4 560.5h4v4h-4zM271.4 564.5h4v4h-4zM103.4 580.5h4v4h-4zM351.4 584.5h4v4h-4zM223.4 588.5h4v4h-4zM243.4 596.5h4v4h-4zM307.4 616.5h4v4h-4zM283.4 620.5h4v4h-4zM191.4 628.5h4v4h-4zM271.4 632.5h4v4h-4zM135.4 636.5h4v4h-4zM167.4 636.5h4v4h-4zM207.4 644.5h4v4h-4zM87.4 660.5h12v4h-12zM163.4 660.5h4v4h-4zM167.4 664.5h4v4h-4zM379.4 664.5h8v4h-8z"/>
<path fill="#5a5a5a" d="M83.4 348.6h4v4h-4zM83.4 356.6h4v4h-4zM87.4 368.6h4v4h-4zM287.4 372.6h4v4h-4zM299.4 372.6h4v4h-4zM299.4 376.6h4v4h-4zM231.4 380.6h4v4h-4zM155.4 396.6h4v4h-4zM231.4 408.6h4v4h-4zM351.4 408.6h4v4h-4zM99.4 416.6h4v4h-4zM115.4 416.6h4v4h-4zM151.4 432.6h4v4h-4zM143.4 456.6h4v4h-4zM291.4 464.6h4v4h-4zM267.4 468.6h4v4h-4zM295.4 468.6h4v4h-4zM195.4 476.6h4v4h-4zM271.4 480.6h4v4h-4zM231.4 484.6h4v4h-4zM251.4 484.6h4v4h-4zM151.4 488.6h4v4h-4zM227.4 488.6h4v4h-4zM319.4 492.6h4v4h-4zM139.4 516.5h4v4h-4zM195.4 516.5h4v4h-4zM247.4 524.5h4v4h-4zM303.4 532.5h4v4h-4zM123.4 540.5h4v4h-4zM283.4 544.5h4v4h-4zM83.4 552.5h4v4h-4zM83.4 556.5h4v4h-4zM307.4 556.5h4v4h-4zM311.4 572.5h4v4h-4zM375.4 580.5h4v4h-4zM239.4 596.5h4v4h-4zM183.4 604.5h4v4h-4zM175.4 608.5h8v4h-8zM67.4 628.5h4v4h-4zM267.4 636.5h4v4h-4zM211.4 648.5h4v4h-4zM231.4 648.5h4v4h-4zM87.4 656.5h4v4h-4zM319.4 656.5h4v4h-4zM383.4 656.5h4v4h-4zM95.4 664.5h4v4h-4zM163.4 664.5h4v4h-4z"/>
<path fill="#606060" d="M383.4 352.6h4v4h-4zM383.4 368.6h4v4h-4zM87.4 372.6h4v4h-4zM235.4 380.6h4v4h-4zM351.4 388.6h4v4h-4zM183.4 404.6h4v4h-4zM351.4 412.6h4v4h-4zM351.4 416.6h4v4h-4zM239.4 428.6h4v4h-4zM371.4 440.6h4v4h-4zM371.4 444.6h4v4h-4zM127.4 472.6h4v4h-4zM163.4 472.6h4v4h-4zM135.4 476.6h4v4h-4zM271.4 476.6h4v4h-4zM231.4 480.6h4v4h-4zM275.4 480.6h4v4h-4zM119.4 488.6h4v4h-4zM323.4 488.6h4v4h-4zM323.4 492.6h4v4h-4zM135.4 504.6h4v4h-4zM219.4 516.5h4v4h-4zM215.4 520.5h4v4h-4zM223.4 520.5h4v4h-4zM219.4 528.5h4v4h-4zM303.4 528.5h4v4h-4zM207.4 532.5h4v4h-4zM119.4 536.5h4v4h-4zM119.4 540.5h4v4h-4zM67.4 544.5h4v4h-4zM355.4 544.5h4v4h-4zM91.4 556.5h4v4h-4zM307.4 560.5h8v4h-8zM383.4 588.5h4v4h-4zM379.4 592.5h4v4h-4zM175.4 612.5h4v4h-4zM307.4 612.5h4v4h-4zM371.4 616.5h4v4h-4zM67.4 632.5h4v4h-4zM379.4 660.5h8v4h-8zM135.4 664.5h4v4h-4z"/>
<path fill="#666666" d="M239.4 348.6h4v4h-4zM75.4 352.6h4v4h-4zM79.4 356.6h4v4h-4zM383.4 356.6h4v4h-4zM107.4 412.6h4v4h-4zM147.4 456.6h4v4h-4zM271.4 468.6h4v4h-4zM271.4 472.6h4v4h-4zM315.4 492.6h4v4h-4zM219.4 508.6h4v4h-4zM203.4 528.5h4v4h-4zM67.4 540.5h4v4h-4zM311.4 576.5h4v4h-4zM379.4 588.5h4v4h-4zM383.4 592.5h4v4h-4zM267.4 632.5h4v4h-4zM379.4 652.5h4v4h-4z"/>
<path fill="#6c6c6c" d="M79.4 348.6h4v4h-4zM79.4 352.6h8v4h-8zM235.4 376.6h4v4h-4zM159.4 396.6h4v4h-4zM159.4 400.6h4v4h-4zM131.4 480.6h8v4h-8zM131.4 484.6h4v4h-4zM151.4 484.6h4v4h-4zM315.4 488.6h8v4h-8zM219.4 520.5h4v4h-4zM219.4 524.5h8v4h-8zM223.4 528.5h4v4h-4zM203.4 532.5h4v4h-4zM87.4 552.5h4v4h-4zM87.4 556.5h4v4h-4zM379.4 656.5h4v4h-4z"/>
</g>
<circle cx="349.7" cy="461.7" r="10.8" fill="url(#blob)"/>
<circle cx="101.4" cy="486.4" r="10.3" fill="url(#blob)"/>
<circle cx="96.7" cy="501.8" r="10.3" fill="url(#blob)"/>
<circle cx="99.2" cy="494" r="7.0" fill="url(#blob)"/>
<circle cx="213.5" cy="504.6" r="10.8" fill="url(#blob)"/>
<circle cx="122.4" cy="541.6" r="10.6" fill="url(#blob)"/>
<circle cx="172.2" cy="630.1" r="10.7" fill="url(#blob)"/>
<circle cx="79.8" cy="544.2" r="7.0" fill="url(#blob)"/>
<ellipse cx="191.2" cy="453.4" rx="7.5" ry="12" fill="url(#soft)" opacity="0.5"/>
<ellipse cx="233.5" cy="559.2" rx="8.5" ry="6.5" transform="rotate(-35 233.5 559.2)" fill="url(#blob)"/>
<circle cx="147.8" cy="460.3" r="8.5" fill="url(#soft)" opacity="0.95"/>
<circle cx="90.3" cy="459.7" r="8" fill="url(#soft)" opacity="0.3"/>
<circle cx="89" cy="378.7" r="9" fill="url(#soft)" opacity="0.6"/>
<circle cx="246" cy="432.6" r="8" fill="url(#soft)" opacity="0.45"/>
<circle cx="204.5" cy="401.5" r="8" fill="url(#soft)" opacity="0.35"/>
<circle cx="358.8" cy="393" r="9" fill="url(#soft)" opacity="0.5"/>
<circle cx="178.8" cy="604.8" r="8" fill="url(#soft)" opacity="0.35"/>
<circle cx="300" cy="418" r="7" fill="url(#soft)" opacity="0.3"/>
</g>
<rect x="83.40" y="364.55" width="280.05" height="280.90" fill="none" stroke="#000" stroke-width="1.111"/>
<line x1="123.40" y1="364.55" x2="123.40" y2="359.69" stroke="#000" stroke-width="1.111"/>
<line x1="123.40" y1="645.45" x2="123.40" y2="650.31" stroke="#000" stroke-width="1.111"/>
<text transform="translate(123.40 665.00)" font-size="13.889" text-anchor="middle">3<tspan dy="-5" font-size="9.7">h</tspan><tspan dy="5">29</tspan><tspan dy="-5" font-size="9.7">m</tspan></text>
<line x1="193.50" y1="364.55" x2="193.50" y2="359.69" stroke="#000" stroke-width="1.111"/>
<line x1="193.50" y1="645.45" x2="193.50" y2="650.31" stroke="#000" stroke-width="1.111"/>
<text transform="translate(193.50 665.00)" font-size="13.889" text-anchor="middle">28<tspan dy="-5" font-size="9.7">m</tspan></text>
<line x1="263.40" y1="364.55" x2="263.40" y2="359.69" stroke="#000" stroke-width="1.111"/>
<line x1="263.40" y1="645.45" x2="263.40" y2="650.31" stroke="#000" stroke-width="1.111"/>
<text transform="translate(263.40 665.00)" font-size="13.889" text-anchor="middle">27<tspan dy="-5" font-size="9.7">m</tspan></text>
<line x1="333.30" y1="364.55" x2="333.30" y2="359.69" stroke="#000" stroke-width="1.111"/>
<line x1="333.30" y1="645.45" x2="333.30" y2="650.31" stroke="#000" stroke-width="1.111"/>
<text transform="translate(333.30 665.00)" font-size="13.889" text-anchor="middle">26<tspan dy="-5" font-size="9.7">m</tspan></text>
<line x1="83.40" y1="421.20" x2="78.54" y2="421.20" stroke="#000" stroke-width="1.111"/>
<line x1="363.45" y1="421.20" x2="368.31" y2="421.20" stroke="#000" stroke-width="1.111"/>
<text transform="translate(72.90 425.20) scale(0.965 1.000)" font-size="13.889" text-anchor="end">0°30'</text>
<line x1="83.40" y1="491.20" x2="78.54" y2="491.20" stroke="#000" stroke-width="1.111"/>
<line x1="363.45" y1="491.20" x2="368.31" y2="491.20" stroke="#000" stroke-width="1.111"/>
<text transform="translate(72.90 495.20) scale(0.965 1.000)" font-size="13.889" text-anchor="end">15'</text>
<line x1="83.40" y1="561.00" x2="78.54" y2="561.00" stroke="#000" stroke-width="1.111"/>
<line x1="363.45" y1="561.00" x2="368.31" y2="561.00" stroke="#000" stroke-width="1.111"/>
<text transform="translate(72.90 565.00) scale(0.965 1.000)" font-size="13.889" text-anchor="end">00'</text>
<line x1="83.40" y1="631.30" x2="78.54" y2="631.30" stroke="#000" stroke-width="1.111"/>
<line x1="363.45" y1="631.30" x2="368.31" y2="631.30" stroke="#000" stroke-width="1.111"/>
<text transform="translate(72.90 635.30) scale(0.965 1.000)" font-size="13.889" text-anchor="end">-0°15'</text>
<text transform="translate(222.60 356.40) scale(0.975 1.070)" font-size="16.667" text-anchor="middle">GLEAM</text>
<text transform="translate(21.00 507.30) rotate(-90) scale(0.960 1.000)" font-size="13.889" text-anchor="middle">Dec</text>
<text transform="translate(223.00 686.00) scale(0.940 1.000)" font-size="13.889" text-anchor="middle">RA</text>
<path d="M210.44 502.23L218.76 510.56M210.44 510.56L218.76 502.23" stroke="#0000ff" stroke-width="2.08" fill="none"/>
<path d="M219.44 501.23L227.76 509.56M219.44 509.56L227.76 501.23" stroke="#ff0000" stroke-width="2.08" fill="none"/>
<rect x="371.55" y="365.50" width="9.05" height="279.70" fill="url(#cb)" stroke="#000" stroke-width="1.111"/>
<line x1="380.60" y1="384.30" x2="385.46" y2="384.30" stroke="#000" stroke-width="1.111"/>
<text transform="translate(390.32 389.30)" font-size="13.889" text-anchor="start">100</text>
<line x1="380.60" y1="427.00" x2="385.46" y2="427.00" stroke="#000" stroke-width="1.111"/>
<text transform="translate(390.32 432.00)" font-size="13.889" text-anchor="start">80</text>
<line x1="380.60" y1="469.70" x2="385.46" y2="469.70" stroke="#000" stroke-width="1.111"/>
<text transform="translate(390.32 474.70)" font-size="13.889" text-anchor="start">60</text>
<line x1="380.60" y1="512.40" x2="385.46" y2="512.40" stroke="#000" stroke-width="1.111"/>
<text transform="translate(390.32 517.40)" font-size="13.889" text-anchor="start">40</text>
<line x1="380.60" y1="555.10" x2="385.46" y2="555.10" stroke="#000" stroke-width="1.111"/>
<text transform="translate(390.32 560.10)" font-size="13.889" text-anchor="start">20</text>
<line x1="380.60" y1="597.80" x2="385.46" y2="597.80" stroke="#000" stroke-width="1.111"/>
<text transform="translate(390.32 602.80)" font-size="13.889" text-anchor="start">0</text>
<line x1="380.60" y1="640.50" x2="385.46" y2="640.50" stroke="#000" stroke-width="1.111"/>
<text transform="translate(390.32 645.50) scale(0.940 1.000)" font-size="13.889" text-anchor="start">−20</text>
<text transform="translate(434.50 505.00) rotate(-90)" font-size="13.889" text-anchor="middle">Brightness (mJy/beam)</text>
<g clip-path="url(#c3)">
<line x1="461.45" y1="173.80" x2="821.50" y2="173.80" stroke="#000" stroke-width="2.083" stroke-dasharray="7.71 3.33"/>
<line x1="461.45" y1="209.00" x2="821.50" y2="209.00" stroke="#000" stroke-width="2.083" stroke-dasharray="7.71 3.33"/>
<line x1="461.45" y1="243.80" x2="821.50" y2="243.80" stroke="#000" stroke-width="2.083" stroke-dasharray="7.71 3.33"/>
<polyline fill="none" stroke="#1f77b4" stroke-width="2.08" stroke-linejoin="round" points="461.5,223.8 476.5,293.9 491.5,202.1 506.5,257.0 521.5,272.4 536.5,258.1 551.5,221.5 566.5,299.0 581.5,278.7 596.5,233.0 611.5,239.2 626.5,245.5 641.5,236.7 656.4,247.2 671.4,217.4 686.4,239.1 701.4,238.8 716.4,146.2 731.4,149.7 746.4,131.3 761.4,44.2 776.4,86.2 791.4,106.9 806.4,121.8 821.4,212.0"/>
</g>
<rect x="461.45" y="32.50" width="360.05" height="279.75" fill="none" stroke="#000" stroke-width="1.111"/>
<line x1="461.50" y1="312.25" x2="461.50" y2="317.11" stroke="#000" stroke-width="1.111"/>
<text transform="translate(461.50 332.57)" font-size="13.889" text-anchor="middle">0</text>
<line x1="536.48" y1="312.25" x2="536.48" y2="317.11" stroke="#000" stroke-width="1.111"/>
<text transform="translate(536.48 332.57)" font-size="13.889" text-anchor="middle">20</text>
<line x1="611.46" y1="312.25" x2="611.46" y2="317.11" stroke="#000" stroke-width="1.111"/>
<text transform="translate(611.46 332.57)" font-size="13.889" text-anchor="middle">40</text>
<line x1="686.44" y1="312.25" x2="686.44" y2="317.11" stroke="#000" stroke-width="1.111"/>
<text transform="translate(686.44 332.57)" font-size="13.889" text-anchor="middle">60</text>
<line x1="761.42" y1="312.25" x2="761.42" y2="317.11" stroke="#000" stroke-width="1.111"/>
<text transform="translate(761.42 332.57)" font-size="13.889" text-anchor="middle">80</text>
<line x1="821.50" y1="54.20" x2="826.36" y2="54.20" stroke="#000" stroke-width="1.111"/>
<text transform="translate(831.22 59.80)" font-size="13.889" text-anchor="start">600</text>
<line x1="821.50" y1="105.90" x2="826.36" y2="105.90" stroke="#000" stroke-width="1.111"/>
<text transform="translate(831.22 111.50)" font-size="13.889" text-anchor="start">400</text>
<line x1="821.50" y1="157.60" x2="826.36" y2="157.60" stroke="#000" stroke-width="1.111"/>
<text transform="translate(831.22 163.20)" font-size="13.889" text-anchor="start">200</text>
<line x1="821.50" y1="209.30" x2="826.36" y2="209.30" stroke="#000" stroke-width="1.111"/>
<text transform="translate(831.22 214.90)" font-size="13.889" text-anchor="start">0</text>
<line x1="821.50" y1="261.00" x2="826.36" y2="261.00" stroke="#000" stroke-width="1.111"/>
<text transform="translate(831.22 266.60) scale(0.950 1.000)" font-size="13.889" text-anchor="start">−200</text>
<text transform="translate(641.00 24.00) scale(1.000 1.070)" font-size="16.667" text-anchor="middle">Light Curve</text>
<text transform="translate(641.40 353.00)" font-size="13.889" text-anchor="middle">Time (s)</text>
<text transform="translate(884.00 172.40) rotate(-90)" font-size="13.889" text-anchor="middle">Brightness (mJy/beam)</text>
<g clip-path="url(#c4)" shape-rendering="crispEdges">
<rect x="461.40" y="484.00" width="3.30" height="161.35" fill="#0000ff" stroke="none" stroke-width="1.111" fill-opacity="0.3"/>
<rect x="464.70" y="446.00" width="3.30" height="199.35" fill="#0000ff" stroke="none" stroke-width="1.111" fill-opacity="0.3"/>
<rect x="468.00" y="466.00" width="3.30" height="179.35" fill="#0000ff" stroke="none" stroke-width="1.111" fill-opacity="0.3"/>
<rect x="471.30" y="517.00" width="3.30" height="128.35" fill="#0000ff" stroke="none" stroke-width="1.111" fill-opacity="0.3"/>
<rect x="474.60" y="568.80" width="3.30" height="76.55" fill="#0000ff" stroke="none" stroke-width="1.111" fill-opacity="0.3"/>
<rect x="477.90" y="601.00" width="3.30" height="44.35" fill="#0000ff" stroke="none" stroke-width="1.111" fill-opacity="0.3"/>
<rect x="481.20" y="615.00" width="3.30" height="30.35" fill="#0000ff" stroke="none" stroke-width="1.111" fill-opacity="0.3"/>
<rect x="484.50" y="626.00" width="3.30" height="19.35" fill="#0000ff" stroke="none" stroke-width="1.111" fill-opacity="0.3"/>
<rect x="487.80" y="633.10" width="3.30" height="12.25" fill="#0000ff" stroke="none" stroke-width="1.111" fill-opacity="0.3"/>
<rect x="491.10" y="637.80" width="3.30" height="7.55" fill="#0000ff" stroke="none" stroke-width="1.111" fill-opacity="0.3"/>
<rect x="494.40" y="639.90" width="3.30" height="5.45" fill="#0000ff" stroke="none" stroke-width="1.111" fill-opacity="0.3"/>
<rect x="497.70" y="641.40" width="3.30" height="3.95" fill="#0000ff" stroke="none" stroke-width="1.111" fill-opacity="0.3"/>
<rect x="501.00" y="642.40" width="3.30" height="2.95" fill="#0000ff" stroke="none" stroke-width="1.111" fill-opacity="0.3"/>
<rect x="504.30" y="643.00" width="3.30" height="2.35" fill="#0000ff" stroke="none" stroke-width="1.111" fill-opacity="0.3"/>
<rect x="507.60" y="643.30" width="3.30" height="2.05" fill="#0000ff" stroke="none" stroke-width="1.111" fill-opacity="0.3"/>
<rect x="510.90" y="643.60" width="3.30" height="1.75" fill="#0000ff" stroke="none" stroke-width="1.111" fill-opacity="0.3"/>
<rect x="514.20" y="643.90" width="3.30" height="1.45" fill="#0000ff" stroke="none" stroke-width="1.111" fill-opacity="0.3"/>
<rect x="517.50" y="644.10" width="3.30" height="1.25" fill="#0000ff" stroke="none" stroke-width="1.111" fill-opacity="0.3"/>
<rect x="520.80" y="644.30" width="3.30" height="1.05" fill="#0000ff" stroke="none" stroke-width="1.111" fill-opacity="0.3"/>
<rect x="524.10" y="644.40" width="3.30" height="0.95" fill="#0000ff" stroke="none" stroke-width="1.111" fill-opacity="0.3"/>
<rect x="527.40" y="644.00" width="92.60" height="1.40" fill="#0000ff" stroke="none" stroke-width="1.111" fill-opacity="0.3"/>
<rect x="461.00" y="398.90" width="7.00" height="246.45" fill="#ff0000" stroke="none" stroke-width="1.111" fill-opacity="0.3"/>
<rect x="468.00" y="378.00" width="6.00" height="267.35" fill="#ff0000" stroke="none" stroke-width="1.111" fill-opacity="0.3"/>
<rect x="474.00" y="484.00" width="7.00" height="161.35" fill="#ff0000" stroke="none" stroke-width="1.111" fill-opacity="0.3"/>
<rect x="481.00" y="560.00" width="7.00" height="85.35" fill="#ff0000" stroke="none" stroke-width="1.111" fill-opacity="0.3"/>
<rect x="488.00" y="599.90" width="7.00" height="45.45" fill="#ff0000" stroke="none" stroke-width="1.111" fill-opacity="0.3"/>
<rect x="495.00" y="617.10" width="7.00" height="28.25" fill="#ff0000" stroke="none" stroke-width="1.111" fill-opacity="0.3"/>
<rect x="502.00" y="630.00" width="7.00" height="15.35" fill="#ff0000" stroke="none" stroke-width="1.111" fill-opacity="0.3"/>
<rect x="509.00" y="635.90" width="7.00" height="9.45" fill="#ff0000" stroke="none" stroke-width="1.111" fill-opacity="0.3"/>
<rect x="516.00" y="639.10" width="7.00" height="6.25" fill="#ff0000" stroke="none" stroke-width="1.111" fill-opacity="0.3"/>
<rect x="523.00" y="642.20" width="7.00" height="3.15" fill="#ff0000" stroke="none" stroke-width="1.111" fill-opacity="0.3"/>
<rect x="530.00" y="643.30" width="7.00" height="2.05" fill="#ff0000" stroke="none" stroke-width="1.111" fill-opacity="0.3"/>
<rect x="537.00" y="643.90" width="7.00" height="1.45" fill="#ff0000" stroke="none" stroke-width="1.111" fill-opacity="0.3"/>
<rect x="544.00" y="644.20" width="7.00" height="1.15" fill="#ff0000" stroke="none" stroke-width="1.111" fill-opacity="0.3"/>
<rect x="551.00" y="644.40" width="7.00" height="0.95" fill="#ff0000" stroke="none" stroke-width="1.111" fill-opacity="0.3"/>
<rect x="558.00" y="644.50" width="7.00" height="0.85" fill="#ff0000" stroke="none" stroke-width="1.111" fill-opacity="0.3"/>
<rect x="565.00" y="644.60" width="7.00" height="0.75" fill="#ff0000" stroke="none" stroke-width="1.111" fill-opacity="0.3"/>
<rect x="572.00" y="644.00" width="31.00" height="1.40" fill="#ff0000" stroke="none" stroke-width="1.111" fill-opacity="0.3"/>
<rect x="620.00" y="644.00" width="19.00" height="1.40" fill="#ff0000" stroke="none" stroke-width="1.111" fill-opacity="0.3"/>
<rect x="646.00" y="644.00" width="33.00" height="1.40" fill="#ff0000" stroke="none" stroke-width="1.111" fill-opacity="0.3"/>
<rect x="687.00" y="644.00" width="14.00" height="1.40" fill="#ff0000" stroke="none" stroke-width="1.111" fill-opacity="0.3"/>
<rect x="722.00" y="644.00" width="7.00" height="1.40" fill="#ff0000" stroke="none" stroke-width="1.111" fill-opacity="0.3"/>
<rect x="770.00" y="644.00" width="7.00" height="1.40" fill="#ff0000" stroke="none" stroke-width="1.111" fill-opacity="0.3"/>
<rect x="791.00" y="644.00" width="12.00" height="1.40" fill="#ff0000" stroke="none" stroke-width="1.111" fill-opacity="0.3"/>
</g>
<g clip-path="url(#c4)">
<line x1="464.00" y1="365.50" x2="464.00" y2="645.35" stroke="#000" stroke-width="2.083" stroke-dasharray="7.71 3.33" stroke-dashoffset="4"/>
<line x1="471.10" y1="365.50" x2="471.10" y2="645.35" stroke="#000" stroke-width="2.083"/>
</g>
<rect x="461.45" y="365.50" width="360.05" height="279.85" fill="none" stroke="#000" stroke-width="1.111"/>
<line x1="461.45" y1="645.35" x2="461.45" y2="650.21" stroke="#000" stroke-width="1.111"/>
<text transform="translate(461.45 665.67)" font-size="13.889" text-anchor="middle">0</text>
<line x1="532.45" y1="645.35" x2="532.45" y2="650.21" stroke="#000" stroke-width="1.111"/>
<text transform="translate(532.45 665.67)" font-size="13.889" text-anchor="middle">10</text>
<line x1="603.45" y1="645.35" x2="603.45" y2="650.21" stroke="#000" stroke-width="1.111"/>
<text transform="translate(603.45 665.67)" font-size="13.889" text-anchor="middle">20</text>
<line x1="674.45" y1="645.35" x2="674.45" y2="650.21" stroke="#000" stroke-width="1.111"/>
<text transform="translate(674.45 665.67)" font-size="13.889" text-anchor="middle">30</text>
<line x1="745.45" y1="645.35" x2="745.45" y2="650.21" stroke="#000" stroke-width="1.111"/>
<text transform="translate(745.45 665.67)" font-size="13.889" text-anchor="middle">40</text>
<line x1="816.45" y1="645.35" x2="816.45" y2="650.21" stroke="#000" stroke-width="1.111"/>
<text transform="translate(816.45 665.67)" font-size="13.889" text-anchor="middle">50</text>
<line x1="821.50" y1="645.35" x2="826.36" y2="645.35" stroke="#000" stroke-width="1.111"/>
<text transform="translate(831.22 650.85) scale(0.975 1.000)" font-size="13.889" text-anchor="start">0</text>
<line x1="821.50" y1="589.75" x2="826.36" y2="589.75" stroke="#000" stroke-width="1.111"/>
<text transform="translate(831.22 595.25) scale(0.975 1.000)" font-size="13.889" text-anchor="start">1000</text>
<line x1="821.50" y1="534.15" x2="826.36" y2="534.15" stroke="#000" stroke-width="1.111"/>
<text transform="translate(831.22 539.65) scale(0.975 1.000)" font-size="13.889" text-anchor="start">2000</text>
<line x1="821.50" y1="478.55" x2="826.36" y2="478.55" stroke="#000" stroke-width="1.111"/>
<text transform="translate(831.22 484.05) scale(0.975 1.000)" font-size="13.889" text-anchor="start">3000</text>
<line x1="821.50" y1="422.95" x2="826.36" y2="422.95" stroke="#000" stroke-width="1.111"/>
<text transform="translate(831.22 428.45) scale(0.975 1.000)" font-size="13.889" text-anchor="start">4000</text>
<line x1="821.50" y1="367.35" x2="826.36" y2="367.35" stroke="#000" stroke-width="1.111"/>
<text transform="translate(831.22 372.85) scale(0.975 1.000)" font-size="13.889" text-anchor="start">5000</text>
<text transform="translate(641.40 685.00)" font-size="13.889" text-anchor="middle">Normalised stdev or detection statistics</text>
<text transform="translate(882.10 505.00) rotate(-90)" font-size="13.889" text-anchor="middle">Number of Sources</text>
<rect x="609.8" y="370.6" width="206.4" height="65.4" rx="2.5" ry="2.5" fill="#fff" fill-opacity="0.8" stroke="#ccc" stroke-opacity="0.8" stroke-width="1.1"/>
<rect x="614.20" y="375.30" width="22.20" height="7.80" fill="#0000ff" stroke="none" stroke-width="1.111" fill-opacity="0.3"/>
<rect x="614.20" y="390.10" width="22.20" height="7.80" fill="#ff0000" stroke="none" stroke-width="1.111" fill-opacity="0.3"/>
<line x1="614.20" y1="410.00" x2="636.40" y2="410.00" stroke="#000" stroke-width="2.083" stroke-dasharray="7.71 3.33"/>
<line x1="614.20" y1="425.30" x2="636.40" y2="425.30" stroke="#000" stroke-width="2.083"/>
<text transform="translate(645.40 383.20)" font-size="11.111" text-anchor="start">Known srcs residual</text>
<text transform="translate(645.40 397.70)" font-size="11.111" text-anchor="start">Known srcs detection statistic</text>
<text transform="translate(645.40 413.90)" font-size="11.111" text-anchor="start">Candidate residual</text>
<text transform="translate(645.40 429.20)" font-size="11.111" text-anchor="start">Candidate detection statistic</text>
</svg>
</body></html>
